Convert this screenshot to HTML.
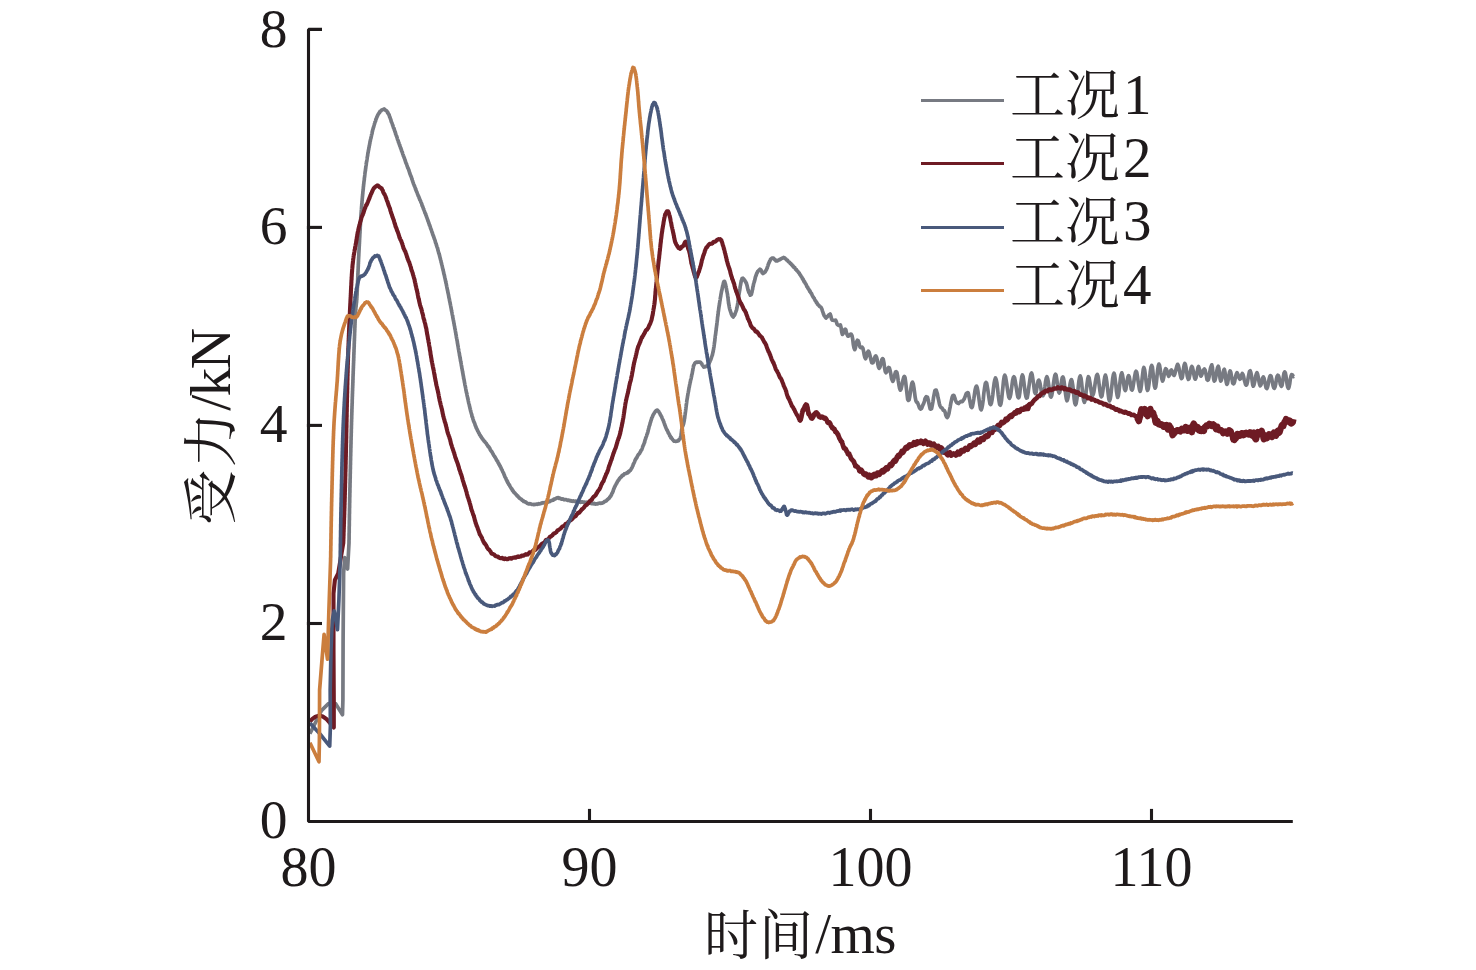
<!DOCTYPE html>
<html lang="zh-CN">
<head>
<meta charset="utf-8">
<title>受力-时间曲线</title>
<style>
html,body{margin:0;padding:0;background:#fff;}
body{width:1476px;height:970px;overflow:hidden;}
svg{display:block;}
</style>
</head>
<body>
<svg width="1476" height="970" viewBox="0 0 1476 970">
<rect width="1476" height="970" fill="#ffffff"/>
<path d="M309.9 733.7L321.4 710.6L328.5 703.6L335.5 703.6L342.5 714.7L342.9 700.0L343.1 640.0L343.6 573.4L344.7 557.7L347.6 569.0L349.0 543.0L349.0 543.0L349.0 542.3L349.0 541.6L349.0 540.9L349.0 540.2L349.1 539.5L349.1 538.8L349.1 538.1L349.1 537.5L349.1 536.8L349.1 536.1L349.1 535.4L349.1 534.7L349.1 534.1L349.1 533.4L349.2 532.7L349.2 532.0L349.2 531.4L349.2 530.7L349.2 530.0L349.2 529.3L349.2 528.7L349.2 528.0L349.2 527.3L349.2 526.7L349.3 526.0L349.3 525.3L349.3 524.6L349.3 524.0L349.3 523.3L349.3 522.6L349.3 521.9L349.3 521.2L349.3 520.6L349.4 519.9L349.4 519.2L349.4 518.5L349.4 517.8L349.4 517.1L349.4 516.4L349.4 515.7L349.4 515.0L349.4 514.3L349.5 513.6L349.5 512.9L349.5 512.2L349.5 511.4L349.5 510.7L349.5 510.0L349.5 509.2L349.5 508.5L349.6 507.8L349.6 507.0L349.6 506.2L349.6 505.5L349.6 504.7L349.6 503.9L349.6 503.2L349.7 502.4L349.7 501.6L349.7 500.8L349.7 500.0L349.7 499.4L349.7 498.8L349.7 498.2L349.7 497.6L349.8 496.9L349.8 496.3L349.8 495.7L349.8 495.1L349.8 494.4L349.8 493.8L349.8 493.1L349.9 492.5L349.9 491.9L349.9 491.2L349.9 490.5L349.9 489.9L349.9 489.2L349.9 488.6L349.9 487.9L350.0 487.2L350.0 486.5L350.0 485.9L350.0 485.2L350.0 484.5L350.0 483.8L350.0 483.1L350.1 482.4L350.1 481.7L350.1 481.0L350.1 480.3L350.1 479.6L350.1 478.9L350.2 478.2L350.2 477.5L350.2 476.8L350.2 476.1L350.2 475.4L350.2 474.7L350.2 474.0L350.3 473.3L350.3 472.5L350.3 471.8L350.3 471.1L350.3 470.4L350.3 469.6L350.4 468.9L350.4 468.2L350.4 467.5L350.4 466.7L350.4 466.0L350.4 465.3L350.5 464.5L350.5 463.8L350.5 463.1L350.5 462.3L350.5 461.6L350.5 460.9L350.6 460.1L350.6 459.4L350.6 458.7L350.6 457.9L350.6 457.2L350.6 456.5L350.7 455.7L350.7 455.0L350.7 454.2L350.7 453.5L350.7 452.8L350.8 452.0L350.8 451.3L350.8 450.6L350.8 449.8L350.8 449.1L350.8 448.4L350.9 447.6L350.9 446.9L350.9 446.2L350.9 445.4L350.9 444.7L351.0 444.0L351.0 443.3L351.0 442.5L351.0 441.8L351.0 441.1L351.0 440.4L351.1 439.7L351.1 438.9L351.1 438.2L351.1 437.5L351.1 436.8L351.2 436.1L351.2 435.4L351.2 434.7L351.2 434.0L351.2 433.3L351.3 432.6L351.3 431.9L351.3 431.2L351.3 430.5L351.3 429.8L351.3 429.1L351.4 428.4L351.4 427.7L351.4 427.1L351.4 426.4L351.4 425.7L351.5 425.0L351.5 424.4L351.5 423.7L351.5 423.0L351.5 422.2L351.6 421.5L351.6 420.8L351.6 420.0L351.6 419.3L351.7 418.5L351.7 417.8L351.7 417.1L351.7 416.4L351.7 415.6L351.8 414.9L351.8 414.2L351.8 413.4L351.8 412.7L351.9 412.0L351.9 411.3L351.9 410.5L351.9 409.8L351.9 409.1L352.0 408.4L352.0 407.7L352.0 407.2L352.0 406.4L352.1 405.6L352.1 404.8L352.1 403.7L352.1 403.6L352.2 402.9L352.2 401.9L352.2 401.3L352.2 400.8L352.2 399.8L352.3 399.1L352.3 398.4L352.3 397.9L352.3 397.2L352.4 396.1L352.4 395.8L352.4 394.8L352.4 394.3L352.5 393.3L352.5 393.1L352.5 392.4L352.5 391.6L352.6 390.5L352.6 389.8L352.6 389.2L352.6 388.6L352.7 387.5L352.7 387.2L352.7 386.8L352.7 385.4L352.8 385.4L352.8 384.4L352.8 384.1L352.8 383.2L352.9 382.5L352.9 381.8L352.9 380.9L352.9 379.9L353.0 379.8L353.0 379.2L353.0 378.4L353.0 377.3L353.0 376.8L353.1 376.1L353.1 375.3L353.1 374.7L353.1 374.0L353.2 373.8L353.2 372.8L353.2 372.4L353.2 371.7L353.3 370.4L353.3 370.2L353.3 369.2L353.3 368.7L353.4 368.0L353.4 367.5L353.4 366.4L353.4 366.1L353.5 365.2L353.5 364.8L353.5 363.9L353.5 363.4L353.6 363.0L353.6 361.7L353.6 360.8L353.7 360.7L353.7 359.7L353.7 359.0L353.7 358.4L353.8 357.7L353.8 356.5L353.8 356.2L353.8 355.0L353.9 354.5L353.9 353.8L353.9 352.6L354.0 351.9L354.0 351.0L354.0 350.2L354.0 349.5L354.1 349.0L354.1 347.6L354.1 347.5L354.2 346.6L354.2 345.6L354.2 344.9L354.2 343.8L354.3 343.4L354.3 342.7L354.3 341.5L354.4 340.8L354.4 339.8L354.4 339.0L354.4 338.7L354.5 337.7L354.5 336.8L354.5 336.2L354.6 335.0L354.6 334.1L354.6 333.6L354.6 333.0L354.7 331.9L354.7 331.5L354.7 330.5L354.8 329.7L354.8 329.4L354.8 328.3L354.8 327.9L354.9 327.2L354.9 326.2L354.9 325.2L355.0 325.1L355.0 324.2L355.0 323.5L355.0 322.9L355.1 322.2L355.1 321.8L355.1 320.4L355.2 320.5L355.2 319.6L355.2 318.8L355.3 318.6L355.3 318.0L355.3 317.1L355.3 316.1L355.4 316.0L355.4 315.2L355.4 314.8L355.5 314.5L355.5 313.4L355.5 313.4L355.6 312.5L355.6 312.0L355.6 311.3L355.6 310.9L355.7 310.6L355.7 310.3L355.8 309.7L355.8 308.2L355.9 307.5L356.0 306.9L356.1 306.5L356.1 305.6L356.2 305.3L356.3 304.2L356.3 303.5L356.4 303.3L356.5 302.7L356.6 301.5L356.6 300.6L356.7 300.1L356.7 299.2L356.8 299.4L356.8 298.7L356.8 297.8L356.9 297.5L356.9 296.6L356.9 296.1L357.0 295.8L357.0 295.6L357.0 295.1L357.1 294.3L357.1 293.6L357.1 293.0L357.1 292.3L357.2 291.8L357.2 291.0L357.2 290.2L357.3 289.9L357.3 288.8L357.3 288.2L357.4 287.7L357.4 287.3L357.4 286.1L357.5 285.4L357.5 284.7L357.5 283.8L357.5 283.2L357.6 282.8L357.6 281.5L357.6 281.0L357.7 280.1L357.7 279.6L357.7 278.9L357.8 277.6L357.8 277.2L357.8 276.1L357.9 275.7L357.9 275.0L357.9 273.8L358.0 273.0L358.0 272.3L358.0 271.5L358.1 271.2L358.1 270.4L358.1 269.5L358.2 268.4L358.2 267.7L358.2 266.7L358.3 266.1L358.3 265.7L358.3 264.2L358.4 263.7L358.4 262.7L358.4 262.5L358.5 261.2L358.5 260.6L358.5 259.5L358.6 259.2L358.6 258.3L358.6 257.8L358.7 257.0L358.7 256.3L358.8 255.1L358.8 254.4L358.8 254.0L358.9 252.9L358.9 252.9L358.9 252.0L359.0 251.1L359.0 250.3L359.1 249.4L359.1 249.1L359.1 248.6L359.2 247.3L359.2 246.6L359.2 246.4L359.3 245.5L359.3 245.0L359.3 244.0L359.4 243.8L359.4 242.9L359.5 241.8L359.5 241.2L359.5 240.6L359.6 239.7L359.6 239.3L359.6 238.5L359.7 237.9L359.7 236.7L359.8 236.2L359.8 235.5L359.8 234.8L359.9 233.6L359.9 233.5L360.0 232.5L360.0 231.5L360.0 231.3L360.1 230.4L360.1 229.8L360.2 229.1L360.2 228.3L360.2 227.8L360.3 226.4L360.3 225.8L360.4 225.0L360.4 224.6L360.4 223.6L360.5 222.7L360.5 222.1L360.6 221.4L360.6 221.0L360.7 220.2L360.7 219.5L360.8 218.4L360.8 218.1L360.8 217.2L360.9 216.4L360.9 215.6L361.0 215.0L361.0 214.5L361.1 213.6L361.1 213.2L361.2 212.2L361.2 212.0L361.3 211.4L361.3 210.3L361.4 209.4L361.4 209.4L361.5 208.1L361.5 207.8L361.6 207.3L361.6 206.4L361.7 206.0L361.7 204.8L361.8 204.6L361.8 204.1L361.9 203.4L362.0 202.6L362.0 201.5L362.1 200.8L362.2 200.4L362.2 199.2L362.3 198.4L362.4 197.5L362.4 196.9L362.5 196.1L362.6 196.0L362.6 194.8L362.7 194.1L362.8 193.8L362.8 192.9L362.9 192.0L363.0 191.0L363.1 190.5L363.1 189.7L363.2 189.5L363.3 188.4L363.3 188.1L363.4 186.8L363.5 186.0L363.6 185.9L363.6 184.6L363.7 184.4L363.8 183.6L363.9 182.7L363.9 182.4L364.0 181.4L364.1 181.1L364.2 180.1L364.3 179.7L364.3 179.0L364.4 177.9L364.5 177.5L364.6 176.8L364.7 176.1L364.8 174.9L364.8 174.8L364.9 174.2L365.0 173.0L365.1 172.3L365.2 171.6L365.3 171.3L365.4 170.3L365.5 170.2L365.5 169.2L365.6 169.0L365.7 168.2L365.8 167.3L365.9 166.4L366.0 165.9L366.1 165.3L366.2 164.8L366.3 164.1L366.4 162.9L366.5 161.9L366.7 161.6L366.8 160.9L366.9 160.1L367.0 159.5L367.1 158.8L367.2 157.9L367.3 157.3L367.5 156.0L367.6 156.0L367.7 155.0L367.8 153.8L367.9 153.1L368.1 152.8L368.2 151.8L368.3 151.6L368.4 150.4L368.6 149.8L368.7 149.1L368.8 148.8L368.9 147.6L369.1 147.3L369.2 146.5L369.3 145.7L369.5 145.3L369.6 144.6L369.7 143.8L369.9 143.0L370.0 141.9L370.1 141.4L370.3 141.1L370.4 140.0L370.5 139.8L370.7 138.9L370.8 138.3L371.0 138.0L371.1 137.4L371.3 136.5L371.5 135.5L371.6 134.8L371.8 134.4L372.0 133.6L372.2 132.6L372.3 131.4L372.5 131.3L372.7 129.9L372.9 129.2L373.1 128.9L373.3 127.8L373.5 127.6L373.7 126.8L373.9 125.7L374.0 125.6L374.2 125.0L374.4 124.1L374.6 123.7L374.8 122.9L375.0 122.0L375.2 121.7L375.5 121.2L375.7 120.4L375.9 119.3L376.1 119.0L376.3 118.8L376.6 117.7L377.0 116.7L377.3 116.2L377.7 115.2L378.1 114.7L378.4 113.7L378.8 113.6L379.2 112.6L379.6 112.6L380.0 111.4L380.4 111.4L381.0 110.9L381.6 110.0L382.2 109.9L382.9 109.6L383.5 109.4L384.1 109.0L384.7 109.5L385.3 110.1L385.9 110.4L386.5 110.8L387.1 111.5L387.6 112.7L387.9 112.5L388.2 113.4L388.5 114.0L388.8 114.5L389.1 114.8L389.3 115.5L389.6 116.8L389.9 117.2L390.1 117.8L390.4 118.7L390.7 119.2L390.9 120.0L391.2 121.4L391.5 122.1L391.8 122.5L392.0 123.1L392.2 123.5L392.4 124.3L392.6 125.0L392.9 125.8L393.1 126.2L393.3 127.1L393.5 127.9L393.8 128.2L394.0 128.4L394.2 129.1L394.4 130.2L394.7 130.5L394.9 131.8L395.1 131.8L395.4 132.5L395.6 133.9L395.9 134.2L396.1 135.0L396.3 135.7L396.6 136.0L396.8 136.9L397.1 137.6L397.3 138.6L397.5 139.4L397.8 140.0L398.0 140.3L398.3 141.2L398.5 142.3L398.8 142.4L399.0 143.2L399.2 144.0L399.5 145.0L399.7 144.9L399.9 146.1L400.2 146.6L400.4 147.3L400.6 148.2L400.9 148.2L401.1 149.3L401.4 149.8L401.6 150.8L401.8 151.4L402.1 151.8L402.3 152.3L402.6 153.5L402.8 154.1L403.1 154.6L403.3 155.5L403.5 156.3L403.8 156.4L404.0 157.4L404.3 158.2L404.5 158.4L404.8 159.6L405.0 159.8L405.3 161.0L405.5 161.4L405.7 162.4L406.0 163.0L406.2 163.5L406.5 163.9L406.7 164.6L407.0 165.4L407.2 166.2L407.4 166.6L407.7 167.7L407.9 167.8L408.2 168.7L408.4 169.1L408.7 169.8L408.9 170.5L409.1 171.0L409.4 172.1L409.6 172.8L409.9 173.3L410.1 174.3L410.4 174.8L410.6 175.6L410.8 175.8L411.1 176.6L411.3 177.0L411.6 177.8L411.8 179.0L412.1 179.1L412.3 180.2L412.5 180.7L412.8 181.6L413.0 182.4L413.3 183.0L413.5 183.8L413.8 184.5L414.0 184.7L414.3 185.8L414.5 186.3L414.8 186.6L415.0 187.3L415.3 188.1L415.5 189.0L415.8 189.1L416.0 190.4L416.3 190.9L416.5 191.5L416.8 192.0L417.1 192.6L417.3 193.3L417.6 194.2L417.9 194.7L418.1 195.6L418.4 196.3L418.7 196.4L418.9 197.0L419.2 198.4L419.5 198.4L419.7 199.6L420.0 199.9L420.3 200.4L420.5 200.9L420.8 201.9L421.1 202.7L421.3 202.9L421.6 203.5L421.9 204.4L422.1 205.6L422.4 206.1L422.7 206.4L422.9 207.2L423.2 207.9L423.4 208.8L423.7 209.1L423.9 209.8L424.2 210.6L424.4 211.1L424.7 211.9L424.9 212.8L425.2 213.3L425.5 213.6L425.7 214.5L426.0 215.3L426.2 215.7L426.5 216.5L426.7 217.4L427.0 217.9L427.2 218.4L427.5 219.7L427.7 219.7L428.0 221.0L428.2 221.1L428.5 222.1L428.7 222.8L429.0 223.4L429.2 224.2L429.4 225.1L429.7 225.3L429.9 225.8L430.2 226.5L430.4 227.8L430.6 228.2L430.9 229.0L431.1 229.3L431.3 229.9L431.6 230.9L431.8 231.4L432.0 232.3L432.2 232.4L432.5 233.3L432.7 234.3L433.0 235.1L433.2 235.5L433.5 236.4L433.7 236.5L433.9 237.6L434.2 238.1L434.4 239.0L434.6 239.4L434.8 239.9L435.1 240.7L435.3 241.7L435.5 242.3L435.7 243.2L435.9 243.4L436.2 243.8L436.4 245.1L436.6 245.3L436.8 246.4L437.0 246.9L437.2 247.6L437.5 247.9L437.7 248.8L437.9 250.0L438.1 250.5L438.3 251.4L438.5 252.0L438.6 252.5L438.8 253.5L439.0 253.3L439.2 254.3L439.4 255.1L439.6 255.4L439.7 256.7L439.9 256.8L440.1 257.9L440.3 258.3L440.4 259.1L440.6 259.8L440.8 260.4L441.0 261.0L441.1 262.1L441.3 262.8L441.5 263.0L441.7 264.4L441.8 264.5L442.0 265.3L442.2 266.0L442.3 266.8L442.5 267.6L442.7 268.6L442.8 268.7L443.0 269.8L443.2 270.5L443.3 270.9L443.5 271.7L443.7 272.5L443.8 273.5L444.0 274.1L444.1 274.6L444.3 275.0L444.5 275.9L444.6 276.9L444.8 277.3L444.9 277.9L445.1 278.8L445.2 279.0L445.4 280.2L445.5 280.9L445.7 281.1L445.8 282.1L446.0 283.1L446.1 283.3L446.3 284.2L446.4 284.7L446.5 285.6L446.7 286.1L446.8 286.8L447.0 287.9L447.1 288.4L447.3 289.3L447.4 289.5L447.5 290.3L447.7 290.9L447.8 292.0L448.0 292.3L448.1 293.2L448.2 293.5L448.4 294.5L448.5 294.9L448.7 296.2L448.8 296.4L448.9 297.6L449.1 298.0L449.2 298.5L449.4 299.3L449.5 300.3L449.6 300.8L449.8 301.6L449.9 302.1L450.0 302.8L450.2 303.2L450.3 304.4L450.5 304.9L450.6 305.6L450.7 306.0L450.9 307.1L451.0 307.6L451.1 308.1L451.3 309.3L451.4 309.9L451.5 310.5L451.7 311.3L451.8 311.9L451.9 312.3L452.1 313.5L452.2 314.1L452.3 314.6L452.4 315.1L452.6 315.9L452.7 316.2L452.8 317.6L453.0 318.3L453.1 318.8L453.2 319.4L453.4 320.4L453.5 320.5L453.6 321.5L453.8 322.2L453.9 323.2L454.1 323.7L454.2 324.6L454.3 325.6L454.5 326.0L454.6 326.5L454.7 327.1L454.8 328.4L455.0 328.8L455.1 329.4L455.2 329.7L455.3 330.5L455.4 331.1L455.6 332.5L455.7 332.5L455.8 333.4L455.9 334.2L456.1 335.0L456.2 335.4L456.3 336.4L456.4 337.1L456.5 338.1L456.7 338.1L456.8 339.0L456.9 339.5L457.0 340.4L457.2 341.0L457.3 341.6L457.4 342.9L457.5 343.2L457.7 344.3L457.8 345.1L457.9 345.8L458.0 345.9L458.2 347.1L458.3 348.0L458.4 348.5L458.5 349.2L458.7 349.8L458.8 350.8L458.9 351.3L459.0 351.9L459.2 352.7L459.3 353.4L459.4 353.9L459.5 355.0L459.7 355.9L459.8 356.4L459.9 356.6L460.0 357.6L460.2 358.6L460.3 358.8L460.4 359.8L460.5 360.7L460.7 361.2L460.8 361.8L460.9 362.2L461.1 363.5L461.2 363.8L461.3 364.8L461.4 365.5L461.6 366.4L461.7 366.6L461.8 368.0L462.0 368.5L462.1 369.4L462.2 369.5L462.3 370.7L462.5 371.1L462.6 372.1L462.7 372.8L462.9 373.3L463.0 374.4L463.1 374.7L463.2 375.5L463.4 376.4L463.5 376.7L463.6 378.0L463.8 378.2L463.9 379.4L464.0 379.5L464.2 380.2L464.3 381.3L464.4 381.7L464.5 382.6L464.7 383.1L464.8 384.2L464.9 384.9L465.1 385.5L465.2 385.8L465.3 386.4L465.5 387.5L465.6 387.8L465.8 389.0L465.9 389.5L466.0 390.5L466.2 391.1L466.3 391.6L466.4 392.4L466.6 392.8L466.7 393.3L466.9 393.8L467.0 395.0L467.2 395.7L467.3 396.4L467.5 397.0L467.6 397.7L467.8 398.8L468.0 399.1L468.1 399.7L468.3 401.1L468.5 401.6L468.6 402.5L468.8 403.3L468.9 403.6L469.1 404.1L469.3 405.0L469.4 405.8L469.6 406.4L469.8 407.4L469.9 407.7L470.1 409.0L470.3 409.0L470.4 409.8L470.6 410.9L470.8 411.1L471.0 412.2L471.1 412.5L471.3 413.3L471.5 414.0L471.7 414.4L471.9 415.5L472.0 416.3L472.2 416.9L472.4 416.9L472.6 417.4L472.8 418.4L473.0 419.2L473.2 419.6L473.5 420.7L473.7 421.5L474.0 421.9L474.2 422.3L474.5 423.1L474.7 423.5L475.0 424.4L475.2 425.4L475.5 425.7L475.7 426.2L476.0 427.2L476.3 428.1L476.6 428.5L476.8 428.7L477.1 429.6L477.4 430.0L477.7 431.1L478.1 431.4L478.4 432.1L478.7 433.0L479.0 433.2L479.4 434.0L479.7 435.0L480.1 435.0L480.5 435.8L480.8 436.5L481.2 436.8L481.6 437.6L482.0 438.0L482.4 438.9L482.9 439.3L483.3 440.0L483.7 440.4L484.1 441.1L484.6 441.4L485.0 441.8L485.4 442.5L485.9 443.0L486.3 443.4L486.8 444.5L487.2 444.9L487.6 445.5L488.0 446.3L488.5 446.3L488.9 447.0L489.3 448.1L489.7 448.1L490.1 449.4L490.4 449.7L490.8 450.6L491.2 451.1L491.5 451.3L491.9 451.9L492.3 452.5L492.7 453.4L493.0 453.8L493.4 454.6L493.8 455.4L494.1 455.8L494.5 456.2L494.8 457.0L495.2 457.4L495.6 458.1L495.9 458.6L496.3 459.6L496.6 460.3L497.0 460.6L497.3 461.2L497.7 461.4L498.0 462.4L498.4 463.3L498.7 463.4L499.0 464.4L499.4 464.6L499.7 465.6L500.0 465.8L500.3 466.7L500.7 467.5L501.0 467.6L501.3 468.9L501.7 469.4L502.0 469.8L502.3 470.5L502.6 471.4L502.9 472.2L503.2 472.5L503.5 473.0L503.8 473.8L504.1 474.8L504.4 475.3L504.7 476.3L505.0 476.9L505.3 477.3L505.6 478.1L505.9 478.4L506.2 479.4L506.5 480.1L506.8 480.4L507.1 481.3L507.5 481.5L507.8 482.8L508.2 483.1L508.5 484.0L508.9 484.5L509.3 484.7L509.7 485.8L510.0 486.3L510.4 486.8L510.8 487.6L511.2 488.3L511.6 488.8L512.0 489.1L512.4 490.3L512.8 490.8L513.2 491.0L513.6 491.9L514.0 492.5L514.4 492.6L514.8 493.0L515.2 493.5L515.7 494.2L516.1 494.4L516.6 495.0L517.1 496.0L517.7 495.9L518.2 496.9L518.7 497.3L519.3 498.0L519.8 498.1L520.3 498.7L520.9 499.0L521.5 499.2L522.0 500.3L522.6 500.3L523.2 500.6L523.7 501.5L524.3 501.4L525.0 501.9L525.6 501.9L526.3 502.5L527.0 503.2L527.6 503.4L528.3 503.7L529.0 504.0L529.7 503.7L530.4 503.8L531.1 504.0L531.9 504.5L532.6 504.5L533.3 504.4L534.0 504.7L534.7 504.3L535.5 504.5L536.2 504.3L537.0 504.0L537.7 504.3L538.5 503.7L539.3 504.0L540.0 503.8L540.8 503.4L541.5 503.3L542.2 502.9L542.9 502.7L543.6 503.0L544.3 502.6L545.1 502.6L545.8 502.3L546.5 502.0L547.2 501.8L547.8 502.1L548.5 501.7L549.2 501.2L549.8 501.6L550.5 500.8L551.1 500.7L551.8 500.3L552.5 500.3L553.2 500.1L553.9 499.1L554.5 499.4L555.2 498.8L555.9 498.6L556.6 498.1L557.3 497.9L557.9 497.6L558.6 497.8L559.2 498.4L559.9 498.1L560.6 498.8L561.3 498.9L562.0 499.2L562.7 498.8L563.4 499.3L564.1 499.8L564.9 499.6L565.6 499.7L566.3 499.6L567.0 500.2L567.7 500.3L568.5 500.2L569.2 500.3L569.9 500.8L570.7 500.5L571.4 501.1L572.2 501.3L572.9 501.0L573.7 500.9L574.4 501.4L575.2 501.2L575.9 501.2L576.6 501.8L577.4 501.7L578.1 501.6L578.8 501.6L579.6 502.1L580.3 502.3L581.0 501.9L581.8 502.2L582.5 501.9L583.3 502.2L584.0 502.3L584.7 502.2L585.5 502.5L586.2 502.5L586.9 502.2L587.7 502.4L588.4 502.7L589.2 502.7L589.9 503.1L590.7 503.3L591.4 503.4L592.2 503.7L592.9 503.6L593.7 503.8L594.4 503.4L595.1 504.0L595.8 504.1L596.5 503.8L597.2 503.9L598.0 503.6L598.7 503.4L599.4 503.1L600.1 503.2L600.8 503.3L601.5 503.2L602.2 503.1L602.8 502.5L603.5 502.6L604.1 501.9L604.7 501.3L605.3 501.3L605.9 501.0L606.4 500.8L607.0 500.0L607.5 499.4L608.0 499.5L608.5 498.5L609.0 498.5L609.5 497.8L609.9 496.8L610.4 496.5L610.7 496.2L611.1 495.2L611.4 495.2L611.7 493.9L612.0 493.3L612.3 493.0L612.6 492.4L612.8 491.7L613.1 491.2L613.4 490.0L613.7 489.1L613.9 488.8L614.2 488.0L614.5 487.3L614.8 486.6L615.1 486.3L615.4 485.2L615.7 484.9L616.0 484.3L616.4 483.4L616.8 483.2L617.2 482.0L617.6 481.5L618.0 480.7L618.4 480.5L618.8 479.9L619.2 479.1L619.7 478.3L620.1 478.2L620.5 477.4L621.0 477.1L621.5 476.6L622.0 475.6L622.6 475.1L623.1 475.3L623.8 474.9L624.4 473.9L625.1 473.7L625.7 473.5L626.4 473.4L627.0 472.6L627.7 472.8L628.3 471.7L628.9 471.9L629.5 470.7L630.0 470.6L630.4 470.4L630.8 469.7L631.2 469.2L631.5 468.2L631.8 468.1L632.1 467.4L632.5 466.3L632.7 466.0L633.0 465.5L633.3 464.2L633.6 463.7L633.9 463.3L634.2 462.5L634.5 462.1L634.8 461.0L635.1 460.4L635.4 459.6L635.7 459.0L636.1 458.9L636.4 457.8L636.8 457.7L637.1 457.0L637.5 456.2L637.9 455.4L638.3 454.6L638.7 454.1L639.0 454.1L639.4 453.6L639.8 453.1L640.2 451.9L640.5 451.8L640.9 450.8L641.2 450.1L641.6 449.9L641.9 449.2L642.2 448.4L642.5 447.5L642.7 446.7L643.0 446.0L643.3 445.4L643.6 444.7L643.8 444.3L644.1 443.3L644.3 442.5L644.6 442.4L644.8 441.2L645.0 440.2L645.3 439.5L645.5 439.2L645.7 438.1L645.9 437.8L646.2 436.7L646.4 436.4L646.6 435.8L646.8 435.1L647.0 434.2L647.2 433.9L647.5 433.3L647.7 432.4L647.9 431.8L648.1 431.1L648.3 430.0L648.5 429.4L648.7 428.6L648.8 428.2L649.0 427.1L649.2 426.4L649.4 425.9L649.6 425.4L649.8 425.0L650.0 423.9L650.2 422.9L650.4 422.4L650.6 422.1L650.9 420.7L651.1 420.3L651.3 419.7L651.5 419.1L651.7 418.0L652.0 417.6L652.2 417.2L652.5 416.6L652.8 415.7L653.2 414.8L653.6 414.2L654.1 413.5L654.5 412.7L655.0 412.0L655.5 411.2L656.0 411.0L656.4 410.4L656.9 410.2L657.4 410.2L657.8 410.9L658.3 411.0L658.8 411.7L659.2 412.4L659.7 413.2L660.1 414.0L660.6 415.2L661.0 415.6L661.3 416.2L661.6 416.7L661.9 417.5L662.2 418.4L662.5 418.9L662.8 419.6L663.1 420.2L663.4 420.8L663.6 421.6L663.9 422.2L664.2 423.1L664.4 423.6L664.7 424.6L664.9 425.3L665.2 425.6L665.5 426.9L665.8 427.3L666.1 428.2L666.4 428.7L666.7 429.6L667.0 430.2L667.3 430.4L667.7 431.4L668.0 431.8L668.3 432.9L668.7 433.3L669.0 433.9L669.4 434.4L669.8 435.9L670.1 435.9L670.5 436.7L670.9 437.8L671.4 437.7L671.8 438.5L672.3 439.1L672.9 439.9L673.5 440.6L674.1 441.2L674.7 441.1L675.3 441.2L675.9 441.4L676.5 441.1L677.1 441.1L677.8 441.0L678.4 440.8L679.0 439.6L679.5 439.1L680.0 438.9L680.3 438.2L680.5 437.5L680.7 436.6L680.9 435.9L681.0 435.3L681.1 434.9L681.2 433.7L681.3 433.2L681.4 432.7L681.5 431.3L681.6 430.7L681.6 430.1L681.7 429.5L681.9 429.0L682.0 428.3L682.2 427.3L682.5 426.6L682.7 426.2L683.0 425.4L683.2 425.1L683.5 424.0L683.7 423.1L683.8 422.7L683.9 422.1L684.0 421.6L684.1 421.2L684.2 420.6L684.3 420.4L684.4 419.2L684.5 418.7L684.6 418.5L684.7 417.7L684.8 416.8L684.9 415.9L685.0 415.1L685.1 414.6L685.2 413.9L685.3 413.1L685.4 412.2L685.5 411.6L685.6 410.9L685.7 409.8L685.8 409.4L685.9 408.7L686.0 407.5L686.1 406.7L686.2 405.7L686.3 405.3L686.4 404.6L686.5 403.6L686.6 403.0L686.7 402.2L686.8 401.0L686.9 400.2L687.0 399.8L687.1 399.4L687.2 398.5L687.4 397.6L687.5 396.7L687.6 395.9L687.7 395.7L687.8 395.1L687.9 394.1L688.1 393.1L688.2 392.5L688.3 392.1L688.5 391.4L688.6 390.4L688.7 390.0L688.9 388.9L689.0 387.9L689.2 387.3L689.3 387.1L689.4 386.3L689.6 385.1L689.7 384.5L689.9 383.9L690.0 383.3L690.2 382.2L690.3 382.3L690.4 381.3L690.6 380.4L690.7 379.5L690.9 379.3L691.0 379.0L691.2 378.1L691.3 377.6L691.4 377.0L691.6 376.2L691.7 375.1L691.9 374.7L692.0 374.4L692.2 373.4L692.4 372.4L692.5 371.5L692.6 371.2L692.8 370.3L692.9 369.1L693.1 368.5L693.2 368.0L693.4 366.7L693.5 366.3L693.7 365.3L693.9 365.2L694.2 364.6L694.5 364.2L694.8 363.3L695.1 363.0L695.7 362.4L696.4 362.1L697.2 362.3L698.0 362.2L698.8 362.1L699.5 362.1L700.2 362.0L700.7 362.5L701.2 363.2L701.7 363.5L702.1 364.6L702.5 365.3L702.9 365.7L703.4 366.3L703.8 367.0L704.3 366.8L704.9 366.9L705.5 366.6L706.1 366.1L706.8 366.3L707.4 365.7L708.0 364.9L708.5 364.0L708.8 363.7L709.2 363.2L709.5 362.4L709.8 361.9L710.1 360.9L710.4 360.4L710.7 359.8L710.9 359.1L711.2 358.6L711.4 357.5L711.7 356.7L711.9 356.4L712.1 355.6L712.4 354.9L712.6 353.9L712.8 352.9L712.9 352.5L713.0 352.2L713.2 351.5L713.3 350.4L713.4 349.9L713.6 349.4L713.7 348.2L713.8 347.7L713.9 347.4L714.0 346.7L714.1 345.8L714.2 345.1L714.3 344.4L714.4 343.5L714.5 342.5L714.6 342.3L714.7 341.6L714.8 340.6L714.9 340.1L714.9 339.4L715.0 338.5L715.1 337.9L715.2 337.2L715.3 335.7L715.4 335.7L715.5 334.6L715.6 334.1L715.7 333.3L715.8 332.1L715.9 331.8L716.0 330.7L716.1 330.5L716.2 329.5L716.2 328.9L716.3 328.1L716.4 327.8L716.5 326.9L716.6 325.9L716.7 325.6L716.8 324.4L716.9 324.2L716.9 323.3L717.0 322.7L717.1 321.9L717.2 321.4L717.3 320.5L717.4 319.6L717.5 318.9L717.5 318.2L717.6 317.2L717.7 316.5L717.8 316.2L717.9 315.5L718.0 314.9L718.1 314.0L718.2 313.2L718.2 312.4L718.3 311.9L718.4 311.2L718.5 310.8L718.6 309.9L718.7 309.0L718.8 308.2L718.9 307.3L719.0 307.1L719.1 306.0L719.3 305.2L719.4 304.2L719.5 303.8L719.6 303.3L719.7 302.1L719.8 301.7L719.9 300.9L720.1 300.1L720.2 299.3L720.3 298.3L720.4 297.9L720.5 297.1L720.7 296.7L720.8 295.6L720.9 294.8L721.0 294.5L721.1 293.6L721.3 292.7L721.4 292.3L721.5 291.3L721.6 290.7L721.8 290.7L721.9 289.8L722.1 289.2L722.3 287.8L722.5 287.1L722.7 285.9L722.9 285.5L723.1 284.5L723.3 283.5L723.5 282.8L723.7 282.1L723.9 281.6L724.1 281.7L724.3 281.3L724.5 281.3L724.7 281.7L724.8 282.2L725.0 283.1L725.2 283.2L725.4 283.9L725.6 285.2L725.8 285.8L725.9 286.5L726.1 287.4L726.3 288.1L726.5 289.0L726.7 290.2L726.8 291.2L727.0 291.6L727.1 292.5L727.2 292.9L727.4 293.9L727.5 294.4L727.6 295.4L727.7 296.2L727.8 296.7L727.9 297.4L728.0 298.0L728.1 298.9L728.2 300.0L728.3 300.9L728.4 301.2L728.5 302.6L728.6 303.4L728.8 303.7L728.9 304.6L729.0 305.4L729.1 305.9L729.2 306.6L729.4 307.6L729.5 308.1L729.6 308.6L729.8 309.4L729.9 309.6L730.1 310.4L730.4 311.2L730.7 312.0L731.1 313.2L731.4 314.3L731.8 314.9L732.1 315.6L732.5 316.3L732.9 316.4L733.2 317.0L733.5 316.2L733.9 315.7L734.3 315.6L734.6 315.1L735.0 314.0L735.3 313.1L735.7 312.1L736.0 311.1L736.3 310.6L736.5 310.2L736.6 309.1L736.8 308.8L736.9 308.1L737.0 307.1L737.2 307.0L737.3 306.1L737.4 305.8L737.5 305.0L737.6 304.2L737.8 303.0L737.9 302.1L738.0 301.9L738.1 300.5L738.2 300.2L738.3 299.0L738.4 298.6L738.5 297.3L738.6 296.6L738.7 296.5L738.8 295.4L738.9 294.6L739.0 294.3L739.1 293.5L739.3 292.3L739.4 292.1L739.5 291.0L739.7 290.2L739.8 289.3L740.0 288.3L740.1 287.4L740.2 286.5L740.4 285.5L740.5 285.2L740.7 283.9L740.8 283.2L741.0 282.6L741.1 281.7L741.3 280.6L741.5 280.6L741.6 280.0L741.8 279.5L742.0 278.7L742.3 278.9L742.5 278.6L743.0 278.2L743.5 278.7L744.0 279.5L744.6 280.1L745.1 281.1L745.6 281.7L745.9 282.3L746.1 283.0L746.4 283.1L746.6 284.3L746.8 284.3L747.0 285.7L747.2 285.9L747.4 287.1L747.5 287.8L747.7 288.3L747.9 289.5L748.1 290.4L748.3 290.6L748.5 291.2L748.7 292.1L749.1 292.8L749.5 293.2L749.9 294.2L750.3 295.2L750.7 294.8L750.9 294.7L751.1 294.6L751.3 294.5L751.5 293.9L751.7 292.9L751.9 292.4L752.1 291.1L752.3 290.3L752.5 289.6L752.7 288.9L752.8 287.6L753.0 286.6L753.2 286.3L753.4 284.9L753.6 284.0L753.8 283.3L754.0 282.5L754.2 282.0L754.4 281.5L754.6 280.8L754.8 279.8L755.0 279.2L755.1 278.3L755.3 277.8L755.5 276.7L755.7 276.4L756.0 275.3L756.2 275.4L756.4 274.2L756.6 273.9L756.9 273.1L757.3 272.5L757.7 271.5L758.2 271.1L758.6 270.5L759.1 270.0L759.6 269.7L760.0 269.2L760.4 269.5L760.9 269.9L761.3 270.6L761.8 271.7L762.2 272.8L762.6 272.7L763.1 273.5L763.6 273.1L764.1 272.9L764.7 272.1L765.2 271.8L765.7 270.9L766.2 270.0L766.5 269.6L766.8 268.7L767.1 268.1L767.3 268.0L767.5 266.6L767.8 266.1L768.0 265.6L768.2 264.3L768.5 264.3L768.7 263.0L769.0 263.0L769.3 261.9L769.7 261.3L770.1 260.5L770.5 259.4L771.0 259.0L771.4 258.6L771.9 258.2L772.4 258.0L772.9 258.1L773.5 258.0L774.1 258.8L774.7 259.6L775.3 259.8L775.9 260.9L776.5 260.6L777.2 260.9L777.9 260.4L778.6 259.9L779.3 260.0L779.9 259.3L780.6 259.1L781.4 258.6L782.2 258.2L782.9 258.2L783.7 257.5L784.3 257.9L784.9 258.1L785.5 258.9L786.1 259.2L786.8 260.2L787.3 260.1L787.7 260.5L788.2 261.5L788.7 261.8L789.3 262.1L789.8 262.6L790.3 263.5L790.9 263.6L791.4 264.6L792.0 264.8L792.5 265.8L793.0 265.8L793.5 267.0L794.0 267.4L794.5 267.3L794.9 267.9L795.4 269.1L795.9 269.5L796.4 269.6L796.9 270.6L797.3 271.0L797.8 271.3L798.3 272.2L798.7 272.6L799.2 273.0L799.6 274.1L800.0 274.6L800.3 274.8L800.7 275.5L801.1 276.3L801.5 276.7L801.8 277.2L802.2 278.0L802.5 279.0L802.9 278.9L803.3 279.7L803.6 280.5L804.0 281.5L804.3 282.1L804.7 282.0L805.0 283.1L805.4 283.3L805.8 284.0L806.1 284.5L806.5 285.4L806.8 286.4L807.2 287.0L807.6 287.1L807.9 288.2L808.3 288.6L808.6 288.7L809.0 290.0L809.3 290.1L809.7 291.3L810.1 291.2L810.4 292.4L810.8 292.7L811.1 293.3L811.5 293.6L811.9 294.5L812.2 295.4L812.6 295.9L813.0 296.9L813.4 297.2L813.8 298.1L814.2 298.2L814.6 299.4L814.9 299.9L815.3 300.8L815.7 301.0L816.1 301.7L816.4 302.5L816.8 302.6L817.1 303.2L817.4 304.1L817.7 304.3L818.3 305.0L818.9 305.2L819.4 306.4L820.0 306.7L820.6 306.9L821.2 307.7L821.8 308.8L822.4 310.8L823.0 312.5L823.6 314.3L824.2 315.6L824.8 316.4L825.4 317.4L826.0 318.1L826.6 317.1L827.2 316.9L827.8 316.1L828.4 315.4L829.0 314.8L829.6 314.6L830.2 314.0L830.9 316.1L831.5 318.8L832.2 320.1L832.9 320.1L833.6 320.4L834.2 320.3L834.9 320.4L835.6 320.1L836.3 321.5L837.0 324.0L837.7 324.9L838.4 325.2L839.0 325.5L839.7 325.3L840.4 324.9L841.1 327.7L841.7 332.0L842.4 334.4L843.1 333.5L843.8 332.0L844.5 329.8L845.2 329.1L845.9 330.0L846.5 333.0L847.2 334.7L847.9 336.1L848.6 336.1L849.3 335.3L849.9 334.8L850.6 334.1L851.3 334.3L852.0 335.6L852.7 339.1L853.3 344.4L854.0 347.9L854.7 349.7L855.4 348.0L856.0 344.9L856.7 341.6L857.4 340.3L858.1 340.7L858.8 342.3L859.4 345.0L860.1 347.2L860.8 347.6L861.5 347.4L862.2 347.2L862.9 348.2L863.6 351.3L864.2 354.9L864.9 357.6L865.6 358.7L866.3 357.1L867.0 354.6L867.6 352.3L868.3 351.1L869.0 352.1L869.7 354.3L870.3 357.0L871.0 360.0L871.7 362.6L872.4 363.0L873.1 362.6L873.8 360.5L874.4 358.3L875.1 356.6L875.8 355.9L876.5 357.1L877.2 359.7L877.8 364.1L878.5 367.0L879.2 368.3L879.9 367.2L880.6 364.8L881.2 362.1L881.9 359.6L882.6 358.6L883.3 359.5L884.0 363.1L884.6 368.0L885.3 371.7L886.0 372.7L886.7 371.8L887.4 370.0L888.0 368.4L888.7 367.5L889.4 367.9L890.1 370.5L890.8 373.9L891.4 377.8L892.1 379.9L892.8 381.3L893.5 380.0L894.2 377.4L894.8 374.6L895.5 372.0L896.2 371.7L896.9 372.3L897.6 375.9L898.2 380.5L898.9 384.8L899.6 388.3L900.3 390.2L901.0 389.2L901.7 386.3L902.3 383.3L903.0 379.9L903.7 377.4L904.4 376.4L905.1 377.9L905.7 382.3L906.4 388.6L907.1 394.7L907.7 399.4L908.4 400.4L909.1 399.8L909.8 396.3L910.5 391.5L911.1 387.2L911.8 383.4L912.5 382.2L913.2 383.7L913.9 387.6L914.5 391.9L915.2 397.4L915.9 400.8L916.6 402.3L917.3 402.3L918.0 403.8L918.7 405.7L919.3 407.4L920.0 408.5L920.7 409.1L921.3 408.6L921.9 407.7L922.5 406.0L923.1 404.6L923.8 403.1L924.4 401.2L925.0 398.7L925.6 397.6L926.2 396.7L926.8 396.9L927.5 397.2L928.2 400.0L928.8 402.8L929.5 406.1L930.2 409.0L930.9 409.2L931.6 408.6L932.2 405.6L932.9 402.0L933.6 397.1L934.3 393.7L934.9 390.6L935.6 390.2L936.2 390.2L936.8 392.0L937.4 393.8L938.0 397.5L938.7 400.3L939.3 403.4L939.9 405.6L940.5 406.6L941.1 407.7L941.8 407.8L942.5 408.6L943.1 410.1L943.8 410.3L944.5 410.8L945.2 412.4L945.8 415.2L946.5 416.6L947.2 417.5L947.8 416.8L948.4 415.3L949.0 413.3L949.6 409.7L950.2 406.8L950.9 402.8L951.5 400.1L952.1 397.5L952.7 395.9L953.3 395.3L954.0 395.5L954.7 397.5L955.3 399.6L956.0 401.4L956.7 402.6L957.4 403.1L958.0 403.1L958.6 403.5L959.2 402.6L959.8 402.2L960.4 402.0L961.0 401.3L961.6 401.7L962.2 401.6L962.9 400.9L963.6 399.7L964.2 399.0L964.9 397.2L965.6 395.5L966.2 393.6L966.9 393.2L967.6 392.6L968.3 393.1L969.0 396.6L969.7 400.2L970.3 403.5L971.0 406.8L971.7 407.6L972.4 406.6L973.1 403.2L973.8 399.1L974.4 394.8L975.1 390.0L975.8 387.2L976.5 386.1L977.2 387.6L977.8 390.5L978.5 395.6L979.2 400.5L979.9 405.4L980.5 408.7L981.2 409.9L981.9 407.9L982.6 404.3L983.3 399.2L983.9 392.7L984.6 387.8L985.3 383.5L986.0 382.4L986.7 383.2L987.3 386.7L988.0 390.9L988.7 396.0L989.4 400.7L990.0 403.9L990.7 404.5L991.4 403.2L992.1 399.6L992.8 394.7L993.4 388.7L994.1 383.4L994.8 379.8L995.5 378.0L996.2 379.5L996.9 382.9L997.6 388.7L998.2 394.9L998.9 400.1L999.6 404.3L1000.3 405.2L1000.9 403.9L1001.6 399.9L1002.2 393.6L1002.9 387.3L1003.5 381.0L1004.2 376.6L1004.8 375.2L1005.5 376.7L1006.1 380.0L1006.8 384.4L1007.5 389.5L1008.2 393.9L1008.8 397.1L1009.5 398.3L1010.1 397.0L1010.8 394.1L1011.4 389.5L1012.0 384.9L1012.6 380.5L1013.3 377.6L1013.9 376.8L1014.6 377.8L1015.2 380.9L1015.9 385.4L1016.6 389.6L1017.3 394.3L1017.9 397.2L1018.6 397.8L1019.2 396.6L1019.9 392.1L1020.5 386.3L1021.2 380.8L1021.8 376.7L1022.4 375.0L1023.1 376.5L1023.8 381.4L1024.5 387.2L1025.2 393.0L1025.9 396.6L1026.5 398.1L1027.2 397.8L1027.8 394.7L1028.4 390.6L1029.0 386.1L1029.7 381.1L1030.3 376.9L1030.9 374.0L1031.6 373.0L1032.2 374.9L1032.8 378.8L1033.5 383.2L1034.1 388.4L1034.7 392.4L1035.4 393.6L1036.1 392.4L1036.7 389.0L1037.4 384.6L1038.1 381.1L1038.8 380.1L1039.5 381.4L1040.1 383.8L1040.8 388.0L1041.5 392.1L1042.2 394.8L1042.9 395.7L1043.5 394.8L1044.2 391.2L1044.9 386.7L1045.6 381.3L1046.3 378.0L1046.9 376.7L1047.6 378.4L1048.3 381.9L1049.0 387.0L1049.7 392.1L1050.3 396.1L1051.0 397.0L1051.7 395.7L1052.3 392.5L1052.9 387.9L1053.6 382.7L1054.2 378.7L1054.9 375.2L1055.5 374.3L1056.1 375.3L1056.7 378.8L1057.3 383.3L1058.0 388.6L1058.6 391.7L1059.2 393.0L1059.8 392.2L1060.4 389.3L1061.0 385.3L1061.6 380.8L1062.2 377.8L1062.9 377.0L1063.5 378.3L1064.2 382.4L1064.9 388.6L1065.6 394.4L1066.3 398.8L1066.9 400.8L1067.6 399.4L1068.2 396.7L1068.9 392.2L1069.5 387.3L1070.1 383.7L1070.8 380.7L1071.4 379.6L1072.1 381.2L1072.8 385.5L1073.5 392.0L1074.1 398.6L1074.8 403.2L1075.5 404.7L1076.2 403.3L1076.9 399.0L1077.6 393.2L1078.2 387.4L1078.9 381.0L1079.6 377.3L1080.3 376.0L1081.0 378.0L1081.6 382.8L1082.3 389.6L1083.0 396.3L1083.7 400.6L1084.4 402.4L1085.0 400.6L1085.7 396.0L1086.4 389.3L1087.1 383.6L1087.8 378.5L1088.4 376.7L1089.1 377.7L1089.8 381.8L1090.5 386.1L1091.2 391.2L1091.8 394.3L1092.5 395.6L1093.2 394.4L1093.9 391.8L1094.6 387.4L1095.2 382.9L1095.9 378.8L1096.6 375.5L1097.3 374.4L1098.0 376.2L1098.6 380.2L1099.3 385.9L1100.0 391.4L1100.7 395.4L1101.4 396.8L1102.0 395.9L1102.7 391.8L1103.4 386.4L1104.1 380.9L1104.8 376.8L1105.4 375.1L1106.1 377.4L1106.8 381.7L1107.5 387.9L1108.2 394.1L1108.8 398.8L1109.5 400.9L1110.2 399.1L1110.8 395.7L1111.4 389.7L1112.1 384.0L1112.7 378.3L1113.4 374.5L1114.0 373.2L1114.6 374.8L1115.2 379.4L1115.9 385.2L1116.5 391.5L1117.1 395.3L1117.7 397.4L1118.4 395.5L1119.0 391.3L1119.7 384.8L1120.4 378.6L1121.1 374.6L1121.8 372.8L1122.4 374.5L1123.1 378.8L1123.8 384.4L1124.5 389.0L1125.2 390.5L1125.9 389.3L1126.5 385.0L1127.2 380.4L1127.9 377.1L1128.6 375.6L1129.3 377.1L1129.9 380.5L1130.6 385.1L1131.3 389.3L1132.0 390.1L1132.7 388.8L1133.3 385.3L1134.0 380.7L1134.7 376.0L1135.4 372.5L1136.1 371.3L1136.7 372.2L1137.4 376.1L1138.1 381.2L1138.8 385.7L1139.5 389.7L1140.1 391.3L1140.8 389.6L1141.4 385.6L1142.0 379.7L1142.7 373.7L1143.3 369.1L1143.9 367.5L1144.6 369.5L1145.2 373.8L1145.8 379.0L1146.4 384.4L1147.0 389.0L1147.6 390.4L1148.3 388.6L1149.0 383.7L1149.7 377.8L1150.3 371.5L1151.0 367.0L1151.7 365.5L1152.4 367.0L1153.1 373.4L1153.7 380.2L1154.4 386.0L1155.1 388.2L1155.7 387.0L1156.4 382.3L1157.0 376.1L1157.6 370.4L1158.3 365.8L1158.9 364.1L1159.5 365.2L1160.1 368.5L1160.7 372.6L1161.4 376.3L1162.0 379.4L1162.6 381.1L1163.2 379.7L1163.8 377.0L1164.5 372.8L1165.1 370.1L1165.7 368.7L1166.5 369.6L1167.2 372.0L1168.0 374.7L1168.7 376.3L1169.4 375.3L1170.1 372.8L1170.7 370.6L1171.4 370.0L1172.1 371.1L1172.8 372.5L1173.5 375.0L1174.1 375.4L1174.8 374.1L1175.5 371.4L1176.2 368.4L1176.9 365.9L1177.6 364.3L1178.2 365.2L1178.9 367.8L1179.6 371.4L1180.3 375.0L1181.0 377.8L1181.6 378.6L1182.3 377.5L1182.9 373.4L1183.5 368.8L1184.1 365.2L1184.8 363.5L1185.4 364.5L1186.0 367.4L1186.6 371.2L1187.2 375.7L1187.8 378.0L1188.4 379.4L1189.1 378.5L1189.8 375.1L1190.5 370.8L1191.2 367.7L1191.8 366.5L1192.5 367.6L1193.2 370.6L1193.9 374.7L1194.6 377.9L1195.2 379.2L1195.9 378.1L1196.6 374.7L1197.3 371.1L1198.0 367.5L1198.6 366.5L1199.4 369.0L1200.1 373.5L1200.8 376.1L1201.4 375.7L1202.0 374.1L1202.6 372.3L1203.2 370.4L1203.8 369.7L1204.4 369.0L1205.1 370.0L1205.7 372.7L1206.4 376.2L1207.0 379.6L1207.7 380.3L1208.4 379.6L1209.1 376.8L1209.7 372.5L1210.4 368.6L1211.1 366.4L1211.8 364.8L1212.4 367.5L1213.0 373.5L1213.6 378.8L1214.2 381.1L1214.9 380.6L1215.6 377.8L1216.3 374.3L1216.9 370.5L1217.6 367.4L1218.3 366.3L1218.9 368.3L1219.5 374.1L1220.1 378.7L1220.7 381.1L1221.3 380.4L1222.0 377.7L1222.6 375.5L1223.2 372.1L1223.8 370.0L1224.4 369.3L1225.0 372.1L1225.6 377.3L1226.2 382.1L1226.8 384.4L1227.5 383.4L1228.1 380.1L1228.8 376.1L1229.5 372.3L1230.1 370.9L1230.8 372.4L1231.4 375.9L1232.1 379.7L1232.7 383.1L1233.4 383.8L1234.0 383.3L1234.6 381.6L1235.2 378.5L1235.8 375.8L1236.4 373.8L1237.0 372.7L1237.7 373.9L1238.5 376.1L1239.2 378.2L1239.9 379.2L1240.5 378.6L1241.1 376.7L1241.7 374.8L1242.3 373.5L1243.0 374.5L1243.6 376.5L1244.2 379.7L1244.9 382.1L1245.5 384.4L1246.2 385.1L1246.8 384.5L1247.5 381.8L1248.2 377.6L1248.9 374.1L1249.5 371.4L1250.2 370.8L1250.8 372.4L1251.5 375.9L1252.1 380.4L1252.7 384.7L1253.3 386.2L1253.9 385.1L1254.5 382.6L1255.2 379.3L1255.8 375.9L1256.4 373.9L1257.0 372.7L1257.6 374.2L1258.3 377.3L1258.9 381.0L1259.6 384.3L1260.2 385.8L1260.8 385.1L1261.5 383.1L1262.1 379.9L1262.7 377.9L1263.3 376.9L1264.0 378.1L1264.7 381.1L1265.4 384.8L1266.1 387.8L1266.8 388.6L1267.4 387.4L1268.0 385.2L1268.6 381.8L1269.2 378.7L1269.8 376.5L1270.4 375.6L1271.1 376.2L1271.7 378.7L1272.4 382.4L1273.0 385.4L1273.7 387.7L1274.3 388.4L1275.0 387.0L1275.7 384.0L1276.4 379.2L1277.1 376.2L1277.8 375.2L1278.4 375.7L1279.0 377.4L1279.6 380.3L1280.2 383.8L1280.8 385.4L1281.4 386.4L1282.1 385.2L1282.7 381.5L1283.4 376.5L1284.0 373.1L1284.7 371.9L1285.3 372.6L1285.9 375.6L1286.5 380.0L1287.1 384.3L1287.7 387.1L1288.4 388.4L1289.0 387.1L1289.7 383.9L1290.3 379.2L1291.0 376.2L1291.6 374.6L1292.2 374.7L1292.8 375.5L1293.4 376.5L1294.1 376.2" fill="none" stroke="#777a82" stroke-width="3.7" stroke-linejoin="round" stroke-linecap="butt"/>
<path d="M309.9 721.5L312.4 718.9L315.5 716.6L319.0 715.6L322.8 716.6L326.4 718.9L333.8 727.5L333.8 700.0L333.5 650.0L333.5 593.5L334.9 580.0L338.2 573.4L343.3 543.0L343.3 543.0L343.3 542.3L343.3 541.6L343.4 540.9L343.4 540.2L343.4 539.5L343.4 538.8L343.5 538.1L343.5 537.4L343.5 536.7L343.5 536.0L343.6 535.3L343.6 534.6L343.6 533.9L343.6 533.2L343.6 532.5L343.7 531.8L343.7 531.1L343.7 530.4L343.7 529.7L343.8 529.0L343.8 528.3L343.8 527.6L343.8 526.9L343.9 526.2L343.9 525.5L343.9 524.8L343.9 524.1L344.0 523.4L344.0 522.7L344.0 522.1L344.0 521.4L344.0 520.7L344.1 520.0L344.1 519.3L344.1 518.6L344.1 517.9L344.2 517.2L344.2 516.5L344.2 515.7L344.2 515.0L344.3 514.3L344.3 513.6L344.3 512.9L344.3 512.2L344.3 511.5L344.4 510.8L344.4 510.1L344.4 509.4L344.4 508.7L344.5 508.0L344.5 507.2L344.5 506.5L344.5 505.8L344.5 505.1L344.6 504.4L344.6 503.6L344.6 502.9L344.6 502.2L344.7 501.5L344.7 500.7L344.7 500.0L344.7 499.3L344.7 498.6L344.8 498.0L344.8 497.3L344.8 496.6L344.8 495.9L344.8 495.2L344.9 494.5L344.9 493.8L344.9 493.2L344.9 492.5L344.9 491.8L345.0 491.1L345.0 490.4L345.0 489.7L345.0 488.6L345.0 488.2L345.1 487.1L345.1 486.7L345.1 485.9L345.1 485.0L345.1 484.6L345.1 483.5L345.2 483.1L345.2 482.1L345.2 481.4L345.2 481.0L345.2 480.5L345.3 479.3L345.3 478.7L345.3 478.3L345.3 477.8L345.3 476.8L345.4 475.9L345.4 475.6L345.4 474.3L345.4 474.1L345.4 473.0L345.4 472.2L345.5 471.5L345.5 470.9L345.5 470.5L345.5 469.4L345.5 468.9L345.6 468.2L345.6 467.3L345.6 466.8L345.6 465.7L345.6 465.0L345.6 464.4L345.7 464.0L345.7 463.1L345.7 462.3L345.7 461.8L345.7 461.0L345.7 460.2L345.8 459.8L345.8 459.0L345.8 458.0L345.8 457.5L345.8 456.8L345.9 456.3L345.9 455.5L345.9 454.5L345.9 454.3L345.9 453.0L345.9 452.5L346.0 452.0L346.0 450.9L346.0 450.4L346.0 449.4L346.0 449.1L346.0 448.5L346.0 447.7L346.1 447.2L346.1 446.1L346.1 445.6L346.1 444.9L346.1 444.2L346.1 443.4L346.2 442.9L346.2 442.3L346.2 441.3L346.2 440.7L346.2 439.6L346.2 439.4L346.2 438.6L346.3 438.2L346.3 437.3L346.3 436.3L346.3 435.6L346.3 435.1L346.3 434.0L346.3 433.6L346.3 432.7L346.4 432.0L346.4 431.2L346.4 431.0L346.4 429.9L346.4 429.3L346.4 428.7L346.4 428.3L346.5 427.0L346.5 426.6L346.5 426.0L346.5 425.5L346.5 424.8L346.5 424.1L346.5 423.0L346.5 422.4L346.6 421.7L346.6 421.3L346.6 420.7L346.6 419.4L346.6 418.7L346.6 418.1L346.6 417.4L346.7 416.9L346.7 416.2L346.7 415.3L346.7 414.4L346.7 414.0L346.7 413.3L346.7 412.7L346.7 412.3L346.8 411.4L346.8 410.6L346.8 410.0L346.8 409.3L346.8 408.2L346.8 408.1L346.8 407.3L346.9 406.7L346.9 405.9L346.9 404.9L346.9 404.3L346.9 403.4L346.9 403.0L347.0 401.9L347.0 401.2L347.0 400.6L347.0 399.9L347.0 399.3L347.0 398.4L347.0 397.7L347.1 397.1L347.1 396.4L347.1 395.9L347.1 394.9L347.1 394.8L347.1 394.0L347.2 392.9L347.2 392.3L347.2 391.7L347.2 391.0L347.2 390.1L347.2 389.9L347.3 389.3L347.3 388.3L347.3 387.6L347.3 386.6L347.3 385.9L347.3 385.4L347.4 384.6L347.4 384.3L347.4 383.1L347.4 382.4L347.4 382.3L347.4 381.3L347.4 380.3L347.5 379.9L347.5 378.9L347.5 378.5L347.5 378.1L347.5 377.3L347.5 376.5L347.6 375.5L347.6 374.9L347.6 374.0L347.6 373.8L347.6 372.9L347.7 372.4L347.7 371.3L347.7 370.6L347.7 370.3L347.7 369.7L347.7 368.9L347.8 368.1L347.8 367.5L347.8 366.7L347.8 365.6L347.8 365.1L347.9 364.3L347.9 363.4L347.9 362.7L347.9 362.1L347.9 361.4L348.0 361.0L348.0 360.5L348.0 359.4L348.0 359.0L348.0 358.4L348.1 357.6L348.1 356.5L348.1 355.7L348.1 355.0L348.2 354.3L348.2 353.6L348.2 353.1L348.2 352.6L348.3 351.9L348.3 350.9L348.3 350.3L348.3 349.7L348.3 348.5L348.4 348.2L348.4 347.6L348.4 346.8L348.5 346.0L348.5 345.1L348.5 344.2L348.5 343.9L348.6 342.8L348.6 342.4L348.6 341.8L348.6 340.7L348.7 339.9L348.7 339.6L348.7 338.7L348.8 337.6L348.8 336.8L348.8 336.1L348.8 335.9L348.9 335.1L348.9 333.9L348.9 333.6L349.0 333.0L349.0 332.0L349.0 331.0L349.1 330.4L349.1 329.4L349.1 328.6L349.1 328.5L349.2 327.6L349.2 326.7L349.2 326.3L349.3 325.2L349.3 324.8L349.3 324.0L349.4 322.9L349.4 322.2L349.4 321.5L349.5 320.7L349.5 320.2L349.5 319.3L349.6 318.7L349.6 317.8L349.6 317.6L349.7 316.5L349.7 315.9L349.7 315.3L349.8 314.8L349.8 313.8L349.8 313.4L349.9 312.4L349.9 311.8L349.9 311.1L350.0 310.0L350.0 309.6L350.0 308.8L350.1 308.0L350.1 307.9L350.1 306.8L350.2 306.3L350.2 305.8L350.2 305.1L350.3 304.2L350.3 303.7L350.3 303.1L350.4 302.6L350.4 301.5L350.4 301.2L350.5 300.3L350.5 299.7L350.5 299.3L350.6 298.4L350.6 297.7L350.7 297.1L350.7 296.5L350.7 295.4L350.8 294.8L350.8 294.0L350.8 293.3L350.9 292.7L350.9 291.8L350.9 291.1L351.0 290.3L351.0 289.9L351.0 289.1L351.1 288.5L351.1 287.8L351.1 286.6L351.2 286.1L351.2 285.7L351.3 284.9L351.3 283.7L351.3 283.0L351.4 282.5L351.4 281.5L351.4 280.9L351.5 280.1L351.5 279.9L351.6 279.2L351.6 278.6L351.6 277.4L351.7 277.1L351.7 276.4L351.8 275.4L351.8 275.2L351.8 274.6L351.9 273.4L351.9 273.2L352.0 272.2L352.0 271.6L352.1 271.3L352.1 270.5L352.2 269.4L352.2 268.9L352.3 268.3L352.4 267.5L352.4 266.8L352.5 266.2L352.5 265.9L352.6 264.7L352.7 264.2L352.8 263.3L352.9 262.2L353.0 261.6L353.0 261.0L353.1 260.2L353.2 259.1L353.3 259.0L353.4 258.1L353.5 257.5L353.6 256.1L353.7 255.5L353.8 254.7L354.0 254.5L354.1 253.5L354.2 252.8L354.3 252.3L354.4 252.0L354.5 251.3L354.6 250.3L354.7 249.6L354.9 249.5L355.0 248.7L355.1 248.1L355.2 247.1L355.3 246.4L355.5 246.1L355.6 245.3L355.7 244.3L355.8 244.2L355.9 243.3L356.1 242.7L356.2 241.5L356.3 241.2L356.4 239.9L356.6 239.7L356.7 238.6L356.8 237.8L356.9 237.1L357.1 236.6L357.2 235.4L357.3 234.5L357.5 234.1L357.6 233.1L357.7 232.3L357.9 231.7L358.0 230.9L358.2 230.4L358.3 229.8L358.4 229.2L358.6 228.9L358.7 228.0L358.9 227.6L359.0 226.8L359.2 226.3L359.3 225.5L359.5 225.1L359.6 224.3L359.8 224.2L360.0 223.3L360.2 222.2L360.4 221.6L360.6 221.1L360.9 219.7L361.1 219.4L361.3 218.3L361.5 217.6L361.7 217.2L362.0 216.2L362.2 215.7L362.4 215.3L362.7 215.0L362.9 214.0L363.1 213.8L363.4 213.1L363.6 212.4L363.9 211.5L364.1 210.8L364.4 209.8L364.7 209.1L364.9 208.2L365.2 207.9L365.5 206.9L365.8 206.1L366.0 205.4L366.3 205.4L366.6 204.9L366.9 204.3L367.2 203.5L367.5 202.9L367.7 202.3L368.0 201.7L368.3 200.8L368.6 200.3L368.8 199.4L369.1 199.1L369.4 198.3L369.7 197.3L370.0 196.4L370.3 196.2L370.5 195.2L370.8 194.6L371.1 193.8L371.4 193.5L371.6 193.0L371.9 192.3L372.2 191.4L372.5 190.9L372.9 189.8L373.2 189.3L373.7 188.4L374.2 188.0L374.7 187.3L375.2 186.9L375.7 186.7L376.2 186.1L376.8 185.8L377.3 185.4L377.9 185.5L378.5 185.9L379.1 186.7L379.7 187.4L380.3 187.6L380.9 187.9L381.4 188.7L381.8 188.6L382.1 189.6L382.5 190.2L382.8 190.5L383.1 191.8L383.4 192.6L383.8 193.1L384.1 193.8L384.4 194.4L384.7 194.5L385.0 195.3L385.3 195.9L385.6 196.8L385.8 197.4L386.1 198.1L386.3 198.6L386.6 199.6L386.8 200.2L387.1 201.0L387.3 201.4L387.6 202.0L387.8 202.7L388.0 203.6L388.3 204.0L388.5 205.1L388.7 205.5L389.0 206.1L389.2 206.8L389.5 207.5L389.7 208.0L390.0 208.5L390.2 209.8L390.4 210.6L390.7 211.3L390.9 212.1L391.1 212.9L391.3 213.2L391.6 214.3L391.8 214.6L392.0 215.1L392.2 215.9L392.4 216.8L392.6 217.0L392.9 217.9L393.1 218.6L393.3 218.9L393.5 219.4L393.8 220.2L394.0 221.0L394.2 221.8L394.4 222.5L394.6 223.3L394.9 223.7L395.1 224.5L395.3 225.4L395.5 226.4L395.8 226.8L396.0 227.6L396.2 227.8L396.4 228.4L396.7 229.1L396.9 229.9L397.1 230.5L397.4 231.1L397.6 231.5L397.9 232.3L398.1 233.0L398.4 233.7L398.6 234.3L398.9 235.6L399.1 235.9L399.4 237.2L399.6 237.9L399.9 237.9L400.1 238.8L400.4 239.6L400.6 240.2L400.9 240.4L401.1 240.8L401.4 241.3L401.6 242.5L401.9 242.6L402.1 243.6L402.4 244.0L402.6 245.0L402.9 246.1L403.1 246.3L403.3 247.6L403.6 248.1L403.9 249.0L404.1 249.4L404.4 249.7L404.6 250.7L404.9 250.9L405.1 251.1L405.4 251.7L405.6 252.7L405.9 253.3L406.1 253.9L406.4 254.6L406.6 255.5L406.9 256.3L407.1 257.4L407.4 257.5L407.6 258.8L407.9 259.5L408.1 259.6L408.4 260.7L408.6 261.1L408.8 261.8L409.1 261.9L409.3 262.5L409.5 263.2L409.8 264.3L410.0 264.7L410.2 265.3L410.4 266.1L410.7 266.8L410.9 267.4L411.1 268.2L411.3 269.5L411.5 269.8L411.8 271.0L412.0 271.1L412.2 271.8L412.4 272.5L412.6 272.9L412.8 273.6L413.0 274.6L413.2 275.2L413.4 275.7L413.6 276.3L413.8 277.2L414.0 278.0L414.2 278.5L414.4 279.4L414.6 279.7L414.7 280.9L414.9 281.4L415.0 282.3L415.2 283.0L415.4 283.5L415.5 284.0L415.6 285.3L415.8 285.4L415.9 286.3L416.1 286.8L416.2 287.4L416.4 288.4L416.5 289.1L416.6 289.2L416.8 290.1L416.9 290.5L417.1 291.3L417.2 291.8L417.3 292.3L417.5 293.0L417.6 293.7L417.8 294.9L417.9 295.4L418.1 295.9L418.2 297.2L418.4 298.0L418.6 298.4L418.7 299.0L418.9 299.9L419.1 300.5L419.2 301.4L419.4 301.9L419.5 302.7L419.7 303.4L419.9 304.3L420.0 305.1L420.2 305.6L420.4 306.0L420.6 306.5L420.7 307.2L420.9 307.7L421.1 308.2L421.3 308.6L421.5 309.4L421.7 310.6L421.9 310.7L422.0 311.6L422.2 312.5L422.4 313.4L422.6 313.7L422.8 314.5L423.0 315.3L423.2 316.2L423.3 317.0L423.5 318.1L423.7 318.7L423.9 319.4L424.1 319.5L424.3 320.2L424.4 321.3L424.6 322.0L424.8 322.4L425.0 323.1L425.1 323.3L425.3 324.3L425.5 325.3L425.6 326.0L425.8 326.7L425.9 327.5L426.1 327.7L426.2 328.3L426.4 329.0L426.5 330.0L426.6 330.9L426.8 331.8L426.9 332.4L427.0 333.1L427.1 333.9L427.3 334.5L427.4 335.3L427.5 335.6L427.7 336.9L427.8 337.2L427.9 338.4L428.0 338.8L428.1 339.3L428.3 339.8L428.4 340.6L428.5 341.5L428.6 342.2L428.8 342.4L428.9 343.1L429.0 344.1L429.1 344.8L429.2 345.3L429.3 345.9L429.5 346.8L429.6 347.1L429.7 348.0L429.8 348.9L429.9 350.0L430.1 350.5L430.2 351.4L430.3 351.9L430.4 352.5L430.5 353.3L430.6 354.5L430.8 355.1L430.9 355.6L431.0 356.2L431.1 357.3L431.3 358.1L431.4 358.7L431.5 359.3L431.6 360.3L431.7 361.2L431.9 361.3L432.0 361.9L432.1 362.8L432.3 363.5L432.4 364.3L432.5 364.7L432.7 365.7L432.8 366.3L432.9 366.8L433.1 367.3L433.2 368.5L433.4 368.7L433.5 369.7L433.6 370.0L433.8 370.7L433.9 371.8L434.0 372.2L434.2 373.5L434.3 373.9L434.4 374.5L434.6 375.3L434.7 376.2L434.9 377.1L435.0 378.1L435.1 378.3L435.3 379.2L435.4 379.8L435.6 381.1L435.7 381.2L435.8 381.8L436.0 382.5L436.1 383.4L436.2 384.4L436.4 385.0L436.5 385.5L436.7 386.3L436.8 386.9L437.0 387.1L437.1 387.6L437.2 388.8L437.4 389.3L437.5 389.4L437.7 390.6L437.8 391.0L438.0 391.7L438.1 392.4L438.3 393.1L438.4 393.7L438.6 394.7L438.7 395.5L438.9 396.7L439.0 396.9L439.2 398.3L439.3 398.5L439.5 399.3L439.6 400.3L439.8 401.0L439.9 401.4L440.1 401.8L440.2 402.7L440.4 403.3L440.5 404.3L440.7 404.4L440.8 405.1L441.0 406.1L441.1 406.1L441.3 407.0L441.5 407.9L441.6 408.5L441.8 408.7L441.9 409.4L442.1 410.1L442.3 411.4L442.4 411.7L442.6 412.8L442.7 413.7L442.9 414.1L443.1 414.8L443.2 416.0L443.4 416.5L443.6 417.0L443.8 418.0L443.9 418.4L444.1 419.0L444.3 419.4L444.5 420.6L444.7 421.3L444.8 421.7L445.0 422.5L445.2 422.5L445.4 423.2L445.6 424.1L445.8 425.1L446.0 425.8L446.1 426.2L446.3 426.8L446.5 427.8L446.7 428.6L446.9 429.7L447.1 430.0L447.3 431.2L447.5 431.9L447.7 432.7L447.9 433.3L448.1 433.9L448.3 434.3L448.5 434.9L448.7 435.5L448.9 436.4L449.1 436.5L449.4 437.2L449.6 438.3L449.8 438.6L450.0 439.2L450.2 439.9L450.4 441.1L450.6 441.7L450.8 442.9L451.0 443.6L451.2 444.5L451.4 444.7L451.6 445.3L451.8 445.9L452.0 446.8L452.2 447.6L452.4 448.0L452.6 448.4L452.8 449.1L453.0 449.9L453.3 450.5L453.5 451.2L453.7 452.0L454.0 452.6L454.2 453.0L454.4 454.3L454.6 454.7L454.9 455.7L455.1 456.3L455.3 457.4L455.5 457.7L455.8 458.4L456.0 459.1L456.2 459.6L456.5 460.7L456.7 461.0L456.9 461.4L457.1 462.0L457.4 463.0L457.6 463.3L457.8 463.8L458.0 464.9L458.3 465.5L458.5 466.5L458.7 466.7L458.9 467.7L459.1 468.7L459.4 469.5L459.6 470.3L459.8 470.3L460.0 471.2L460.2 471.6L460.4 472.3L460.6 473.4L460.9 473.7L461.1 474.5L461.3 474.7L461.5 475.7L461.7 476.1L461.9 476.7L462.1 477.8L462.3 478.6L462.5 478.8L462.7 479.9L462.9 480.8L463.1 481.2L463.4 482.1L463.6 482.7L463.8 483.4L464.0 484.1L464.2 484.9L464.4 485.6L464.6 485.8L464.8 486.3L465.0 487.1L465.2 487.9L465.4 488.2L465.6 488.9L465.8 489.5L466.0 490.6L466.2 491.2L466.4 491.6L466.6 492.4L466.8 493.4L467.0 494.3L467.2 495.1L467.4 495.5L467.6 496.3L467.8 497.3L468.1 497.8L468.3 498.3L468.5 498.9L468.7 500.0L468.9 500.1L469.1 500.9L469.3 501.4L469.5 502.0L469.7 503.0L469.9 503.8L470.1 504.1L470.3 504.8L470.5 505.9L470.7 506.3L470.9 507.0L471.1 508.4L471.3 508.8L471.5 509.8L471.8 510.2L472.0 511.2L472.2 511.5L472.4 511.9L472.6 512.4L472.8 513.3L473.0 513.9L473.2 514.7L473.4 514.8L473.7 515.8L473.9 516.3L474.1 517.2L474.3 517.7L474.5 518.6L474.7 519.5L474.9 520.6L475.2 520.8L475.4 521.8L475.6 522.8L475.8 523.6L476.0 523.7L476.2 524.2L476.5 525.4L476.7 526.0L476.9 526.2L477.1 526.4L477.4 527.6L477.6 527.8L477.8 528.8L478.0 529.3L478.3 530.1L478.5 530.4L478.8 531.5L479.0 531.9L479.3 532.8L479.6 533.9L479.9 534.6L480.2 534.7L480.5 535.3L480.8 535.9L481.1 536.5L481.4 537.0L481.7 537.4L482.1 538.2L482.4 539.3L482.7 540.2L483.0 540.4L483.4 541.5L483.7 542.3L484.1 542.3L484.4 543.4L484.8 543.3L485.2 544.0L485.6 544.5L486.0 545.2L486.4 545.8L486.8 546.7L487.2 547.7L487.7 548.3L488.1 549.0L488.5 549.3L489.0 549.7L489.4 549.8L489.9 550.8L490.4 551.4L490.8 552.0L491.3 553.1L491.8 553.7L492.3 553.8L492.9 553.8L493.4 554.2L494.0 554.4L494.6 555.1L495.3 556.0L495.9 556.1L496.6 556.5L497.3 556.5L498.0 556.5L498.7 557.5L499.4 557.7L500.1 558.3L500.9 558.2L501.6 558.0L502.3 557.9L503.0 558.7L503.7 558.9L504.4 559.2L505.1 558.4L505.9 558.8L506.6 559.1L507.3 559.2L508.0 559.2L508.8 558.3L509.5 558.5L510.2 558.1L511.0 558.6L511.7 558.7L512.5 557.8L513.2 557.7L514.0 557.6L514.7 557.2L515.3 557.5L516.0 557.7L516.7 556.9L517.4 557.0L518.1 556.4L518.8 557.0L519.5 556.6L520.2 556.6L521.0 556.4L521.7 555.5L522.4 555.5L523.1 555.8L523.7 555.6L524.4 555.0L525.1 554.6L525.8 554.2L526.4 554.7L527.0 554.5L527.7 554.5L528.3 553.6L528.9 553.4L529.5 552.4L530.1 552.4L530.7 552.5L531.3 552.2L531.9 552.2L532.5 551.4L533.1 550.7L533.7 550.4L534.3 549.6L534.9 550.1L535.5 549.7L536.1 549.0L536.7 548.6L537.2 547.6L537.8 547.6L538.3 547.1L538.8 546.8L539.4 546.8L539.9 546.2L540.4 545.4L541.0 545.1L541.5 544.0L542.1 544.1L542.6 543.4L543.1 543.5L543.7 543.4L544.2 542.5L544.8 541.8L545.3 540.9L545.9 540.1L546.4 539.8L546.9 539.7L547.5 539.8L548.0 539.2L548.6 538.5L549.1 538.1L549.7 536.9L550.2 536.6L550.8 536.7L551.3 536.1L551.9 535.6L552.5 535.2L553.0 534.3L553.6 533.8L554.1 533.3L554.7 533.4L555.2 533.2L555.8 532.5L556.4 532.2L556.9 531.3L557.5 530.4L558.0 530.5L558.6 529.8L559.2 529.5L559.7 529.1L560.3 528.9L560.8 528.4L561.4 527.6L561.9 526.9L562.5 526.5L563.0 526.2L563.6 526.3L564.1 525.8L564.6 525.0L565.2 524.5L565.7 523.8L566.3 523.8L566.8 523.5L567.4 523.0L567.9 523.0L568.4 521.8L569.0 521.4L569.5 520.7L570.1 520.2L570.6 519.8L571.1 520.1L571.7 519.3L572.2 519.1L572.7 518.6L573.3 517.4L573.8 516.9L574.3 516.8L574.9 516.5L575.4 516.3L575.9 516.0L576.4 514.8L577.0 514.2L577.5 513.5L578.0 512.8L578.6 513.1L579.1 512.8L579.6 512.3L580.1 511.3L580.6 511.1L581.2 510.3L581.7 509.4L582.2 509.2L582.7 508.7L583.2 508.3L583.7 507.7L584.2 507.2L584.7 506.3L585.2 505.8L585.7 505.5L586.2 505.0L586.7 504.8L587.2 504.4L587.7 503.7L588.2 503.3L588.7 502.5L589.2 502.0L589.7 501.2L590.2 500.6L590.6 500.6L591.1 500.5L591.6 499.6L592.1 499.5L592.5 498.2L593.0 497.6L593.5 496.9L593.9 496.7L594.4 496.5L594.8 496.0L595.2 495.4L595.7 495.3L596.1 494.2L596.5 493.4L596.9 493.1L597.3 492.2L597.6 491.6L598.0 491.1L598.3 490.8L598.7 490.1L599.0 489.9L599.4 489.3L599.7 488.9L600.0 488.0L600.4 487.4L600.7 486.6L601.0 485.6L601.3 484.8L601.6 484.4L601.9 483.4L602.3 483.4L602.6 482.4L602.9 481.8L603.2 481.3L603.5 481.3L603.8 480.3L604.1 479.4L604.4 478.5L604.7 477.7L605.0 477.4L605.2 476.6L605.5 476.0L605.8 475.3L606.0 474.3L606.3 474.1L606.5 473.4L606.8 473.2L607.0 472.6L607.3 472.1L607.5 470.9L607.8 470.7L608.0 470.0L608.3 469.3L608.5 467.9L608.8 467.1L609.0 466.2L609.3 465.4L609.5 465.2L609.8 464.4L610.0 463.6L610.2 463.2L610.5 462.4L610.7 461.6L610.9 460.9L611.2 460.3L611.4 460.1L611.6 459.1L611.9 458.5L612.1 457.8L612.3 456.8L612.6 456.2L612.8 455.5L613.0 455.0L613.3 453.9L613.5 453.1L613.8 452.8L614.0 451.8L614.3 451.4L614.5 450.7L614.8 449.7L615.0 449.3L615.3 448.7L615.5 448.3L615.8 447.3L616.0 446.9L616.2 446.0L616.5 444.9L616.7 444.6L616.9 443.2L617.2 443.0L617.4 441.8L617.6 440.9L617.8 440.4L618.0 440.2L618.2 439.8L618.4 438.5L618.6 438.3L618.8 437.8L619.0 437.5L619.2 436.5L619.4 436.0L619.6 435.2L619.8 434.8L620.0 433.7L620.2 433.4L620.4 432.2L620.5 431.4L620.7 431.0L620.9 430.1L621.0 429.1L621.2 428.7L621.3 427.5L621.5 427.3L621.7 426.4L621.8 425.7L622.0 424.8L622.1 424.1L622.2 423.5L622.3 423.0L622.5 422.7L622.6 421.6L622.7 421.6L622.8 420.4L622.9 419.9L623.0 419.3L623.1 419.1L623.3 418.1L623.4 417.4L623.5 417.0L623.6 415.9L623.7 415.3L623.8 414.6L623.9 414.0L624.0 413.3L624.2 412.4L624.3 411.4L624.4 410.6L624.5 409.7L624.6 409.4L624.7 408.4L624.9 407.7L625.0 406.5L625.1 405.9L625.2 405.3L625.3 404.4L625.5 403.4L625.6 402.9L625.7 402.4L625.9 401.3L626.0 400.6L626.1 400.0L626.3 399.6L626.4 399.1L626.6 398.0L626.7 397.4L626.9 396.8L627.0 396.3L627.2 395.8L627.3 394.9L627.5 394.4L627.6 393.6L627.8 393.4L628.0 392.6L628.1 391.4L628.3 391.3L628.4 389.9L628.6 389.3L628.8 389.0L628.9 388.1L629.1 387.3L629.2 386.3L629.4 385.4L629.6 385.0L629.7 384.0L629.9 383.4L630.0 382.9L630.2 382.0L630.4 381.6L630.5 381.3L630.7 380.6L630.8 379.9L631.0 379.4L631.1 378.7L631.2 377.8L631.4 377.5L631.5 376.6L631.7 376.2L631.8 375.6L632.0 374.5L632.1 373.8L632.2 373.2L632.4 372.2L632.5 371.3L632.7 370.9L632.8 370.2L632.9 369.3L633.1 368.5L633.2 367.9L633.3 367.0L633.5 366.2L633.6 365.4L633.7 364.6L633.9 364.2L634.0 363.1L634.1 362.7L634.3 362.3L634.4 361.7L634.6 361.0L634.7 360.2L634.9 359.7L635.0 359.2L635.1 358.7L635.3 358.0L635.5 357.5L635.7 356.9L635.8 355.7L636.0 355.2L636.2 354.5L636.4 353.5L636.6 352.8L636.7 352.3L636.9 350.9L637.1 350.4L637.3 349.4L637.5 349.1L637.7 348.5L637.9 347.6L638.1 346.7L638.3 346.4L638.5 345.8L638.7 345.4L638.9 344.8L639.2 344.3L639.4 343.9L639.7 343.0L640.0 342.2L640.3 341.8L640.6 340.5L640.9 340.0L641.2 339.0L641.5 338.5L641.8 337.4L642.2 337.5L642.5 336.6L642.8 335.9L643.2 335.6L643.5 335.2L643.8 334.3L644.2 333.9L644.5 333.1L644.9 332.5L645.3 331.4L645.7 330.7L646.1 330.1L646.5 330.1L647.0 329.8L647.4 329.1L647.8 328.3L648.2 328.0L648.6 326.9L649.0 325.9L649.4 325.0L649.7 324.7L649.9 324.1L650.2 323.5L650.4 322.9L650.6 322.4L650.8 321.7L651.0 321.7L651.2 320.7L651.4 320.3L651.6 319.7L651.7 319.1L651.9 318.1L652.1 317.3L652.2 316.7L652.4 315.6L652.6 315.3L652.7 314.2L652.9 313.7L653.0 312.5L653.1 311.8L653.3 310.9L653.4 310.2L653.5 309.3L653.7 308.5L653.8 308.2L653.9 307.3L654.0 306.6L654.1 306.0L654.2 305.5L654.3 304.8L654.4 304.3L654.5 303.7L654.6 302.8L654.6 302.6L654.7 301.8L654.8 300.6L654.8 300.5L654.9 299.9L655.0 299.1L655.0 298.0L655.1 297.8L655.1 297.0L655.2 295.8L655.2 295.1L655.3 295.1L655.4 294.1L655.4 293.1L655.5 292.3L655.5 291.6L655.6 290.9L655.7 290.5L655.7 289.5L655.8 288.6L655.9 288.3L656.0 287.6L656.0 286.5L656.1 286.3L656.2 285.4L656.2 284.8L656.3 284.0L656.4 283.5L656.4 282.7L656.5 282.0L656.6 280.8L656.7 280.4L656.7 279.6L656.8 279.0L656.9 278.0L657.0 277.5L657.0 276.6L657.1 275.6L657.2 274.8L657.2 274.0L657.3 273.5L657.4 272.5L657.5 272.0L657.5 271.0L657.6 270.5L657.7 269.8L657.8 269.1L657.9 268.6L657.9 267.3L658.0 267.2L658.1 266.2L658.2 265.6L658.2 264.9L658.3 264.4L658.4 263.4L658.5 262.7L658.5 262.4L658.6 261.1L658.7 260.9L658.8 260.2L658.8 259.1L658.9 258.9L659.0 258.3L659.1 257.8L659.2 256.6L659.2 256.4L659.3 255.4L659.4 254.6L659.5 254.2L659.6 252.9L659.6 252.6L659.7 251.8L659.8 250.9L659.9 250.5L660.0 249.4L660.0 248.8L660.1 248.1L660.2 247.5L660.3 246.3L660.4 245.7L660.4 245.0L660.5 244.3L660.6 243.7L660.7 242.6L660.8 242.2L660.9 241.2L660.9 240.5L661.0 239.6L661.1 239.1L661.2 238.7L661.3 237.7L661.4 237.1L661.5 236.1L661.6 235.4L661.6 234.7L661.7 234.3L661.8 233.7L661.9 233.2L662.0 232.0L662.1 231.9L662.2 231.3L662.3 230.3L662.4 229.2L662.6 228.6L662.7 227.7L662.8 227.0L662.9 226.8L663.0 225.9L663.1 225.2L663.3 224.5L663.4 223.9L663.5 222.9L663.6 222.2L663.7 221.5L663.9 220.8L664.0 220.0L664.1 219.4L664.3 218.3L664.4 218.0L664.6 217.1L664.7 216.7L664.9 215.6L665.0 215.1L665.2 214.4L665.6 213.9L666.0 213.0L666.4 212.1L666.8 211.4L667.2 211.4L667.6 211.3L667.8 211.3L668.1 211.3L668.3 211.8L668.6 212.3L668.8 212.9L669.0 213.6L669.2 214.5L669.5 215.6L669.7 215.9L669.9 217.1L670.1 217.7L670.3 218.6L670.5 219.8L670.6 220.4L670.8 221.4L670.9 221.9L671.1 222.4L671.2 223.4L671.4 224.3L671.5 225.3L671.7 226.1L671.8 226.5L672.0 227.2L672.1 227.7L672.3 228.7L672.4 229.1L672.6 229.7L672.7 230.3L672.8 230.9L673.0 232.0L673.2 232.3L673.3 233.5L673.5 233.6L673.6 234.9L673.7 235.1L673.9 235.7L674.0 237.0L674.2 237.4L674.3 238.5L674.5 238.9L674.6 239.5L674.8 240.8L675.0 241.5L675.3 242.3L675.5 242.9L675.8 243.2L676.2 244.3L676.6 245.0L677.0 245.4L677.4 246.3L677.8 246.5L678.3 247.7L678.7 248.2L679.2 248.2L679.6 248.5L680.2 248.8L680.8 248.3L681.4 247.0L682.1 246.5L682.7 246.4L683.2 245.6L683.7 245.6L684.2 244.3L684.6 242.9L685.0 242.1L685.4 241.8L685.6 241.7L685.9 242.2L686.2 242.3L686.4 243.4L686.7 243.9L687.0 245.0L687.3 245.9L687.6 246.6L687.9 247.5L688.1 248.6L688.4 249.4L688.7 250.0L688.9 250.5L689.1 250.9L689.2 251.3L689.4 252.5L689.6 253.0L689.7 253.7L689.9 254.0L690.0 255.0L690.1 256.0L690.3 256.6L690.4 257.2L690.5 257.8L690.7 258.7L690.8 259.8L690.9 260.2L691.1 261.2L691.2 262.0L691.3 262.9L691.5 263.6L691.7 263.9L691.8 264.4L692.0 265.2L692.2 266.0L692.4 266.9L692.6 267.8L692.8 268.6L693.0 268.8L693.3 270.2L693.5 271.0L693.7 271.9L694.0 272.6L694.2 273.3L694.4 274.5L694.7 275.3L694.9 276.0L695.1 276.8L695.4 277.0L695.6 277.1L695.9 277.7L696.1 277.9L696.4 277.3L696.6 277.3L696.9 276.9L697.2 275.8L697.5 275.3L697.7 274.7L698.0 273.8L698.3 272.8L698.6 272.1L698.9 271.7L699.1 270.9L699.4 269.9L699.7 268.8L699.9 268.4L700.2 267.5L700.4 266.4L700.6 265.9L700.8 265.4L701.0 264.6L701.2 263.5L701.4 262.7L701.6 262.1L701.7 261.0L701.9 260.3L702.1 259.6L702.3 259.3L702.5 258.4L702.7 258.0L702.8 257.2L703.0 256.7L703.2 255.8L703.4 255.2L703.6 255.2L703.9 254.1L704.1 253.3L704.3 253.0L704.6 252.2L704.9 250.8L705.2 250.3L705.5 249.3L705.8 248.7L706.2 247.8L706.5 247.3L706.9 247.5L707.2 247.0L707.6 246.3L708.0 245.8L708.5 244.9L709.1 244.5L709.7 243.7L710.4 243.9L711.1 243.8L711.8 243.7L712.5 243.3L713.2 242.2L713.9 241.7L714.6 241.7L715.3 241.6L716.0 241.1L716.7 240.2L717.4 239.7L718.0 239.5L718.7 239.1L719.3 239.5L719.8 239.6L720.3 239.1L720.7 239.7L721.0 239.9L721.4 240.3L721.7 241.6L722.0 241.9L722.3 243.1L722.6 244.2L722.9 245.4L723.1 245.8L723.3 246.3L723.5 246.9L723.7 247.4L723.8 248.5L724.0 249.2L724.2 249.2L724.3 249.7L724.5 250.5L724.7 251.2L724.8 252.2L725.0 252.8L725.2 253.4L725.3 253.6L725.5 254.8L725.7 255.5L725.9 256.2L726.0 257.2L726.2 257.4L726.4 258.3L726.6 259.5L726.8 260.5L727.0 261.2L727.2 261.6L727.4 262.5L727.6 263.4L727.7 263.6L727.9 264.4L728.1 265.0L728.3 265.5L728.5 266.3L728.7 266.7L728.9 267.3L729.1 267.9L729.3 268.9L729.6 269.0L729.8 270.2L730.0 270.6L730.2 271.3L730.4 272.7L730.6 273.0L730.8 274.3L731.1 275.1L731.3 275.9L731.5 276.1L731.7 277.0L731.9 277.4L732.1 278.7L732.3 279.2L732.6 279.6L732.8 280.1L733.0 280.6L733.2 281.5L733.4 281.9L733.6 282.6L733.8 283.0L734.1 283.8L734.3 284.4L734.5 285.7L734.7 286.4L734.9 286.9L735.1 288.2L735.3 288.5L735.6 289.3L735.8 289.9L736.0 290.6L736.2 291.6L736.4 291.8L736.6 292.3L736.9 293.1L737.1 293.5L737.3 294.5L737.5 294.5L737.8 295.8L738.0 295.8L738.2 297.1L738.4 297.7L738.7 298.1L738.9 299.0L739.2 299.6L739.4 300.2L739.7 300.9L740.0 301.7L740.3 302.7L740.7 303.3L741.0 303.7L741.3 303.6L741.6 304.4L742.0 305.4L742.3 305.6L742.6 306.9L743.0 307.3L743.3 308.6L743.6 308.6L744.0 309.8L744.3 310.0L744.6 310.3L745.0 310.7L745.3 311.8L745.6 312.2L745.9 312.6L746.2 313.5L746.4 314.6L746.7 314.9L747.0 316.0L747.3 316.5L747.5 317.3L747.8 318.5L748.1 319.1L748.3 319.3L748.6 319.8L748.9 320.4L749.1 321.3L749.4 321.8L749.7 322.3L750.0 322.9L750.2 323.9L750.5 324.7L750.8 325.6L751.2 326.1L751.5 326.5L751.8 326.9L752.3 327.9L752.7 328.1L753.2 328.6L753.8 328.6L754.3 329.7L754.8 330.1L755.3 331.1L755.8 331.7L756.4 331.7L756.9 331.6L757.4 332.5L757.9 332.8L758.4 333.7L758.8 334.1L759.3 334.7L759.7 335.8L760.2 335.9L760.6 336.1L761.1 336.6L761.5 337.2L762.0 337.4L762.4 338.6L762.9 339.3L763.3 340.2L763.7 340.7L764.1 341.7L764.4 342.2L764.7 342.7L765.0 342.7L765.3 343.5L765.6 343.9L765.9 344.8L766.2 345.0L766.5 346.4L766.8 347.2L767.0 347.7L767.3 348.5L767.6 349.3L767.8 350.0L768.1 350.3L768.4 351.5L768.7 351.6L768.9 352.1L769.2 352.6L769.5 353.3L769.7 354.4L770.0 354.5L770.3 355.3L770.6 356.5L770.9 357.0L771.1 357.6L771.4 358.8L771.7 359.5L772.0 360.1L772.3 360.8L772.5 360.9L772.8 362.0L773.1 362.4L773.4 362.5L773.7 363.1L773.9 364.1L774.2 364.8L774.5 365.5L774.8 366.1L775.1 367.1L775.3 367.7L775.6 368.7L775.9 369.5L776.2 369.6L776.5 370.4L776.8 371.0L777.1 371.1L777.5 372.1L777.8 372.8L778.1 373.1L778.5 373.9L778.8 375.0L779.1 375.6L779.5 376.3L779.8 377.3L780.1 377.7L780.4 377.9L780.8 378.3L781.1 378.9L781.4 379.5L781.8 380.5L782.1 381.1L782.4 382.0L782.7 382.8L783.0 383.6L783.2 383.8L783.5 384.8L783.7 385.8L784.0 386.4L784.2 386.5L784.5 387.2L784.7 387.9L785.0 388.2L785.2 388.9L785.4 389.2L785.7 390.1L785.9 390.9L786.2 391.3L786.4 392.2L786.6 393.5L786.9 394.2L787.1 395.1L787.4 395.7L787.6 396.5L787.9 397.2L788.1 397.8L788.4 397.7L788.6 398.6L788.9 398.8L789.2 399.7L789.5 400.0L789.8 400.9L790.2 401.9L790.5 402.5L790.8 403.1L791.1 404.1L791.5 404.8L791.8 405.9L792.1 406.0L792.5 406.5L792.8 407.2L793.1 407.3L793.5 408.2L793.8 409.0L794.1 409.4L794.5 409.9L794.8 410.8L795.1 411.6L795.5 412.2L795.9 413.0L796.3 413.7L796.7 414.5L797.2 415.2L797.6 415.9L798.0 416.7L798.4 417.4L798.8 418.6L799.2 419.5L799.5 419.8L799.9 420.0L800.2 420.3L800.5 419.4L800.7 419.5L800.9 418.5" fill="none" stroke="#6e1b24" stroke-width="4.1" stroke-linejoin="round" stroke-linecap="butt"/>
<path d="M799.2 419.5L799.5 419.8L799.9 420.0L800.2 420.3L800.5 419.4L800.7 419.5L800.9 418.5L801.1 417.9L801.3 417.2L801.5 416.1L801.7 415.0L801.9 414.1L802.1 413.2L802.2 412.8L802.4 411.9L802.6 411.5L802.8 410.1L803.1 410.1L803.3 410.4L803.7 408.9L804.2 408.3L804.6 407.1L805.1 405.7L805.5 405.8L806.0 404.6L806.4 405.4L806.6 405.0L806.9 405.4L807.1 407.1L807.3 407.3L807.5 407.6L807.6 408.9L807.8 409.9L808.0 411.1L808.1 411.2L808.3 412.1L808.5 413.7L808.7 414.1L809.0 413.8L809.2 414.5L809.5 414.8L810.1 416.0L810.7 417.0L811.4 418.3L812.0 418.5L812.6 417.7L813.0 417.3L813.4 416.5L813.8 415.6L814.1 414.5L814.5 414.3L814.9 413.7L815.3 413.8L815.7 412.6L816.2 413.5L816.6 412.4L817.1 413.5L817.6 413.7L818.2 414.4L818.7 416.2L819.2 416.7L819.8 417.1L820.5 417.5L821.1 417.1L821.9 416.6L822.6 416.9L823.2 417.7L823.9 418.1L824.5 418.5L825.0 417.9L825.5 418.2L826.0 419.0L826.5 419.7L827.0 420.7L827.5 422.2L828.0 422.8L828.5 422.6L828.9 422.6L829.4 422.5L829.9 423.2L830.3 423.8L830.8 425.3L831.2 426.3L831.7 426.5L832.2 428.0L832.6 427.4L833.1 428.2L833.5 428.5L833.9 429.2L834.4 429.0L834.8 430.3L835.3 431.8L835.7 431.4L836.2 431.9L836.6 432.8L837.1 433.0L837.5 434.0L837.8 434.3L838.2 434.7L838.5 436.1L838.8 436.4L839.1 437.3L839.4 438.4L839.7 438.7L840.1 439.3L840.4 440.0L840.7 440.1L841.0 441.3L841.3 441.4L841.6 441.8L842.0 441.9L842.3 443.1L842.6 444.1L842.9 445.2L843.2 446.1L843.6 447.3L843.9 448.0L844.3 447.8L844.7 448.1L845.1 448.6L845.5 449.4L845.9 449.2L846.3 450.3L846.7 451.6L847.1 451.7L847.5 452.7L848.0 454.1L848.4 454.3L848.8 454.1L849.2 453.8L849.6 455.3L850.0 455.7L850.4 456.7L850.8 457.9L851.2 458.8L851.5 459.0L851.9 459.3L852.3 459.9L852.7 460.6L853.0 460.9L853.4 460.9L853.8 461.4L854.2 462.8L854.6 463.7L855.0 464.4L855.4 466.1L855.8 466.2L856.2 465.8L856.7 466.5L857.2 467.2L857.7 466.9L858.1 468.1L858.6 468.1L859.1 469.5L859.7 470.9L860.2 471.1L860.7 471.1" fill="none" stroke="#6e1b24" stroke-width="4.8" stroke-linejoin="round" stroke-linecap="butt"/>
<path d="M859.1 469.5L859.7 470.9L860.2 471.1L860.7 471.1L861.3 470.1L861.8 470.9L862.4 471.9L863.0 472.6L863.6 474.1L864.2 474.2L864.8 474.7L865.5 473.8L866.1 474.0L866.8 474.7L867.4 475.8L868.1 477.1L868.7 475.5L869.4 475.0L870.0 475.3L870.6 476.6L871.3 477.9L872.0 477.5L872.7 477.0L873.4 474.7L874.0 474.3L874.7 476.0L875.4 475.6L876.1 475.9L876.8 474.1L877.4 472.9L878.0 472.8L878.7 472.8L879.3 474.6L880.0 473.7L880.6 472.3L881.3 471.4L881.9 470.7L882.6 470.3L883.2 472.1L883.8 471.3L884.5 471.0L885.1 468.9L885.7 468.5L886.2 467.6L886.8 467.5L887.3 469.2L887.9 468.7L888.4 466.8L889.0 466.7L889.5 465.6L890.1 464.4L890.6 465.0L891.2 465.7L891.7 464.7L892.2 464.7L892.8 462.3L893.3 461.4L893.8 461.4L894.3 460.3L894.8 460.5L895.3 461.5L895.7 460.4L896.2 460.2L896.7 458.1L897.2 456.8L897.6 456.3L898.1 455.6L898.6 456.9L899.1 455.7L899.5 456.0L900.0 454.6L900.5 454.3L901.0 452.9L901.5 452.0L902.0 451.0L902.6 451.1L903.1 452.5L903.6 451.4L904.2 450.5L904.7 449.2L905.3 448.3L905.8 447.5L906.4 447.1L906.9 448.4L907.5 447.9L908.1 447.1L908.6 447.0L909.2 444.9L909.8 444.6L910.5 445.7L911.1 444.9L911.8 445.5L912.5 445.3L913.2 444.1L913.9 442.5L914.6 443.3L915.3 444.5L916.0 443.7L916.7 443.9L917.3 441.6L918.0 442.8L918.8 442.7L919.6 442.7L920.3 442.6L921.1 441.0L921.8 441.6L922.6 441.5L923.4 443.5L924.2 442.8L924.9 441.8L925.5 441.1L926.2 442.1L926.9 442.4L927.6 444.3L928.3 442.9L929.0 443.0L929.7 442.8L930.4 443.1L931.1 445.1L931.8 445.0L932.5 445.2L933.1 444.6L933.8 444.1L934.4 445.0L935.1 445.6L935.7 446.4L936.3 447.6L936.9 446.2L937.6 446.6L938.2 446.2L938.8 448.1L939.4 448.7L940.1 449.2L940.7 448.6L941.3 447.8L942.0 448.6L942.6 449.6L943.3 450.6L943.9 452.2L944.6 451.3L945.2 451.2L945.9 452.3L946.5 453.0L947.1 454.4L947.8 455.0L948.4 453.5L949.0 453.2L949.8 452.5L950.6 454.5L951.4 455.3L952.1 454.7L952.9 453.9L953.7 453.7L954.4 454.1L955.2 454.1L955.9 455.3L956.6 453.7L957.2 453.2L957.9 452.0L958.6 452.3L959.2 454.2L959.9 453.8L960.6 452.8L961.3 450.5L961.9 450.1L962.5 450.6L963.2 451.0L963.8 451.1L964.4 450.4L965.1 448.5L965.7 448.2L966.4 448.8L967.0 448.3L967.7 449.5L968.3 448.2L969.0 447.3L969.6 445.6L970.2 445.7L970.9 446.5L971.5 446.1L972.1 445.0L972.8 445.3L973.4 444.2L974.0 442.9L974.6 442.7L975.3 444.5L975.9 443.8L976.5 441.8L977.2 441.0L977.8 440.1L978.4 441.4L979.1 440.8L979.7 442.0L980.4 440.9L981.0 438.6L981.7 438.9L982.3 438.3L982.9 439.3L983.6 439.6L984.2 438.0L984.9 436.5L985.5 437.0L986.1 435.7L986.7 436.8L987.2 436.6L987.8 436.4L988.3 435.7L988.9 434.2L989.4 432.9L990.0 431.7L990.5 432.8L991.0 432.5L991.6 432.6L992.1 432.6L992.7 430.1L993.2 430.1L993.7 428.1L994.3 429.2L994.8 429.6L995.4 428.7L995.9 428.8L996.5 428.6L997.1 426.9L997.6 425.9L998.2 425.2L998.7 425.1L999.3 425.8L999.8 425.6L1000.4 424.4L1000.9 423.5L1001.5 422.3L1002.1 422.9L1002.6 423.0L1003.1 422.4L1003.7 422.3L1004.2 422.0L1004.8 420.8L1005.3 420.6L1005.9 419.0L1006.4 418.8L1006.9 420.1L1007.5 418.8L1008.0 419.0L1008.6 417.6L1009.1 417.3L1009.7 416.1L1010.2 416.3L1010.8 415.5L1011.4 416.6L1012.0 416.0L1012.7 414.7L1013.3 414.1L1013.9 413.7L1014.6 412.7L1015.2 413.4L1015.9 413.3L1016.5 412.1L1017.2 410.7L1017.8 410.5L1018.5 410.5L1019.1 411.8L1019.8 411.4L1020.5 410.0L1021.2 409.3L1021.9 409.0L1022.5 409.2L1023.2 409.4L1023.9 409.2L1024.6 408.1L1025.3 408.8L1026.0 408.0L1026.6 407.1L1027.3 408.5L1027.9 408.7L1028.4 407.2L1028.9 405.2L1029.5 404.9L1030.0 404.3L1030.5 404.2" fill="none" stroke="#6e1b24" stroke-width="5.2" stroke-linejoin="round" stroke-linecap="butt"/>
<path d="M1029.5 404.9L1030.0 404.3L1030.5 404.2L1031.0 404.2L1031.5 403.4L1032.0 403.6L1032.5 402.5L1033.0 401.6L1033.5 401.1L1034.0 400.4L1034.6 399.7L1035.1 399.5L1035.6 399.1L1036.2 398.4L1036.7 398.2L1037.3 397.4L1037.8 396.4L1038.4 396.0L1038.9 396.1L1039.5 396.1L1040.0 395.6L1040.6 394.3L1041.2 394.0L1041.7 393.5L1042.3 393.1L1042.9 392.7L1043.5 392.5L1044.2 392.6L1044.8 391.5L1045.5 390.9L1046.2 390.8L1046.9 390.8L1047.6 391.2L1048.3 390.3L1049.0 389.6L1049.7 389.6L1050.4 389.6L1051.1 390.0L1051.8 389.8L1052.5 389.5L1053.3 389.0L1054.0 388.4L1054.8 388.6L1055.5 388.5L1056.3 388.4L1057.0 388.1L1057.8 387.4L1058.5 388.1L1059.3 388.0L1060.0 388.3L1060.7 388.4L1061.4 387.4L1062.1 387.4L1062.8 388.2L1063.4 388.4L1064.1 389.0L1064.8 388.1L1065.5 388.7L1066.2 389.0L1066.9 389.5L1067.6 389.6L1068.3 389.6L1068.9 389.7L1069.6 389.5L1070.2 389.8L1070.9 390.3L1071.5 390.9L1072.2 391.2L1072.9 391.2L1073.5 391.3L1074.2 391.0L1074.8 391.7L1075.5 392.4L1076.2 392.7L1076.8 392.4L1077.5 392.3L1078.1 392.5L1078.8 393.3L1079.4 394.0L1080.1 394.7L1080.7 394.6L1081.4 394.5L1082.0 394.9L1082.7 395.5L1083.3 395.9L1084.0 396.4L1084.6 395.7L1085.3 396.2L1085.9 396.4L1086.6 396.7L1087.2 397.6L1087.9 398.2L1088.6 397.8L1089.3 397.9L1090.0 397.8L1090.6 398.5L1091.3 399.6L1092.0 399.2L1092.7 399.2L1093.4 399.6L1094.1 399.7L1094.8 400.0L1095.5 401.1L1096.1 401.1L1096.8 401.1L1097.5 401.0L1098.2 401.5L1098.9 402.1L1099.6 402.5L1100.3 402.5L1100.9 402.4L1101.6 403.0L1102.3 403.1L1103.0 403.5L1103.7 404.5L1104.4 404.1L1105.1 403.9L1105.8 404.3L1106.4 404.6L1107.1 405.5L1107.8 405.9L1108.5 405.7L1109.1 405.9L1109.8 405.7L1110.4 406.5L1111.1 407.2L1111.7 407.3L1112.3 407.7L1113.0 407.3L1113.6 407.7L1114.2 408.5L1114.9 408.9L1115.5 409.6L1116.2 409.8L1116.8 409.2L1117.5 409.9L1118.1 410.0L1118.8 410.1L1119.5 411.3L1120.2 411.1L1120.9 410.8L1121.6 411.4L1122.3 411.4L1123.0 412.2L1123.8 412.1L1124.5 412.6L1125.2 411.8L1126.0 412.1L1126.7 412.8L1127.4 413.0L1128.1 413.7L1128.7 413.2L1129.4 413.2L1130.0 413.7L1130.6 414.0L1131.4 415.0L1132.2 415.0L1133.0 415.0L1133.7 414.7L1134.4 415.4L1135.1 416.0L1135.7 415.9L1136.2 416.6L1136.7 416.4L1137.2 417.2L1137.6 418.0L1137.8 419.1L1138.1 418.1L1138.4 419.5L1138.6 420.6L1138.8 421.1" fill="none" stroke="#6e1b24" stroke-width="4.5" stroke-linejoin="round" stroke-linecap="butt"/>
<path d="M1137.2 417.2L1137.6 418.0L1137.8 419.1L1138.1 418.1L1138.4 419.5L1138.6 420.6L1138.8 421.1L1139.0 420.3L1139.2 418.3L1139.4 419.0L1139.7 416.9L1139.9 417.0L1140.1 416.5L1140.4 413.5L1140.6 414.2L1140.9 412.3L1141.2 410.2L1141.5 409.3L1142.1 409.4L1142.8 411.0L1143.6 411.0L1144.2 409.6L1144.6 409.0L1144.9 409.3L1145.3 411.3L1145.6 410.4L1145.9 412.2L1146.2 412.7L1146.5 414.7L1146.9 414.9L1147.3 414.7L1147.8 416.1L1148.3 414.0L1148.8 412.7L1149.3 411.4L1149.8 411.0L1150.3 408.9L1150.7 410.6L1151.1 411.2L1151.6 413.0L1152.0 414.4L1152.5 414.5L1152.9 412.6L1153.3 413.2L1153.7 415.4L1154.1 416.0L1154.4 416.4L1154.7 417.9L1155.0 418.4L1155.3 421.1L1155.5 420.9L1155.8 422.8L1156.1 422.6L1156.5 421.3L1157.0 421.6L1157.6 421.2L1158.2 423.6L1158.8 424.3L1159.5 424.2L1160.1 424.7L1160.8 424.5L1161.4 424.2L1162.1 424.8L1162.8 425.7L1163.4 426.7L1164.1 426.0L1164.8 426.5L1165.5 425.2L1166.3 425.0L1167.0 427.5L1167.9 429.5L1168.7 426.3L1169.4 425.7L1170.1 427.4L1170.7 427.7L1171.1 429.0L1171.5 430.7L1171.8 431.1L1172.0 432.6L1172.2 433.2L1172.5 434.8L1172.7 435.2L1172.9 432.9L1173.2 433.9L1173.5 434.0L1173.9 433.7L1174.2 433.0L1174.5 432.4L1174.9 432.3L1175.3 431.5L1175.8 431.0L1176.5 431.3L1177.2 430.2L1178.0 430.1L1178.8 430.7L1179.6 430.8L1180.3 431.3L1181.1 429.8L1181.9 428.8L1182.7 430.1L1183.5 430.4L1184.3 430.4L1185.0 428.7L1185.7 427.0L1186.5 428.1L1187.1 428.9L1187.8 430.8L1188.4 429.0L1189.0 428.0L1189.6 427.8L1190.2 428.7L1190.7 430.4L1191.2 430.9L1191.6 430.6L1191.9 432.2L1192.1 430.1L1192.4 428.8L1192.7 427.8L1193.0 425.8L1193.3 424.4L1193.7 423.6L1194.3 424.6L1194.9 426.1L1195.6 428.5L1196.3 428.2L1197.0 428.5L1197.7 427.1L1198.4 429.6L1199.0 430.5L1199.6 430.5L1200.2 430.9L1200.9 430.9L1201.4 431.0L1202.0 429.2L1202.6 430.6L1203.3 430.2L1203.9 430.9L1204.5 427.5L1205.2 426.8L1205.8 426.9L1206.4 425.6L1207.1 426.4L1207.9 425.9L1208.6 425.1L1209.3 423.9L1210.0 424.7L1210.7 424.4L1211.6 425.8L1212.4 424.7L1213.2 424.3L1214.0 425.0L1214.6 425.6L1215.1 425.9L1215.6 428.3L1216.1 429.2L1216.7 428.1L1217.2 426.5L1217.8 428.4L1218.4 429.7L1219.1 430.0L1219.8 430.4L1220.5 430.1L1221.1 430.2L1221.7 430.8L1222.4 431.0L1223.1 433.1L1223.8 432.1L1224.5 431.7L1225.2 431.7L1225.9 431.4L1226.7 431.9L1227.5 433.7L1228.4 432.4L1229.2 430.3L1230.0 430.9L1230.7 431.2L1231.3 433.9L1231.7 433.9L1232.0 434.8L1232.3 435.5L1232.5 435.1L1232.7 436.2L1232.9 435.7L1233.1 438.5L1233.2 438.1L1233.5 439.5L1233.7 437.6L1234.0 439.2L1234.4 439.9L1234.8 439.3L1235.3 438.8L1235.7 438.5L1236.2 437.3L1236.7 437.2L1237.3 434.0L1237.8 435.0L1238.5 434.4L1239.1 435.5L1239.9 435.7L1240.6 434.5L1241.3 433.4L1242.1 433.1L1242.8 433.5L1243.6 435.2L1244.4 433.3L1245.2 433.0L1246.0 432.8L1246.8 434.1L1247.6 433.9L1248.4 434.5L1249.2 433.6L1250.0 432.3L1250.9 433.3L1251.6 434.9L1252.4 435.7L1253.0 432.9L1253.7 432.5L1254.2 434.8L1254.7 436.9L1255.2 438.6L1255.7 438.2L1256.1 439.3L1256.6 436.2L1257.0 436.0L1257.4 433.0L1257.9 432.1L1258.4 432.4L1259.2 433.0L1260.1 433.8L1260.9 432.4L1261.7 430.8L1262.1 433.3L1262.5 433.1L1262.9 434.0L1263.2 435.5L1263.5 438.0L1263.9 439.2L1264.4 437.1L1265.0 435.8L1265.6 436.8L1266.3 435.6L1267.0 438.2L1267.7 437.2L1268.5 436.4L1269.2 434.2L1269.9 434.9L1270.6 434.7L1271.3 435.5L1272.0 437.0L1272.7 434.0L1273.4 434.3L1274.0 432.5L1274.7 434.6L1275.3 434.7L1276.0 435.6L1276.6 432.3L1277.2 432.0L1277.8 430.9L1278.4 432.3L1279.0 432.8L1279.6 432.0L1280.1 430.3L1280.5 429.2L1280.9 427.9L1281.3 427.1L1281.7 425.7L1282.0 425.1L1282.3 426.1L1282.7 425.7L1283.0 424.7L1283.3 426.2L1283.7 423.9L1284.0 424.1L1284.4 422.1L1284.9 422.2L1285.5 420.9L1286.1 419.0L1286.6 420.6L1287.2 421.4L1287.7 420.3L1288.3 420.4L1288.8 420.6L1289.3 421.8L1289.8 420.6L1290.4 422.8L1291.0 423.5L1291.6 423.4L1292.2 422.9L1292.8 422.1L1293.4 419.1" fill="none" stroke="#6e1b24" stroke-width="6.4" stroke-linejoin="round" stroke-linecap="butt"/>
<path d="M309.9 723.0L320.0 734.0L329.7 746.1L330.4 726.0L330.2 690.0L331.0 650.0L332.2 620.3L334.2 611.0L337.5 629.7L338.9 600.2L340.2 560.0L340.2 560.0L340.2 559.3L340.2 558.6L340.2 557.9L340.2 557.2L340.3 556.5L340.3 555.8L340.3 555.1L340.3 554.4L340.3 553.7L340.3 553.0L340.3 552.3L340.3 551.6L340.3 550.9L340.4 550.2L340.4 549.5L340.4 548.8L340.4 548.1L340.4 547.4L340.4 546.7L340.4 546.0L340.4 545.3L340.4 544.6L340.4 544.0L340.5 543.3L340.5 542.6L340.5 541.9L340.5 541.2L340.5 540.5L340.5 539.8L340.5 539.1L340.5 538.4L340.5 537.7L340.6 537.0L340.6 536.3L340.6 535.7L340.6 535.0L340.6 534.3L340.6 533.6L340.6 532.9L340.6 532.2L340.6 531.5L340.6 530.8L340.7 530.1L340.7 529.4L340.7 528.7L340.7 528.0L340.7 527.3L340.7 526.6L340.7 525.9L340.7 525.2L340.7 524.5L340.8 523.8L340.8 523.1L340.8 522.4L340.8 521.7L340.8 521.0L340.8 520.3L340.8 519.6L340.8 518.9L340.8 518.2L340.9 517.5L340.9 516.8L340.9 516.0L340.9 515.3L340.9 514.6L340.9 513.9L340.9 513.2L340.9 512.5L341.0 511.7L341.0 511.0L341.0 510.3L341.0 509.6L341.0 508.8L341.0 508.1L341.0 507.4L341.1 506.7L341.1 505.9L341.1 505.2L341.1 504.5L341.1 503.7L341.1 503.0L341.2 502.2L341.2 501.5L341.2 500.7L341.2 500.0L341.2 499.3L341.2 498.7L341.2 498.0L341.3 497.3L341.3 496.7L341.3 496.0L341.3 495.3L341.3 494.7L341.3 494.0L341.3 493.3L341.4 492.6L341.4 491.9L341.4 491.2L341.4 490.5L341.4 489.8L341.4 489.2L341.5 488.5L341.5 487.8L341.5 487.1L341.5 486.4L341.5 485.6L341.5 484.9L341.5 484.2L341.6 483.5L341.6 482.8L341.6 482.1L341.6 481.4L341.6 480.7L341.6 480.0L341.7 479.2L341.7 478.5L341.7 477.8L341.7 477.1L341.7 476.4L341.7 475.7L341.8 474.9L341.8 474.2L341.8 473.5L341.8 472.8L341.8 472.0L341.8 471.3L341.9 470.6L341.9 469.9L341.9 469.1L341.9 468.4L341.9 467.7L341.9 466.9L342.0 466.2L342.0 465.5L342.0 464.8L342.0 464.0L342.0 463.3L342.0 462.6L342.1 461.8L342.1 461.1L342.1 460.4L342.1 459.7L342.1 458.9L342.2 458.2L342.2 457.5L342.2 456.8L342.2 456.0L342.2 455.3L342.3 454.6L342.3 453.9L342.3 453.1L342.3 452.4L342.3 451.7L342.4 451.0L342.4 450.3L342.4 449.6L342.4 448.8L342.4 448.1L342.5 447.4L342.5 446.7L342.5 446.0L342.5 445.3L342.5 444.6L342.6 443.9L342.6 443.2L342.6 442.5L342.6 441.8L342.6 441.1L342.7 440.4L342.7 439.7L342.7 439.0L342.7 438.3L342.8 437.6L342.8 436.9L342.8 436.2L342.8 435.5L342.9 434.9L342.9 434.2L342.9 433.5L342.9 432.8L343.0 432.2L343.0 431.5L343.0 430.8L343.0 430.2L343.1 429.5L343.1 428.9L343.1 428.2L343.1 427.5L343.2 426.9L343.2 426.3L343.2 425.6L343.2 425.0L343.3 424.3L343.3 423.7L343.3 422.9L343.4 422.2L343.4 421.4L343.4 420.6L343.5 419.9L343.5 419.1L343.5 418.4L343.6 417.6L343.6 416.9L343.6 416.1L343.7 415.4L343.7 414.7L343.8 413.9L343.8 413.2L343.8 412.5L343.9 411.7L343.9 411.0L343.9 410.3L344.0 409.6L344.0 408.9L344.0 408.1L344.1 407.4L344.1 406.7L344.2 406.0L344.2 405.3L344.2 404.6L344.3 403.9L344.3 403.2L344.3 402.5L344.4 401.8L344.4 401.1L344.5 400.4L344.5 399.7L344.5 399.0L344.6 398.3L344.6 397.7L344.7 397.0L344.7 396.3L344.8 395.6L344.8 394.9L344.8 394.2L344.9 393.5L344.9 392.9L345.0 392.2L345.0 391.4L345.1 391.1L345.1 390.5L345.1 389.2L345.2 389.1L345.2 388.5L345.3 387.2L345.3 386.3L345.4 385.7L345.4 385.8L345.5 384.2L345.5 384.4L345.6 383.0L345.6 382.8L345.7 381.6L345.7 380.9L345.8 380.7L345.8 379.5L345.9 379.0L345.9 378.9L346.0 378.0L346.0 377.4L346.1 376.8L346.1 375.3L346.2 374.8L346.2 374.6L346.3 373.8L346.3 372.5L346.4 372.2L346.5 371.3L346.5 370.7L346.6 369.7L346.6 368.9L346.7 369.1L346.7 367.8L346.8 367.6L346.9 366.2L346.9 365.8L347.0 364.7L347.1 364.2L347.1 363.3L347.2 363.0L347.2 361.8L347.3 361.6L347.4 360.6L347.4 359.5L347.5 359.0L347.6 358.4L347.6 358.0L347.7 356.7L347.8 355.9L347.8 355.8L347.9 355.0L348.0 354.1L348.1 352.9L348.1 352.1L348.2 351.4L348.3 350.5L348.3 349.7L348.4 349.4L348.5 348.6L348.6 348.0L348.6 347.0L348.7 346.0L348.8 345.8L348.8 345.1L348.9 344.2L349.0 343.5L349.1 342.9L349.1 342.4L349.2 341.6L349.3 340.8L349.4 339.8L349.4 339.0L349.5 338.3L349.6 338.1L349.6 336.9L349.7 336.2L349.8 335.5L349.9 334.6L349.9 334.7L350.0 333.1L350.1 333.0L350.2 332.6L350.2 331.3L350.3 331.0L350.4 330.1L350.5 329.3L350.5 328.6L350.6 327.9L350.7 327.9L350.7 327.3L350.8 326.8L350.9 325.4L350.9 325.3L351.0 324.4L351.1 324.1L351.2 323.4L351.2 322.7L351.3 322.7L351.4 321.2L351.4 321.4L351.5 320.9L351.6 319.7L351.7 319.0L351.8 318.5L351.9 317.0L352.0 316.6L352.1 315.9L352.3 314.8L352.4 314.3L352.5 313.3L352.6 312.7L352.7 312.0L352.8 311.4L352.9 310.4L353.0 309.9L353.1 309.2L353.2 308.2L353.3 307.9L353.4 306.9L353.5 306.8L353.6 305.8L353.7 305.4L353.8 304.5L354.0 303.8L354.1 303.0L354.2 302.3L354.3 302.3L354.4 301.3L354.5 300.7L354.6 300.0L354.7 299.5L354.9 298.2L355.0 297.4L355.1 297.2L355.3 296.1L355.4 295.5L355.5 294.9L355.6 294.2L355.8 293.4L355.9 292.0L356.0 291.5L356.2 291.2L356.3 290.5L356.4 289.2L356.6 288.5L356.7 288.0L356.9 287.2L357.0 286.7L357.2 286.5L357.3 285.6L357.5 284.8L357.7 283.6L357.8 283.1L358.0 282.9L358.1 281.8L358.3 280.9L358.5 280.2L358.7 279.8L358.9 279.1L359.2 278.0L359.5 277.9L359.8 277.2L360.4 276.8L361.1 276.2L361.8 276.1L362.5 275.9L363.2 275.6L363.9 274.9L364.4 274.6L364.8 274.4L365.3 273.4L365.7 272.9L366.1 272.7L366.5 271.6L366.9 271.0L367.3 270.2L367.6 270.0L368.0 268.6L368.3 268.5L368.6 268.0L368.8 266.7L369.1 266.2L369.3 265.8L369.6 264.9L369.8 263.9L370.0 262.9L370.3 262.6L370.5 261.9L370.8 261.6L371.1 260.6L371.5 260.0L371.9 259.5L372.3 259.0L372.7 258.0L373.2 257.5L373.7 257.2L374.2 257.1L374.9 256.0L375.7 256.3L376.4 255.8L377.2 255.4L377.9 255.8L378.3 255.8L378.7 256.0L379.0 257.1L379.3 257.4L379.6 258.2L379.9 258.9L380.2 260.1L380.5 260.7L380.8 260.9L381.1 262.2L381.4 262.9L381.6 263.5L381.9 264.4L382.1 264.7L382.3 265.4L382.6 266.4L382.8 266.7L383.0 267.4L383.3 268.1L383.5 269.1L383.7 269.7L383.9 270.5L384.2 270.9L384.4 271.3L384.6 272.6L384.9 273.2L385.1 274.1L385.4 274.8L385.6 275.0L385.8 275.7L386.1 276.3L386.3 277.6L386.5 277.7L386.7 278.3L387.0 279.6L387.2 280.2L387.4 280.4L387.7 281.7L387.9 282.4L388.1 283.0L388.4 283.3L388.6 284.5L388.9 285.0L389.1 285.8L389.4 286.9L389.6 287.4L389.9 288.1L390.2 288.1L390.4 288.9L390.7 289.7L391.0 290.0L391.3 291.5L391.7 291.5L392.0 292.1L392.3 292.8L392.7 293.3L393.0 294.5L393.4 294.8L393.7 295.4L394.1 295.9L394.5 296.2L394.8 297.0L395.2 298.2L395.6 298.8L396.0 299.6L396.4 299.8L396.7 300.3L397.0 300.7L397.3 301.6L397.6 302.0L397.9 302.7L398.2 303.3L398.6 304.0L398.9 304.4L399.2 305.4L399.6 305.4L399.9 306.7L400.3 307.0L400.6 307.2L401.0 308.0L401.3 308.9L401.7 309.4L402.1 310.2L402.4 310.6L402.8 311.2L403.1 312.4L403.5 312.6L403.8 313.6L404.1 314.3L404.5 314.8L404.8 315.3L405.1 316.4L405.5 316.7L405.8 317.7L406.1 317.6L406.4 318.6L406.7 319.4L406.9 319.6L407.2 320.9L407.5 320.9L407.7 322.0L408.0 322.3L408.2 323.7L408.5 324.0L408.7 324.9L409.0 325.3L409.2 326.1L409.4 326.8L409.6 327.1L409.8 327.7L410.0 328.9L410.3 329.0L410.5 330.4L410.6 330.4L410.8 331.0L411.0 331.7L411.2 333.0L411.4 333.8L411.6 334.0L411.8 334.9L412.0 335.3L412.1 336.5L412.3 337.0L412.5 337.3L412.7 337.9L412.9 339.2L413.0 339.3L413.2 340.8L413.4 341.0L413.6 341.6L413.7 342.6L413.9 343.0L414.0 343.9L414.2 344.2L414.3 345.6L414.5 345.7L414.6 346.8L414.8 346.9L414.9 348.2L415.1 349.0L415.2 349.2L415.3 349.5L415.5 350.5L415.6 351.5L415.8 351.8L415.9 352.8L416.0 353.1L416.2 354.1L416.3 355.0L416.4 355.5L416.6 356.4L416.7 356.6L416.8 358.0L416.9 358.1L417.1 359.5L417.2 360.3L417.3 361.0L417.5 361.3L417.6 361.9L417.7 362.6L417.8 363.7L418.0 364.3L418.1 365.4L418.2 365.4L418.3 366.5L418.5 367.6L418.6 368.1L418.7 368.7L418.8 368.9L418.9 369.6L419.0 370.4L419.1 371.6L419.3 372.3L419.4 372.4L419.5 373.7L419.6 373.6L419.7 374.7L419.8 375.7L419.9 375.9L420.0 377.1L420.1 377.5L420.2 377.7L420.3 378.6L420.4 379.4L420.5 379.9L420.6 381.0L420.7 381.2L420.8 382.5L420.9 382.7L421.0 383.2L421.1 384.4L421.2 384.7L421.3 385.8L421.4 386.7L421.5 387.2L421.6 387.8L421.7 388.1L421.8 389.3L421.9 389.6L422.0 390.8L422.1 391.1L422.2 392.2L422.3 392.7L422.4 393.5L422.5 394.4L422.6 394.7L422.7 395.4L422.8 396.9L422.9 397.0L423.0 398.2L423.1 399.0L423.2 399.3L423.3 399.8L423.4 400.4L423.5 401.9L423.6 401.9L423.7 403.0L423.8 403.7L423.9 404.0L424.0 405.0L424.1 405.4L424.1 406.4L424.2 407.1L424.3 407.7L424.4 408.2L424.5 409.1L424.6 409.6L424.7 410.3L424.8 411.1L424.9 412.3L424.9 412.7L425.0 413.8L425.1 413.7L425.2 415.3L425.3 415.6L425.4 416.6L425.5 417.1L425.5 417.9L425.6 418.2L425.7 419.4L425.8 419.6L425.9 420.4L426.0 421.0L426.0 422.0L426.1 422.8L426.2 423.4L426.3 424.6L426.4 424.6L426.5 425.8L426.6 426.2L426.6 427.2L426.7 428.1L426.8 428.8L426.9 428.9L427.0 429.8L427.1 430.8L427.2 431.9L427.3 431.7L427.3 433.0L427.4 433.7L427.5 434.5L427.6 434.8L427.7 435.9L427.8 436.3L427.9 437.4L428.0 437.3L428.1 438.8L428.1 439.0L428.2 439.6L428.3 440.0L428.4 440.8L428.5 441.9L428.6 442.5L428.7 442.7L428.8 443.5L428.9 444.0L429.0 444.8L429.1 445.6L429.2 446.4L429.4 447.8L429.5 448.5L429.6 449.1L429.7 449.5L429.8 450.3L429.9 451.3L430.0 452.1L430.1 452.7L430.2 453.3L430.3 453.7L430.4 454.8L430.5 455.7L430.7 456.3L430.8 456.4L430.9 457.7L431.0 458.0L431.1 458.6L431.2 460.0L431.3 460.4L431.5 461.2L431.6 461.3L431.7 462.6L431.8 463.4L431.9 464.0L432.1 464.6L432.2 465.3L432.3 466.0L432.5 466.5L432.6 467.0L432.7 468.0L432.9 468.6L433.0 469.4L433.2 469.5L433.3 470.8L433.5 471.1L433.7 472.1L433.8 472.0L434.0 473.4L434.2 474.0L434.4 474.2L434.6 475.5L434.8 475.6L435.0 476.3L435.2 477.2L435.5 477.7L435.7 478.6L435.9 479.7L436.1 480.2L436.4 480.9L436.6 481.3L436.9 482.3L437.1 483.0L437.3 483.6L437.6 484.5L437.8 485.0L438.1 485.3L438.3 485.7L438.6 486.9L438.8 487.7L439.1 487.9L439.4 488.8L439.6 489.7L439.9 490.3L440.1 490.3L440.4 491.4L440.6 491.6L440.9 492.3L441.1 493.6L441.4 493.9L441.6 494.8L441.9 495.3L442.1 495.9L442.3 496.4L442.6 497.2L442.8 498.3L443.1 498.8L443.4 499.2L443.6 499.6L443.9 500.5L444.1 501.5L444.4 501.9L444.6 502.7L444.9 503.5L445.1 503.6L445.4 504.7L445.6 504.8L445.9 506.1L446.1 506.2L446.4 506.9L446.7 508.2L446.9 508.3L447.2 508.8L447.4 510.1L447.7 510.5L447.9 511.4L448.2 511.7L448.4 512.4L448.7 513.5L448.9 513.8L449.1 515.0L449.4 515.0L449.6 516.2L449.9 516.4L450.1 517.4L450.3 517.6L450.5 518.4L450.7 519.7L450.9 519.9L451.1 520.9L451.3 521.0L451.5 521.8L451.6 522.2L451.8 523.3L452.0 524.3L452.2 524.6L452.4 525.2L452.6 526.4L452.8 527.0L452.9 527.5L453.1 527.7L453.3 528.9L453.5 529.4L453.7 530.6L453.8 530.8L454.0 531.7L454.2 532.4L454.4 532.9L454.6 533.8L454.7 534.6L454.9 535.5L455.1 535.9L455.3 536.5L455.5 537.7L455.6 537.6L455.8 539.0L456.0 539.6L456.2 540.2L456.4 540.8L456.5 541.8L456.7 542.6L456.9 543.2L457.1 543.9L457.3 543.9L457.5 544.9L457.6 545.4L457.8 546.8L458.0 547.4L458.2 547.4L458.4 548.5L458.6 549.2L458.8 549.4L459.0 550.4L459.2 551.4L459.4 552.0L459.6 552.4L459.8 553.5L460.0 553.8L460.2 554.7L460.4 555.3L460.6 556.5L460.8 556.9L461.0 557.7L461.2 558.3L461.4 558.7L461.6 559.9L461.8 560.4L462.0 561.1L462.2 561.4L462.4 562.0L462.6 563.0L462.8 563.9L463.0 564.6L463.2 564.8L463.4 565.3L463.6 566.3L463.8 567.3L464.0 567.3L464.2 568.5L464.4 568.6L464.6 569.4L464.9 569.8L465.1 570.7L465.3 571.4L465.5 572.5L465.7 573.2L465.9 573.1L466.2 573.8L466.4 575.0L466.6 574.9L466.9 575.8L467.1 576.6L467.4 577.0L467.7 577.9L468.0 578.7L468.2 579.5L468.5 580.7L468.8 580.8L469.1 581.4L469.3 582.8L469.6 583.1L469.9 584.1L470.2 584.6L470.5 585.4L470.8 585.7L471.0 586.2L471.3 587.4L471.6 587.8L471.9 588.5L472.2 589.2L472.5 589.9L472.8 590.1L473.2 590.8L473.5 591.9L473.8 592.1L474.1 592.4L474.5 593.3L474.8 593.5L475.2 594.6L475.7 594.6L476.1 596.0L476.6 596.4L477.1 596.8L477.5 598.0L478.0 597.9L478.5 598.5L479.0 598.9L479.5 599.9L480.0 600.6L480.5 601.0L481.0 601.2L481.5 602.1L482.0 601.9L482.6 602.4L483.1 603.1L483.7 603.8L484.4 603.9L485.1 604.4L485.7 604.8L486.4 604.8L487.1 605.5L487.8 605.6L488.5 605.5L489.2 605.7L489.9 606.2L490.6 605.9L491.3 605.8L492.0 606.4L492.7 606.1L493.4 606.0L494.1 606.0L494.8 606.1L495.5 605.2L496.2 605.2L496.9 604.7L497.6 604.8L498.2 604.6L498.9 604.6L499.6 604.2L500.3 603.8L500.9 603.3L501.5 603.1L502.2 602.5L502.8 602.6L503.5 602.2L504.1 601.8L504.7 600.8L505.3 600.8L505.9 600.5L506.6 599.8L507.2 599.7L507.8 599.3L508.4 598.7L508.9 598.3L509.5 597.8L510.1 597.5L510.7 596.4L511.2 596.5L511.8 596.0L512.4 595.5L512.9 594.7L513.5 594.0L514.0 594.0L514.5 593.6L515.1 592.6L515.6 591.9L516.1 591.4L516.5 590.7L516.9 590.7L517.3 590.4L517.7 589.7L518.0 588.7L518.4 588.5L518.8 587.3L519.1 587.3L519.5 586.2L519.8 585.3L520.2 585.2L520.5 584.1L520.8 583.6L521.2 582.7L521.5 582.4L521.9 581.8L522.2 581.4L522.6 580.0L522.9 580.1L523.2 578.8L523.6 578.2L523.9 577.9L524.3 577.1L524.7 576.4L525.0 576.0L525.4 575.1L525.7 574.9L526.1 573.8L526.4 573.7L526.8 573.1L527.2 572.2L527.5 571.1L527.9 571.1L528.2 569.8L528.6 569.6L529.0 568.9L529.3 567.9L529.7 567.8L530.0 567.3L530.4 566.5L530.8 565.8L531.1 565.2L531.5 564.7L531.9 563.8L532.2 563.7L532.6 563.2L533.0 562.5L533.4 562.0L533.8 560.8L534.1 560.8L534.5 559.4L534.9 559.1L535.3 558.2L535.7 557.9L536.1 557.5L536.5 556.9L536.9 556.1L537.3 555.4L537.7 554.7L538.1 554.3L538.5 553.6L538.9 553.0L539.3 552.9L539.6 552.1L540.0 551.5L540.4 550.7L540.8 550.6L541.2 549.5L541.7 548.8L542.1 548.3L542.6 547.6L543.1 547.0L543.5 546.0L544.0 545.4L544.5 544.5L544.9 543.6L545.3 542.9L545.8 541.6L546.2 541.2L546.6 540.5L547.0 540.9L547.3 540.5L547.7 540.2L548.0 539.9L548.3 540.1L548.5 540.2L548.7 541.1L548.9 541.9L549.1 542.0L549.2 542.5L549.4 543.4L549.5 544.4L549.6 545.8L549.8 546.6L549.9 547.2L550.0 547.8L550.2 548.7L550.3 549.6L550.5 550.9L550.7 551.4L550.9 552.4L551.1 552.9L551.6 553.5L552.0 554.0L552.6 555.0L553.1 554.8L553.6 555.2L554.2 555.7L554.6 555.5L555.0 555.0L555.5 554.6L555.9 553.9L556.3 554.2L556.8 553.3L557.2 552.8L557.7 552.1L558.1 550.8L558.6 550.2L559.0 549.1L559.4 548.7L559.7 548.2L559.9 547.0L560.1 546.4L560.4 546.0L560.6 545.7L560.8 544.9L561.0 544.0L561.3 544.1L561.5 543.4L561.7 542.4L561.9 541.4L562.1 541.4L562.3 540.4L562.5 539.3L562.7 538.8L562.9 538.4L563.1 537.9L563.3 536.8L563.5 536.2L563.7 535.1L564.0 534.4L564.2 534.3L564.4 533.1L564.6 532.2L564.9 531.9L565.1 530.8L565.3 530.2L565.6 529.8L565.9 529.2L566.1 528.6L566.4 528.0L566.6 527.2L566.9 526.2L567.2 526.1L567.5 524.9L567.7 524.6L568.0 523.9L568.3 523.5L568.6 522.9L568.9 521.8L569.2 521.5L569.5 520.9L569.8 520.1L570.0 519.1L570.3 519.2L570.6 518.3L570.9 517.1L571.2 516.7L571.5 516.7L571.8 515.4L572.1 514.9L572.4 514.6L572.7 514.0L573.0 513.2L573.2 512.7L573.5 511.4L573.8 510.8L574.1 511.0L574.4 510.2L574.7 508.8L575.0 508.2L575.2 507.7L575.5 507.7L575.8 506.4L576.1 506.1L576.4 505.7L576.7 504.8L577.0 504.4L577.2 503.2L577.5 502.5L577.8 501.7L578.1 501.7L578.4 500.5L578.6 500.6L578.9 499.8L579.2 498.7L579.5 498.6L579.8 497.4L580.1 497.0L580.3 496.0L580.6 496.0L580.9 495.5L581.2 494.9L581.5 493.4L581.8 493.5L582.1 492.6L582.4 492.2L582.7 491.3L583.0 490.8L583.2 490.2L583.5 489.7L583.8 488.4L584.1 487.8L584.4 487.6L584.7 486.8L585.0 486.2L585.3 485.3L585.6 485.3L585.9 484.0L586.2 484.1L586.5 483.4L586.8 482.5L587.0 481.5L587.3 481.3L587.6 480.3L587.9 479.8L588.2 478.8L588.5 478.9L588.8 477.9L589.0 477.1L589.3 476.2L589.5 476.2L589.8 475.6L590.0 475.0L590.3 473.6L590.5 473.2L590.8 472.4L591.1 472.2L591.3 470.9L591.6 470.7L591.8 470.3L592.1 469.4L592.3 468.0L592.6 467.4L592.8 466.7L593.1 466.6L593.3 465.8L593.6 465.0L593.8 464.3L594.1 463.5L594.3 463.0L594.6 462.4L594.9 462.0L595.1 461.1L595.4 460.5L595.6 459.9L595.9 459.2L596.2 458.5L596.4 457.2L596.7 457.2L597.0 456.6L597.3 455.6L597.6 455.3L597.9 454.0L598.3 454.0L598.6 452.9L598.9 452.4L599.2 451.4L599.6 450.7L599.9 450.1L600.2 449.5L600.6 448.6L600.9 448.3L601.2 448.1L601.5 447.2L601.8 446.8L602.2 446.0L602.5 445.4L602.8 444.9L603.1 444.1L603.4 443.0L603.7 442.3L603.9 441.8L604.2 440.9L604.5 440.4L604.7 440.3L605.0 439.7L605.2 438.5L605.4 438.2L605.7 437.5L605.9 437.0L606.1 436.2L606.3 435.3L606.5 434.3L606.7 434.3L606.9 433.2L607.1 432.8L607.3 431.9L607.5 431.4L607.6 431.1L607.8 429.7L608.0 429.3L608.2 428.7L608.3 427.9L608.5 427.6L608.7 426.4L608.8 426.1L609.0 425.2L609.1 424.8L609.3 423.3L609.4 422.8L609.5 422.2L609.7 422.1L609.8 420.7L609.9 420.2L610.0 420.0L610.1 419.5L610.2 418.1L610.4 417.7L610.5 417.2L610.6 416.5L610.7 415.9L610.8 415.2L610.9 414.1L611.0 413.3L611.1 412.4L611.2 412.3L611.3 411.1L611.4 410.5L611.5 410.4L611.6 409.3L611.8 408.5L611.9 407.8L612.0 407.0L612.1 406.3L612.2 405.2L612.3 404.2L612.5 403.4L612.6 402.6L612.7 402.3L612.8 401.4L612.9 400.8L613.0 400.5L613.1 400.3L613.2 399.4L613.3 398.4L613.4 398.2L613.5 397.0L613.7 396.2L613.8 395.7L613.9 395.2L614.0 394.7L614.1 393.8L614.2 393.4L614.3 392.1L614.5 392.2L614.6 390.9L614.7 390.7L614.8 389.3L614.9 389.3L615.0 388.0L615.2 387.9L615.3 387.1L615.4 386.2L615.5 385.2L615.6 384.2L615.8 383.6L615.9 383.6L616.0 382.2L616.1 381.9L616.2 381.1L616.4 380.4L616.5 379.3L616.6 378.5L616.7 377.7L616.9 377.8L617.0 376.6L617.1 376.1L617.2 375.3L617.3 374.3L617.5 373.4L617.6 372.6L617.7 372.7L617.8 371.3L618.0 371.4L618.1 370.1L618.2 369.7L618.3 368.5L618.4 368.4L618.6 367.2L618.7 366.7L618.8 366.1L618.9 365.0L619.1 364.4L619.2 364.2L619.3 363.0L619.4 362.4L619.6 362.0L619.7 360.8L619.8 360.0L620.0 359.3L620.1 358.8L620.2 358.0L620.3 357.6L620.5 356.7L620.6 356.3L620.7 354.9L620.9 354.7L621.0 354.1L621.1 352.9L621.3 352.0L621.4 351.6L621.5 350.6L621.6 350.2L621.8 349.7L621.9 348.5L622.0 347.8L622.2 347.4L622.3 346.4L622.4 345.8L622.6 345.2L622.7 344.3L622.8 343.5L623.0 343.1L623.1 342.5L623.2 342.2L623.3 341.2L623.5 340.1L623.6 339.5L623.7 339.3L623.9 338.5L624.0 338.1L624.1 337.5L624.3 336.7L624.4 335.4L624.5 335.5L624.6 334.4L624.8 333.5L624.9 332.8L625.0 332.7L625.2 331.4L625.3 330.5L625.5 330.0L625.6 329.9L625.8 328.8L625.9 328.3L626.1 327.0L626.2 326.7L626.4 325.8L626.5 325.1L626.7 324.8L626.8 323.8L627.0 322.9L627.1 323.0L627.3 321.9L627.4 321.0L627.6 320.2L627.7 320.1L627.9 319.3L628.0 318.2L628.2 317.9L628.3 317.5L628.5 316.6L628.6 315.7L628.7 315.2L628.9 314.7L629.0 314.0L629.2 312.9L629.3 312.8L629.4 312.3L629.6 311.4L629.7 310.8L629.8 309.7L630.0 309.5L630.1 308.1L630.2 307.5L630.3 307.1L630.5 306.7L630.6 305.3L630.7 304.7L630.8 303.8L631.0 303.5L631.1 302.5L631.2 301.9L631.3 301.7L631.4 300.8L631.5 300.4L631.6 299.2L631.8 298.8L631.9 297.5L632.0 297.6L632.1 296.3L632.2 295.8L632.3 295.1L632.4 294.8L632.5 293.7L632.6 293.4L632.7 292.4L632.8 291.3L632.9 291.1L633.0 289.9L633.1 289.9L633.2 288.7L633.3 287.7L633.4 287.7L633.5 286.4L633.6 285.7L633.7 285.0L633.8 284.5L633.9 283.2L634.0 282.8L634.1 281.9L634.2 281.8L634.3 280.4L634.4 280.2L634.5 279.2L634.6 278.7L634.6 278.1L634.7 277.5L634.8 276.3L634.9 275.7L635.0 274.9L635.0 275.0L635.1 273.6L635.2 272.9L635.3 272.5L635.4 271.9L635.4 271.5L635.5 270.0L635.6 269.5L635.7 268.8L635.7 268.4L635.8 267.6L635.9 266.9L636.0 266.6L636.0 265.7L636.1 265.2L636.2 264.6L636.2 263.2L636.3 263.1L636.4 261.9L636.5 260.9L636.5 261.0L636.6 259.5L636.7 258.7L636.7 258.2L636.8 257.5L636.9 257.4L636.9 256.6L637.0 255.4L637.1 254.8L637.2 254.3L637.2 253.5L637.3 252.6L637.4 251.8L637.4 250.8L637.5 250.3L637.5 250.0L637.6 249.2L637.7 248.7L637.7 248.1L637.8 247.5L637.9 246.1L637.9 245.3L638.0 245.4L638.0 244.4L638.1 243.4L638.2 243.1L638.2 242.0L638.3 241.3L638.3 240.7L638.4 240.1L638.4 239.6L638.5 238.3L638.6 238.2L638.6 237.4L638.7 236.5L638.7 236.0L638.8 235.4L638.8 234.0L638.9 233.7L639.0 233.1L639.0 232.4L639.1 231.7L639.1 230.5L639.2 230.5L639.2 229.6L639.3 228.4L639.4 227.8L639.4 227.6L639.5 226.2L639.5 225.7L639.6 225.4L639.6 224.7L639.7 223.3L639.8 223.1L639.8 222.0L639.9 221.6L639.9 220.9L640.0 219.6L640.1 219.0L640.1 218.3L640.2 217.6L640.2 216.7L640.3 216.1L640.3 215.6L640.4 214.9L640.5 213.9L640.5 213.7L640.6 213.3L640.6 212.3L640.7 211.4L640.7 211.0L640.8 210.0L640.9 209.1L640.9 208.6L641.0 207.5L641.0 207.4L641.1 206.2L641.2 205.7L641.2 205.5L641.3 204.7L641.3 204.0L641.4 203.1L641.4 202.4L641.5 201.8L641.6 201.3L641.6 199.9L641.7 199.7L641.7 198.6L641.8 197.9L641.9 197.7L641.9 196.8L642.0 196.3L642.0 195.6L642.1 194.6L642.1 193.6L642.2 192.7L642.3 192.5L642.3 192.0L642.4 190.8L642.4 190.0L642.5 189.2L642.6 188.6L642.6 188.4L642.7 187.1L642.7 186.6L642.8 185.9L642.9 185.6L642.9 185.2L643.0 183.6L643.0 183.0L643.1 183.0L643.1 182.4L643.2 180.9L643.3 180.4L643.3 179.9L643.4 179.0L643.4 178.4L643.5 177.8L643.6 176.9L643.6 176.0L643.7 175.3L643.7 174.6L643.8 173.9L643.9 173.6L643.9 173.0L644.0 171.9L644.0 171.6L644.1 170.8L644.2 169.8L644.2 169.2L644.3 168.2L644.3 168.1L644.4 167.1L644.5 165.9L644.5 165.3L644.6 165.0L644.6 164.0L644.7 163.6L644.8 162.5L644.8 162.3L644.9 161.6L644.9 160.2L645.0 159.9L645.1 158.9L645.1 158.6L645.2 158.0L645.2 157.3L645.3 156.1L645.4 155.2L645.4 155.1L645.5 154.3L645.6 153.2L645.6 152.5L645.7 152.2L645.7 151.1L645.8 150.9L645.9 149.8L645.9 149.2L646.0 148.6L646.1 148.1L646.1 147.6L646.2 146.3L646.3 146.3L646.3 145.1L646.4 144.5L646.5 144.2L646.5 143.6L646.6 142.9L646.7 142.4L646.8 141.0L646.8 140.3L646.9 139.9L647.0 138.7L647.1 137.9L647.2 137.2L647.3 136.9L647.3 136.2L647.4 135.4L647.5 134.8L647.6 133.9L647.7 132.8L647.7 132.0L647.8 131.7L647.9 130.3L648.0 130.1L648.1 128.9L648.2 128.2L648.3 127.9L648.3 126.8L648.4 126.8L648.5 126.1L648.6 125.0L648.7 124.1L648.8 123.4L648.9 123.1L649.0 122.4L649.1 121.6L649.2 121.3L649.3 120.5L649.4 120.1L649.5 118.9L649.6 118.2L649.7 117.9L649.8 117.2L650.0 116.1L650.1 115.7L650.3 114.4L650.4 113.7L650.6 113.0L650.8 112.4L650.9 111.7L651.1 110.5L651.2 109.8L651.4 109.5L651.6 108.8L651.7 107.9L651.9 106.8L652.1 106.5L652.3 106.1L652.4 105.3L652.6 104.6L652.8 105.0L653.3 104.0L653.9 102.5L654.4 102.6L654.7 102.9L655.0 102.9L655.3 103.3L655.7 104.6L656.0 105.4L656.3 105.9L656.6 106.5L656.9 107.6L657.1 107.9L657.2 109.2L657.4 108.9L657.5 109.8L657.7 110.8L657.8 110.9L658.0 111.6L658.1 112.2L658.2 113.0L658.4 114.1L658.5 115.1L658.6 115.3L658.8 116.0L658.9 117.3L659.0 117.8L659.1 118.5L659.3 119.1L659.4 120.0L659.5 121.5L659.6 121.5L659.8 122.4L659.9 123.6L660.0 124.6L660.1 125.2L660.2 125.5L660.3 126.6L660.4 126.9L660.5 127.3L660.6 128.2L660.7 129.1L660.8 129.8L660.9 130.0L661.0 130.7L661.1 132.1L661.2 132.0L661.3 133.4L661.4 133.7L661.4 134.3L661.5 135.0L661.6 136.0L661.7 137.1L661.8 137.1L661.9 138.5L662.0 138.7L662.1 139.3L662.2 140.6L662.3 140.9L662.4 141.5L662.5 142.5L662.6 143.6L662.7 144.3L662.8 144.8L662.9 145.0L663.0 146.4L663.1 147.0L663.2 148.0L663.3 148.7L663.4 148.8L663.5 150.0L663.6 150.7L663.7 150.9L663.9 151.7L664.0 152.4L664.1 153.1L664.2 153.9L664.3 154.4L664.4 155.2L664.5 156.5L664.6 156.8L664.8 157.7L664.9 158.7L665.0 159.3L665.1 159.5L665.2 160.9L665.4 161.5L665.5 162.4L665.6 162.9L665.7 163.6L665.8 164.4L666.0 164.6L666.1 165.6L666.2 166.1L666.3 167.2L666.4 167.2L666.6 168.3L666.7 168.8L666.8 169.9L666.9 170.1L667.1 171.3L667.2 171.9L667.3 172.7L667.5 172.8L667.6 174.2L667.8 174.8L667.9 175.4L668.1 176.1L668.2 176.3L668.3 177.8L668.5 178.2L668.6 178.8L668.8 179.4L668.9 180.5L669.1 181.2L669.2 182.0L669.4 182.1L669.5 182.9L669.7 183.5L669.8 184.0L670.0 184.9L670.1 185.3L670.3 186.7L670.5 186.8L670.6 187.3L670.8 187.9L671.0 189.2L671.1 189.3L671.3 190.2L671.5 190.9L671.7 192.0L671.9 192.8L672.2 193.0L672.4 194.0L672.6 194.9L672.8 195.2L673.1 196.3L673.3 196.8L673.5 197.1L673.8 198.3L674.0 198.6L674.3 198.9L674.5 200.0L674.7 200.9L675.0 201.3L675.2 201.9L675.5 202.5L675.7 203.6L676.0 204.1L676.3 204.3L676.5 205.1L676.8 205.8L677.1 207.0L677.3 207.4L677.6 207.6L677.9 208.9L678.2 208.8L678.5 209.9L678.7 210.5L679.0 211.4L679.3 211.8L679.6 212.1L679.8 213.1L680.1 214.0L680.3 214.6L680.6 214.9L680.9 215.5L681.2 216.6L681.5 217.4L681.8 217.6L682.1 218.9L682.3 219.7L682.6 219.9L682.9 220.5L683.2 221.5L683.4 222.3L683.7 222.4L684.0 223.1L684.2 223.8L684.5 224.8L684.7 225.0L685.0 226.1L685.2 226.8L685.4 227.6L685.7 227.8L685.9 229.3L686.1 230.0L686.3 230.3L686.5 231.2L686.7 231.4L686.9 232.8L687.1 233.2L687.3 234.2L687.4 235.0L687.6 235.1L687.7 236.3L687.9 236.3L688.0 236.8L688.1 237.9L688.3 238.9L688.4 239.6L688.5 240.3L688.7 240.6L688.8 241.7L688.9 242.1L689.0 242.4L689.2 243.6L689.3 244.5L689.4 244.9L689.6 245.8L689.7 246.3L689.9 247.0L690.0 247.9L690.1 248.6L690.2 249.3L690.4 249.6L690.5 250.1L690.6 251.1L690.8 252.1L690.9 252.8L691.0 253.0L691.2 253.7L691.3 254.7L691.4 255.0L691.6 256.1L691.7 257.1L691.8 257.2L692.0 258.2L692.1 259.1L692.2 259.8L692.4 260.5L692.5 261.2L692.7 261.6L692.8 262.8L692.9 263.6L693.1 263.6L693.2 265.1L693.3 265.4L693.5 265.8L693.6 266.6L693.7 268.0L693.9 268.6L694.0 268.9L694.1 269.8L694.2 270.7L694.3 271.7L694.4 271.7L694.6 272.8L694.7 273.0L694.8 273.7L694.9 274.3L695.0 275.2L695.1 276.1L695.2 276.5L695.3 277.1L695.4 277.8L695.5 278.4L695.6 279.2L695.8 280.0L695.9 280.9L696.0 281.3L696.1 282.3L696.2 283.0L696.3 284.2L696.4 284.5L696.5 285.6L696.6 285.9L696.7 286.4L696.8 287.4L696.9 287.8L697.0 288.5L697.1 289.1L697.2 290.4L697.4 291.4L697.5 291.6L697.6 292.3L697.7 293.1L697.8 293.7L697.9 294.7L698.0 295.2L698.1 295.7L698.2 297.0L698.3 297.4L698.4 297.6L698.5 299.1L698.6 299.7L698.7 300.0L698.8 301.0L698.9 301.9L699.0 302.2L699.1 302.9L699.2 303.5L699.3 304.4L699.4 305.2L699.5 306.0L699.6 306.9L699.7 306.9L699.8 307.8L699.9 308.9L700.0 309.6L700.1 310.1L700.3 310.9L700.4 311.3L700.5 312.6L700.6 312.9L700.7 313.5L700.8 314.0L700.9 314.7L701.0 316.1L701.1 316.7L701.2 316.7L701.3 317.7L701.4 318.5L701.5 319.2L701.6 319.8L701.7 321.0L701.8 321.2L701.9 322.1L702.0 323.1L702.1 323.5L702.2 324.1L702.3 324.6L702.4 325.4L702.5 326.3L702.6 327.2L702.7 327.5L702.8 328.3L702.9 329.0L703.1 329.7L703.2 330.9L703.3 331.3L703.4 331.7L703.5 332.5L703.6 333.7L703.7 333.8L703.8 335.0L703.9 335.1L704.0 335.9L704.1 336.5L704.2 337.9L704.3 338.0L704.4 338.8L704.6 339.3L704.7 340.2L704.8 341.4L704.9 342.0L705.0 342.9L705.1 343.7L705.2 344.0L705.3 345.0L705.4 345.0L705.5 346.4L705.6 346.7L705.7 347.2L705.9 348.4L706.0 349.2L706.1 349.4L706.2 349.8L706.3 351.2L706.4 351.8L706.5 352.4L706.6 353.5L706.7 353.3L706.9 354.1L707.0 354.9L707.1 355.5L707.2 356.8L707.3 357.5L707.4 357.7L707.6 358.5L707.7 359.2L707.8 360.3L707.9 361.1L708.0 362.1L708.1 362.2L708.3 363.5L708.4 363.7L708.5 364.4L708.6 365.0L708.7 365.7L708.8 367.0L709.0 367.8L709.1 368.2L709.2 368.4L709.3 369.1L709.4 369.8L709.5 370.7L709.7 371.7L709.8 371.8L709.9 373.0L710.0 373.8L710.1 373.9L710.3 375.0L710.4 376.0L710.5 376.5L710.6 377.1L710.8 378.2L710.9 378.7L711.0 379.2L711.1 379.9L711.3 381.1L711.4 381.8L711.5 382.6L711.6 383.0L711.8 383.3L711.9 384.0L712.0 385.0L712.2 385.9L712.3 386.0L712.4 387.5L712.5 388.2L712.7 388.6L712.8 388.9L712.9 390.3L713.1 390.7L713.2 391.6L713.3 392.2L713.4 393.1L713.6 393.5L713.7 394.7L713.8 395.4L714.0 396.0L714.1 396.4L714.2 396.9L714.3 397.6L714.5 398.2L714.6 399.5L714.7 400.1L714.9 400.8L715.0 401.6L715.1 402.5L715.3 403.0L715.4 403.4L715.5 404.5L715.6 404.8L715.7 405.9L715.9 406.2L716.0 407.5L716.1 407.9L716.2 408.5L716.3 409.8L716.5 409.8L716.6 411.2L716.7 411.8L716.9 412.0L717.0 413.2L717.2 413.7L717.3 414.7L717.5 415.1L717.6 415.7L717.8 416.8L717.9 416.7L718.1 418.0L718.3 418.0L718.5 418.8L718.7 419.4L719.0 420.8L719.2 421.2L719.5 422.2L719.7 422.5L720.0 423.6L720.2 424.2L720.5 424.4L720.7 425.5L721.0 426.4L721.3 426.6L721.6 427.7L721.9 428.0L722.2 428.7L722.5 429.8L722.9 430.5L723.2 431.1L723.6 431.2L723.9 431.9L724.3 432.7L724.7 433.2L725.2 433.6L725.7 434.5L726.2 434.6L726.7 435.7L727.3 435.8L727.8 436.0L728.3 437.0L728.9 437.0L729.4 437.9L730.0 437.8L730.5 439.2L731.1 439.2L731.6 439.9L732.1 439.8L732.6 440.7L733.2 441.0L733.7 441.4L734.2 442.4L734.8 442.2L735.3 443.1L735.8 443.2L736.3 444.4L736.8 444.9L737.3 444.7L737.8 445.6L738.3 446.2L738.8 447.0L739.2 447.5L739.6 447.7L740.0 448.8L740.3 448.7L740.7 449.2L741.1 450.4L741.4 450.4L741.8 451.1L742.1 452.0L742.5 452.5L742.8 452.9L743.2 454.3L743.5 454.5L743.9 455.4L744.2 455.6L744.6 456.8L744.9 456.8L745.2 458.1L745.6 458.4L745.9 459.4L746.2 459.8L746.6 460.4L746.9 460.9L747.2 461.8L747.6 462.1L747.9 462.5L748.2 463.8L748.5 464.4L748.9 465.0L749.2 465.7L749.5 465.9L749.8 466.8L750.1 467.8L750.5 468.6L750.8 469.2L751.1 469.2L751.4 470.3L751.7 470.8L752.0 471.3L752.2 471.8L752.5 472.4L752.8 473.3L753.1 474.0L753.4 474.5L753.6 475.2L753.9 476.1L754.2 476.9L754.5 477.4L754.8 477.7L755.0 479.1L755.3 479.2L755.6 480.4L755.9 481.1L756.2 481.0L756.4 482.1L756.7 483.1L757.0 483.2L757.3 483.9L757.6 484.4L757.9 484.8L758.2 485.7L758.6 486.3L758.9 487.1L759.2 488.1L759.5 488.7L759.8 489.8L760.1 490.2L760.5 490.6L760.8 491.8L761.1 492.1L761.5 492.7L761.8 493.6L762.1 494.1L762.5 494.4L762.8 495.2L763.1 495.5L763.5 496.7L763.9 496.7L764.3 498.0L764.8 497.9L765.2 498.4L765.6 499.5L766.1 499.8L766.5 500.7L766.9 500.9L767.4 502.2L767.8 502.6L768.3 503.1L768.8 503.9L769.2 504.4L769.7 504.7L770.2 505.3L770.8 505.2L771.3 505.8L771.9 506.7L772.5 507.7L773.0 507.6L773.6 508.3L774.2 508.2L774.8 509.0L775.3 509.8L775.9 509.8L776.6 510.3L777.4 509.9L778.2 510.3L778.9 510.5L779.7 511.2L780.4 510.5L781.0 511.1L781.6 510.1L782.0 510.0L782.5 508.8L782.9 507.8L783.3 507.7L783.7 506.7L784.1 506.8L784.4 506.4L784.7 507.6L784.9 508.4L785.2 508.4L785.4 509.9L785.7 510.5L785.9 511.4L786.1 512.5L786.4 513.6L786.6 514.6L786.9 515.0L787.2 515.2L787.6 514.8L788.0 514.3L788.3 513.1L788.7 512.8L789.2 511.9L789.7 511.0L790.3 511.1L790.9 510.3L791.5 510.1L792.2 510.2L792.9 510.3L793.7 510.8L794.5 511.2L795.3 510.8L796.1 511.3L797.0 511.6L797.8 511.7L798.6 511.7L799.3 511.9L800.0 511.5L800.7 511.6L801.5 512.0L802.2 511.9L802.9 512.5L803.7 512.1L804.4 512.7L805.2 512.2L805.9 512.2L806.7 512.6L807.4 512.6L808.2 512.6L808.9 513.0L809.6 512.6L810.4 513.1L811.1 513.4L811.8 513.1L812.6 513.2L813.3 513.7L814.0 513.5L814.8 513.2L815.5 513.2L816.3 513.3L817.0 513.6L817.7 513.4L818.5 513.9L819.2 513.7L819.9 513.6L820.7 513.8L821.4 514.1L822.1 513.5L822.9 513.3L823.6 513.4L824.4 513.3L825.1 513.8L825.8 513.5L826.6 513.2L827.3 512.8L828.0 512.6L828.8 512.6L829.5 513.1L830.2 512.8L830.9 512.3L831.6 512.5L832.3 511.9L832.9 512.1L833.6 511.8L834.3 511.5L835.0 511.9L835.7 511.7L836.4 511.4L837.1 510.9L837.7 511.2L838.4 510.9L839.1 511.0L839.8 510.3L840.5 511.0L841.3 510.0L842.0 510.2L842.7 510.2L843.5 510.0L844.2 509.8L845.0 510.3L845.7 510.5L846.4 509.8L847.2 509.7L847.9 510.0L848.6 509.6L849.3 509.7L850.0 509.9L850.8 509.6L851.5 509.3L852.3 509.2L853.1 509.7L853.8 510.1L854.5 510.0L855.3 509.2L856.0 509.6L856.7 509.5L857.5 509.1L858.2 509.5L858.9 509.2L859.6 509.3L860.3 508.7L861.0 509.0L861.7 508.7L862.4 508.2L863.1 507.7L863.8 507.7L864.5 507.1L865.1 507.4L865.8 507.1L866.5 506.7L867.2 506.7L867.8 505.5L868.4 505.8L869.1 505.5L869.7 504.5L870.3 504.3L871.0 503.6L871.6 503.7L872.2 503.4L872.8 502.6L873.5 502.5L874.1 501.7L874.7 501.6L875.3 500.8L875.8 501.0L876.4 500.0L877.0 499.2L877.5 498.8L878.1 498.9L878.6 498.5L879.2 497.8L879.7 496.9L880.3 497.1L880.8 496.4L881.4 495.4L881.9 495.1L882.5 494.9L883.0 493.8L883.5 493.3L884.0 493.1L884.5 493.0L885.0 492.6L885.5 491.5L886.0 491.5L886.5 490.9L887.0 490.4L887.5 489.6L888.0 489.4L888.5 488.6L889.0 488.4L889.6 487.5L890.1 486.7L890.6 486.5L891.2 486.0L891.8 485.4L892.3 485.0L892.9 484.6L893.5 484.3L894.1 483.5L894.7 483.1L895.3 482.9L895.9 482.5L896.5 482.0L897.1 481.8L897.8 480.9L898.4 480.8L899.0 480.2L899.6 480.2L900.3 479.8L900.9 479.5L901.5 478.8L902.1 478.2L902.7 478.4L903.3 477.7L903.9 477.2L904.5 476.7L905.2 476.5L905.8 476.4L906.4 476.1L907.0 475.5L907.6 475.3L908.2 474.5L908.8 474.4L909.5 473.9L910.1 473.5L910.7 473.2L911.3 473.2L911.9 472.8L912.5 472.0L913.1 471.6L913.7 471.8L914.3 471.3L914.9 470.9L915.5 470.5L916.1 470.2L916.8 469.5L917.4 468.9L918.0 468.8L918.6 468.2L919.2 468.6L919.8 467.9L920.4 467.6L921.0 467.5L921.6 467.0L922.2 466.2L922.8 465.9L923.4 465.3L924.0 465.6L924.6 465.2L925.2 464.6L925.9 464.2L926.5 463.7L927.1 463.6L927.7 463.4L928.3 463.2L928.9 462.8L929.5 462.5L930.1 461.7L930.7 461.3L931.3 460.8L931.9 461.0L932.5 459.9L933.1 459.5L933.7 459.2L934.2 459.3L934.8 458.8L935.4 457.9L936.0 457.9L936.5 457.5L937.1 456.6L937.7 455.9L938.3 456.0L938.8 455.2L939.4 454.5L940.0 454.7L940.5 453.8L941.1 453.3L941.7 453.0L942.2 452.2L942.8 451.6L943.4 451.4L943.9 451.0L944.5 450.2L945.1 450.0L945.6 449.9L946.2 449.0L946.8 448.9L947.4 448.3L947.9 447.5L948.5 446.8L949.1 447.0L949.6 446.4L950.2 445.7L950.8 445.2L951.4 445.3L951.9 444.9L952.5 443.9L953.1 443.8L953.7 443.4L954.3 442.7L954.9 442.1L955.5 441.9L956.1 441.8L956.7 441.4L957.3 440.9L957.9 440.2L958.5 439.9L959.1 439.7L959.7 439.4L960.3 439.0L960.9 439.2L961.6 438.1L962.2 438.6L962.8 437.6L963.4 437.8L964.1 436.9L964.8 436.9L965.4 436.4L966.1 435.8L966.8 436.1L967.5 435.9L968.2 435.1L968.9 435.2L969.6 434.7L970.3 434.9L971.0 433.8L971.7 433.9L972.4 433.5L973.0 433.7L973.7 433.7L974.5 433.5L975.3 433.2L976.1 432.9L976.8 433.2L977.6 432.6L978.4 432.7L979.1 433.1L979.9 432.7L980.6 433.1L981.3 432.2L982.0 432.4L982.7 431.9L983.4 431.4L984.1 431.1L984.8 430.7L985.4 430.6L986.1 430.2L986.7 429.9L987.4 429.4L988.1 429.5L988.8 429.0L989.5 429.2L990.2 428.1L990.9 428.2L991.6 427.9L992.3 427.6L993.0 427.9L993.6 427.3L994.3 427.9L994.9 427.6L995.5 427.8L996.2 428.4L996.8 428.7L997.4 428.8L998.0 429.1L998.6 430.4L999.2 430.3L999.7 430.6L1000.3 431.6L1000.8 432.0L1001.2 432.3L1001.7 432.8L1002.1 433.8L1002.5 433.9L1002.9 434.6L1003.4 435.6L1003.8 435.7L1004.2 436.3L1004.7 436.7L1005.1 437.7L1005.5 438.3L1006.0 438.7L1006.5 439.2L1007.0 439.6L1007.5 440.6L1008.0 440.9L1008.5 441.8L1009.0 441.9L1009.6 442.7L1010.1 442.6L1010.6 443.3L1011.2 444.5L1011.7 444.8L1012.3 445.3L1012.9 445.6L1013.4 446.1L1014.0 446.3L1014.6 446.7L1015.2 447.6L1015.8 448.0L1016.4 448.0L1017.0 448.8L1017.6 448.7L1018.2 449.5L1018.8 449.5L1019.5 450.2L1020.1 450.3L1020.7 450.9L1021.4 450.8L1022.0 451.4L1022.7 451.8L1023.3 451.6L1024.0 452.0L1024.7 452.6L1025.4 452.7L1026.1 452.9L1026.8 453.2L1027.5 453.1L1028.2 452.9L1028.9 453.2L1029.6 453.6L1030.4 453.5L1031.1 453.7L1031.8 453.4L1032.5 453.6L1033.3 454.1L1034.0 454.1L1034.7 454.0L1035.4 453.6L1036.1 454.1L1036.8 453.6L1037.5 454.5L1038.2 454.6L1038.9 454.4L1039.6 454.0L1040.3 454.6L1041.0 454.0L1041.7 454.7L1042.4 454.5L1043.1 454.1L1043.8 455.0L1044.5 454.6L1045.2 455.1L1045.9 455.1L1046.6 455.0L1047.3 455.4L1048.0 455.0L1048.7 455.7L1049.4 455.3L1050.1 455.2L1050.8 455.6L1051.5 455.5L1052.2 455.7L1052.9 456.3L1053.6 456.1L1054.3 456.3L1055.0 456.6L1055.7 456.8L1056.4 457.6L1057.0 457.8L1057.7 458.1L1058.4 458.4L1059.0 458.2L1059.7 458.8L1060.4 458.6L1061.0 459.5L1061.7 459.7L1062.3 459.9L1063.0 459.8L1063.7 459.9L1064.3 461.0L1065.0 460.9L1065.7 461.3L1066.3 461.8L1067.0 461.5L1067.6 462.3L1068.3 462.4L1068.9 463.0L1069.6 463.0L1070.3 463.1L1070.9 464.1L1071.6 463.8L1072.2 464.5L1072.9 464.9L1073.5 464.7L1074.2 465.5L1074.9 465.6L1075.5 465.8L1076.1 466.1L1076.7 467.1L1077.4 466.9L1078.0 467.4L1078.6 467.8L1079.2 467.7L1079.9 468.8L1080.5 469.1L1081.1 469.6L1081.7 469.5L1082.3 469.8L1082.9 470.3L1083.6 471.0L1084.2 471.3L1084.8 471.5L1085.4 472.0L1086.0 472.0L1086.6 473.1L1087.3 473.0L1087.9 473.5L1088.5 474.1L1089.1 474.0L1089.7 474.8L1090.3 474.9L1091.0 475.7L1091.6 475.4L1092.2 476.0L1092.8 476.7L1093.4 476.9L1094.1 477.1L1094.7 477.7L1095.4 477.6L1096.0 478.1L1096.7 478.0L1097.4 479.1L1098.1 478.8L1098.7 479.6L1099.4 479.7L1100.1 480.0L1100.9 480.2L1101.6 480.0L1102.3 480.8L1103.0 480.6L1103.7 481.3L1104.4 481.4L1105.1 481.4L1105.8 481.7L1106.5 481.4L1107.2 481.8L1107.9 482.1L1108.6 481.4L1109.4 481.4L1110.1 481.7L1110.8 481.8L1111.5 481.4L1112.2 481.5L1112.9 482.0L1113.6 481.6L1114.3 481.3L1115.1 481.3L1115.8 481.5L1116.5 481.1L1117.2 481.3L1117.9 481.3L1118.6 481.1L1119.3 481.0L1120.0 481.2L1120.7 480.3L1121.4 481.0L1122.1 480.2L1122.8 479.9L1123.5 480.4L1124.2 480.0L1124.9 479.8L1125.6 479.4L1126.3 479.8L1127.0 479.2L1127.7 479.5L1128.4 478.9L1129.1 479.1L1129.8 479.0L1130.5 478.7L1131.2 478.6L1131.9 478.1L1132.7 478.5L1133.4 478.5L1134.1 477.9L1134.8 478.1L1135.5 478.2L1136.1 477.5L1136.8 478.1L1137.5 478.0L1138.3 477.2L1139.0 477.3L1139.8 477.1L1140.5 477.1L1141.2 476.9L1142.0 477.2L1142.7 476.9L1143.4 476.9L1144.2 477.0L1144.9 476.9L1145.6 477.3L1146.4 477.3L1147.1 476.8L1147.7 477.0L1148.4 476.9L1149.1 477.3L1149.8 477.3L1150.5 478.0L1151.2 478.2L1151.8 478.6L1152.5 478.0L1153.2 478.1L1153.9 478.9L1154.6 478.7L1155.3 479.3L1156.0 479.0L1156.7 479.0L1157.4 478.9L1158.2 479.8L1158.9 479.6L1159.6 479.6L1160.4 479.7L1161.1 480.1L1161.9 480.3L1162.6 480.0L1163.3 479.9L1164.1 480.1L1164.8 480.6L1165.5 480.2L1166.3 480.4L1167.0 480.3L1167.7 480.1L1168.4 480.1L1169.1 479.7L1169.8 479.9L1170.5 480.0L1171.1 479.2L1171.8 479.3L1172.5 479.5L1173.2 479.4L1173.9 478.4L1174.6 478.7L1175.3 478.5L1175.9 478.5L1176.6 477.9L1177.3 477.4L1178.0 477.3L1178.6 477.4L1179.2 477.1L1179.9 476.4L1180.5 476.5L1181.2 476.2L1181.8 475.9L1182.5 475.0L1183.1 475.0L1183.7 474.6L1184.4 474.5L1185.0 474.0L1185.7 473.5L1186.3 473.7L1186.9 473.1L1187.6 473.3L1188.3 472.6L1189.0 472.5L1189.7 472.5L1190.4 471.6L1191.0 472.0L1191.7 471.1L1192.4 471.7L1193.1 470.6L1193.8 471.1L1194.5 470.6L1195.2 470.2L1195.9 470.2L1196.6 470.2L1197.2 469.9L1197.9 469.6L1198.7 469.8L1199.4 469.5L1200.2 470.0L1200.9 469.4L1201.7 469.4L1202.4 469.1L1203.2 469.8L1203.9 469.2L1204.7 469.5L1205.4 469.7L1206.2 469.4L1206.9 469.8L1207.5 469.5L1208.2 469.4L1208.9 469.5L1209.6 470.0L1210.3 470.5L1211.0 470.1L1211.7 470.5L1212.4 470.9L1213.1 470.7L1213.8 470.8L1214.4 471.3L1215.1 471.5L1215.8 472.2L1216.5 472.4L1217.2 472.0L1217.8 472.5L1218.4 472.7L1219.1 472.6L1219.7 473.3L1220.4 474.0L1221.0 473.8L1221.7 474.4L1222.3 474.8L1222.9 474.5L1223.6 475.6L1224.2 475.2L1224.9 475.7L1225.5 476.3L1226.2 476.0L1226.8 476.6L1227.5 476.6L1228.2 477.2L1228.8 477.1L1229.5 477.5L1230.2 477.8L1230.9 477.9L1231.6 478.2L1232.3 478.5L1233.0 479.0L1233.6 478.9L1234.3 479.8L1235.0 479.6L1235.7 479.6L1236.4 479.8L1237.1 480.5L1237.8 479.9L1238.6 480.7L1239.3 480.2L1240.0 481.1L1240.8 480.7L1241.5 481.0L1242.2 481.3L1243.0 480.7L1243.7 480.7L1244.4 481.3L1245.2 481.2L1245.9 481.4L1246.7 481.0L1247.4 481.2L1248.1 480.9L1248.9 481.1L1249.6 480.9L1250.3 481.2L1251.1 480.9L1251.8 480.8L1252.6 481.0L1253.3 480.4L1254.0 481.0L1254.8 480.6L1255.5 480.3L1256.2 480.1L1257.0 480.3L1257.7 480.2L1258.4 480.3L1259.1 479.9L1259.8 479.8L1260.5 480.1L1261.1 479.4L1261.8 479.9L1262.5 479.6L1263.2 479.6L1263.9 479.4L1264.6 478.6L1265.3 479.0L1265.9 478.6L1266.6 478.1L1267.3 478.7L1268.0 478.2L1268.7 478.2L1269.4 477.9L1270.1 477.3L1270.8 477.9L1271.5 477.2L1272.2 477.1L1272.9 477.3L1273.5 476.8L1274.2 476.9L1274.9 477.0L1275.6 476.3L1276.3 476.7L1277.0 476.0L1277.7 476.2L1278.4 476.2L1279.1 476.1L1279.8 475.4L1280.5 475.3L1281.3 475.8L1282.0 475.1L1282.7 475.0L1283.5 474.7L1284.2 474.8L1284.9 474.7L1285.6 474.4L1286.3 474.1L1286.9 474.0L1287.6 473.9L1288.1 473.4L1288.7 474.0L1289.6 473.9L1290.5 473.6L1291.2 473.6L1292.0 473.1L1292.8 473.3" fill="none" stroke="#49597b" stroke-width="3.7" stroke-linejoin="round" stroke-linecap="butt"/>
<path d="M309.9 742.8L319.0 761.8L319.4 741.0L319.6 690.0L322.0 660.0L324.1 634.4L327.5 659.2L328.8 613.6L330.6 560.0L330.6 560.0L330.6 559.3L330.6 558.6L330.6 557.9L330.7 557.2L330.7 556.5L330.7 555.8L330.7 555.1L330.7 554.4L330.7 553.7L330.7 553.0L330.7 552.3L330.7 551.6L330.8 550.9L330.8 550.2L330.8 549.5L330.8 548.8L330.8 548.1L330.8 547.4L330.8 546.7L330.8 546.0L330.9 545.3L330.9 544.6L330.9 544.0L330.9 543.3L330.9 542.6L330.9 541.9L330.9 541.2L330.9 540.5L330.9 539.8L331.0 539.1L331.0 538.4L331.0 537.7L331.0 537.0L331.0 536.3L331.0 535.7L331.0 535.0L331.0 534.3L331.0 533.6L331.1 532.9L331.1 532.2L331.1 531.5L331.1 530.8L331.1 530.1L331.1 529.4L331.1 528.7L331.1 528.0L331.1 527.3L331.2 526.6L331.2 525.9L331.2 525.2L331.2 524.5L331.2 523.8L331.2 523.1L331.2 522.4L331.2 521.7L331.3 521.0L331.3 520.3L331.3 519.6L331.3 518.9L331.3 518.2L331.3 517.5L331.3 516.8L331.4 516.0L331.4 515.3L331.4 514.6L331.4 513.9L331.4 513.2L331.4 512.5L331.4 511.7L331.5 511.0L331.5 510.3L331.5 509.6L331.5 508.8L331.5 508.1L331.5 507.4L331.5 506.7L331.6 505.9L331.6 505.2L331.6 504.5L331.6 503.7L331.6 503.0L331.6 502.2L331.7 501.5L331.7 500.7L331.7 500.0L331.7 499.3L331.7 498.7L331.7 498.0L331.8 497.3L331.8 496.7L331.8 496.0L331.8 495.3L331.8 494.6L331.8 493.9L331.9 493.3L331.9 492.6L331.9 491.9L331.9 491.2L331.9 490.5L331.9 489.8L332.0 489.1L332.0 488.4L332.0 487.7L332.0 487.0L332.0 486.2L332.0 485.5L332.1 484.8L332.1 484.1L332.1 483.4L332.1 482.6L332.1 481.9L332.1 481.2L332.2 480.5L332.2 479.7L332.2 479.0L332.2 478.3L332.2 477.6L332.2 476.8L332.3 476.1L332.3 475.4L332.3 474.6L332.3 473.9L332.3 473.2L332.3 472.4L332.4 471.7L332.4 470.9L332.4 470.2L332.4 469.5L332.4 468.7L332.5 468.0L332.5 467.2L332.5 466.5L332.5 465.8L332.5 465.0L332.6 464.3L332.6 463.5L332.6 462.8L332.6 462.1L332.6 461.3L332.7 460.6L332.7 459.9L332.7 459.1L332.7 458.4L332.7 457.6L332.8 456.9L332.8 456.2L332.8 455.5L332.8 454.7L332.8 454.0L332.9 453.3L332.9 452.5L332.9 451.8L332.9 451.1L332.9 450.4L333.0 449.7L333.0 448.9L333.0 448.2L333.0 447.5L333.1 446.8L333.1 446.1L333.1 445.4L333.1 444.7L333.2 444.0L333.2 443.3L333.2 442.6L333.2 441.9L333.2 441.2L333.3 440.5L333.3 439.8L333.3 439.1L333.4 438.4L333.4 437.7L333.4 437.1L333.4 436.4L333.5 435.7L333.5 435.1L333.5 434.4L333.5 433.7L333.6 433.1L333.6 432.4L333.6 431.8L333.6 431.1L333.7 430.5L333.7 429.8L333.7 429.2L333.8 428.6L333.8 428.0L333.8 427.3L333.8 426.7L333.9 426.1L333.9 425.5L333.9 424.9L334.0 424.3L334.0 423.7L334.0 422.9L334.1 422.1L334.1 421.3L334.2 420.5L334.2 419.8L334.3 419.0L334.3 418.2L334.4 417.5L334.4 416.7L334.5 416.0L334.5 415.2L334.6 414.5L334.6 413.8L334.7 413.1L334.7 412.3L334.8 411.6L334.8 410.9L334.9 410.2L334.9 409.5L335.0 408.8L335.0 408.1L335.1 407.4L335.1 406.7L335.2 406.0L335.2 405.4L335.3 404.7L335.3 404.0L335.4 403.3L335.4 402.6L335.5 402.0L335.6 401.3L335.6 400.6L335.7 400.0L335.7 399.3L335.8 398.6L335.8 398.0L335.9 397.3L335.9 396.7L336.0 396.0L336.1 395.3L336.1 394.7L336.2 394.0L336.2 393.3L336.3 392.7L336.3 392.0L336.4 391.3L336.5 390.7L336.5 390.0L336.6 389.3L336.6 388.7L336.7 388.0L336.7 387.3L336.8 386.6L336.8 386.0L336.9 385.3L336.9 384.6L337.0 383.9L337.0 383.2L337.1 382.5L337.2 381.8L337.2 381.1L337.3 380.4L337.3 379.7L337.3 378.9L337.4 378.2L337.4 377.5L337.5 376.8L337.5 376.0L337.6 375.3L337.6 374.5L337.7 373.8L337.7 373.0L337.7 372.3L337.8 371.5L337.8 370.8L337.9 370.0L337.9 369.3L338.0 368.5L338.0 367.8L338.0 367.0L338.1 366.3L338.1 365.5L338.2 364.8L338.2 364.0L338.2 363.3L338.3 362.5L338.3 361.8L338.4 361.0L338.4 360.3L338.5 359.6L338.5 358.8L338.6 358.1L338.6 357.4L338.7 356.6L338.7 355.9L338.7 355.2L338.8 354.5L338.9 353.8L338.9 353.1L339.0 352.4L339.0 351.7L339.1 351.0L339.1 350.4L339.2 349.7L339.2 349.0L339.3 348.4L339.4 347.7L339.4 347.1L339.5 346.5L339.6 345.8L339.6 345.2L339.7 344.6L339.8 344.0L339.9 343.4L340.0 342.9L340.0 342.3L340.1 341.7L340.2 341.2L340.3 340.4L340.5 339.5L340.6 338.7L340.8 337.9L340.9 337.2L341.1 336.4L341.2 335.7L341.4 334.9L341.5 334.2L341.7 333.5L341.9 332.8L342.1 332.1L342.2 331.5L342.4 330.8L342.6 330.2L342.8 329.5L342.9 328.9L343.1 328.3L343.3 327.7L343.5 327.1L343.7 326.5L343.9 325.9L344.1 325.3L344.3 324.7L344.6 323.9L344.8 323.1L345.1 322.5L345.4 321.6L345.6 320.9L345.9 320.0L346.2 319.3L346.5 318.1L346.8 317.8L347.1 317.0L347.4 316.3L347.8 315.9L348.1 315.9L348.5 315.8L349.1 315.8L349.8 315.9L350.5 316.0L351.2 316.5L351.9 317.3L352.6 317.3L353.3 317.4L354.0 317.2L354.7 317.1L355.4 317.4L356.1 316.7L356.7 316.8L357.1 316.0L357.5 316.0L357.8 315.0L358.2 314.4L358.5 313.9L358.8 312.9L359.2 312.5L359.5 311.8L359.8 310.7L360.1 310.7L360.5 309.6L360.8 308.6L361.2 308.7L361.5 307.5L361.9 307.0L362.4 306.2L362.9 305.5L363.4 305.3L363.9 304.5L364.4 303.8L364.9 303.0L365.5 302.5L366.0 302.7L366.5 302.0L367.0 302.4L367.5 302.4L368.0 302.1L368.4 303.0L368.9 302.9L369.4 304.0L369.8 304.8L370.3 305.4L370.8 306.0L371.2 307.0L371.7 307.2L372.2 308.2L372.6 308.5L372.9 309.2L373.2 309.6L373.6 310.6L373.9 311.0L374.3 311.8L374.6 312.3L375.0 312.9L375.3 313.8L375.7 314.4L376.0 314.8L376.4 315.3L376.7 316.4L377.1 316.7L377.5 317.1L377.8 317.9L378.2 318.9L378.6 319.7L379.0 320.1L379.4 320.7L379.8 321.5L380.2 322.0L380.6 322.2L381.0 322.8L381.4 323.6L381.9 323.8L382.3 324.1L382.7 325.1L383.2 325.8L383.6 325.9L384.1 326.8L384.5 327.5L384.9 327.4L385.4 328.0L385.8 328.8L386.3 329.2L386.7 330.3L387.1 330.9L387.5 331.1L387.9 332.0L388.3 332.5L388.7 332.7L389.0 334.0L389.4 333.9L389.7 334.4L390.0 335.3L390.4 335.6L390.7 336.6L391.0 337.1L391.3 338.2L391.7 338.4L392.0 339.4L392.3 340.0L392.6 340.4L392.9 340.8L393.2 341.5L393.5 342.4L393.8 342.9L394.1 343.8L394.3 344.4L394.6 344.9L394.9 345.9L395.2 346.9L395.4 346.9L395.7 347.7L395.9 348.2L396.2 349.0L396.4 349.7L396.7 350.7L396.9 351.8L397.1 352.3L397.3 353.1L397.5 353.6L397.6 354.1L397.8 354.7L398.0 354.9L398.1 355.8L398.3 356.4L398.4 357.3L398.6 357.5L398.7 358.6L398.8 359.1L399.0 359.9L399.1 360.5L399.2 360.9L399.4 362.1L399.5 362.8L399.6 363.4L399.7 363.7L399.8 364.7L400.0 365.7L400.1 366.4L400.2 367.0L400.3 367.1L400.4 368.5L400.5 369.0L400.6 369.4L400.7 370.7L400.9 371.3L401.0 372.1L401.1 372.3L401.2 373.3L401.3 373.9L401.4 374.5L401.5 375.6L401.6 376.3L401.8 376.8L401.9 377.7L402.0 378.7L402.1 379.1L402.2 380.0L402.3 380.4L402.4 381.4L402.5 381.3L402.6 382.3L402.7 383.0L402.8 383.9L402.9 384.7L403.0 385.1L403.1 385.7L403.2 386.5L403.3 387.1L403.4 387.9L403.5 388.8L403.6 388.8L403.7 389.7L403.8 390.9L403.9 390.9L404.0 392.2L404.1 392.3L404.2 393.5L404.3 394.3L404.4 394.6L404.4 395.4L404.5 396.0L404.6 397.1L404.7 397.7L404.8 398.4L404.9 398.9L405.0 399.9L405.1 400.9L405.2 401.5L405.3 402.3L405.4 402.5L405.5 403.4L405.6 404.0L405.7 404.7L405.8 405.8L405.9 406.0L406.0 407.0L406.1 407.9L406.2 408.8L406.3 408.7L406.4 409.7L406.5 410.6L406.6 411.6L406.7 411.7L406.8 413.0L406.9 413.3L407.0 414.1L407.1 415.1L407.2 415.2L407.3 416.1L407.4 416.6L407.5 417.3L407.6 418.2L407.7 419.2L407.9 419.8L408.0 420.1L408.1 421.4L408.2 421.9L408.3 422.3L408.4 423.6L408.5 424.3L408.7 424.5L408.8 425.8L408.9 426.4L409.0 426.7L409.1 427.2L409.2 428.6L409.4 429.3L409.5 429.5L409.6 430.7L409.7 431.4L409.8 432.0L409.9 432.9L410.1 433.8L410.2 433.9L410.3 435.1L410.4 435.8L410.5 436.1L410.7 437.1L410.8 437.8L410.9 438.6L411.0 439.1L411.1 439.6L411.3 440.3L411.4 441.2L411.5 441.6L411.6 442.8L411.7 443.5L411.9 443.7L412.0 444.8L412.1 445.4L412.2 445.7L412.3 446.9L412.5 447.5L412.6 447.8L412.7 448.4L412.8 449.2L412.9 450.2L413.1 450.6L413.2 451.6L413.3 451.7L413.4 452.3L413.5 453.2L413.7 454.4L413.8 454.6L413.9 455.3L414.1 456.6L414.2 456.8L414.4 458.0L414.5 458.3L414.6 459.1L414.8 460.2L414.9 461.1L415.0 461.4L415.2 462.2L415.3 462.6L415.4 463.5L415.6 464.2L415.7 465.3L415.8 466.0L416.0 466.7L416.1 467.2L416.3 468.0L416.4 468.3L416.5 469.2L416.7 469.8L416.8 470.5L416.9 471.5L417.1 471.8L417.2 472.6L417.3 473.2L417.5 474.3L417.6 474.8L417.8 475.4L417.9 476.0L418.0 477.1L418.2 477.8L418.3 478.0L418.5 478.8L418.6 479.7L418.8 479.9L418.9 480.7L419.1 481.3L419.2 482.3L419.4 483.2L419.5 483.4L419.7 484.3L419.9 485.4L420.0 485.7L420.2 486.3L420.3 487.3L420.5 488.0L420.7 488.3L420.8 488.8L421.0 489.8L421.1 490.6L421.3 491.4L421.5 491.9L421.6 492.3L421.8 493.1L422.0 493.6L422.1 494.5L422.3 495.2L422.5 496.3L422.6 497.0L422.8 497.7L423.0 498.1L423.1 499.3L423.3 499.4L423.5 500.8L423.6 501.2L423.8 502.0L423.9 502.3L424.0 503.3L424.2 503.2L424.3 504.5L424.4 505.1L424.6 505.4L424.7 506.4L424.9 506.6L425.0 507.7L425.1 508.2L425.3 508.8L425.4 509.3L425.6 510.5L425.7 511.1L425.9 511.3L426.0 512.7L426.1 512.8L426.3 513.7L426.4 514.4L426.6 515.3L426.7 516.2L426.9 517.0L427.0 517.5L427.2 518.0L427.3 518.5L427.5 519.2L427.6 520.3L427.8 521.1L427.9 521.7L428.1 522.8L428.2 523.1L428.4 523.8L428.5 524.6L428.7 525.1L428.8 526.5L429.0 526.9L429.1 527.6L429.3 528.2L429.5 528.8L429.6 529.6L429.8 530.4L429.9 531.1L430.1 532.2L430.2 532.6L430.4 533.0L430.6 533.6L430.7 534.4L430.9 535.2L431.0 536.2L431.2 537.0L431.3 537.1L431.5 538.2L431.7 538.7L431.8 539.5L432.0 540.2L432.2 540.5L432.4 541.3L432.6 542.5L432.7 543.2L432.9 543.7L433.1 544.8L433.3 545.4L433.4 545.7L433.6 546.2L433.8 547.3L434.0 548.1L434.2 548.5L434.3 549.0L434.5 550.1L434.7 550.4L434.9 551.7L435.1 552.3L435.3 552.7L435.4 553.5L435.6 554.1L435.8 554.7L436.0 555.4L436.2 556.6L436.4 557.0L436.6 557.9L436.7 558.3L436.9 559.3L437.1 559.8L437.3 560.5L437.5 561.0L437.7 561.8L437.9 562.2L438.1 563.5L438.3 563.9L438.5 564.4L438.6 565.2L438.8 565.4L439.0 566.3L439.2 566.8L439.4 568.0L439.6 568.0L439.8 569.0L440.0 570.0L440.2 570.6L440.4 571.3L440.6 571.7L440.9 572.3L441.1 573.4L441.3 573.8L441.5 574.8L441.7 575.2L441.9 576.3L442.1 576.8L442.3 577.7L442.6 578.5L442.8 578.7L443.0 579.9L443.2 579.8L443.4 581.2L443.6 581.2L443.9 582.3L444.1 582.8L444.3 583.8L444.5 584.1L444.7 584.7L445.0 585.8L445.2 586.2L445.4 587.1L445.6 587.5L445.9 587.8L446.1 589.0L446.3 589.2L446.6 590.0L446.8 590.3L447.0 591.1L447.3 592.0L447.5 592.7L447.8 593.2L448.0 593.7L448.3 594.6L448.6 595.2L448.9 595.6L449.2 596.5L449.5 597.2L449.8 598.0L450.1 598.3L450.4 599.0L450.7 599.7L451.0 600.2L451.3 601.0L451.6 602.0L451.9 602.5L452.2 602.8L452.5 603.8L452.8 604.0L453.2 605.1L453.5 605.2L453.8 605.8L454.2 606.5L454.5 607.3L454.9 607.7L455.2 608.8L455.6 609.4L455.9 609.5L456.3 610.4L456.7 611.0L457.1 611.4L457.5 611.8L457.9 612.9L458.3 613.5L458.8 613.4L459.2 614.2L459.6 614.8L460.1 615.2L460.5 616.0L461.0 616.9L461.4 616.8L461.9 617.9L462.3 618.1L462.8 618.3L463.3 619.6L463.7 619.6L464.2 620.0L464.7 620.4L465.2 621.1L465.6 621.4L466.1 621.9L466.6 622.4L467.2 623.2L467.8 623.6L468.4 624.0L469.0 624.7L469.6 625.4L470.2 625.8L470.8 625.9L471.4 626.9L472.0 627.2L472.6 627.4L473.2 627.8L473.9 628.0L474.5 628.2L475.1 629.2L475.7 629.3L476.3 629.2L476.9 630.1L477.6 630.4L478.3 630.0L479.0 630.9L479.7 630.8L480.4 631.3L481.1 631.7L481.8 631.5L482.5 631.8L483.2 632.0L483.8 631.7L484.5 632.0L485.2 631.8L485.8 632.2L486.5 631.4L487.1 631.6L487.8 630.8L488.4 630.7L489.0 630.2L489.7 629.9L490.3 629.8L490.9 629.1L491.6 629.2L492.2 628.2L492.8 628.2L493.4 628.0L494.0 627.0L494.5 626.7L495.1 626.7L495.7 626.0L496.2 626.0L496.8 625.0L497.3 624.6L497.9 624.6L498.4 623.6L499.0 623.6L499.5 623.0L500.0 621.9L500.6 621.7L501.1 621.4L501.6 620.2L502.0 620.3L502.4 619.7L502.9 619.2L503.3 618.5L503.7 617.6L504.1 617.7L504.5 616.5L504.9 616.4L505.3 615.8L505.7 614.9L506.1 614.6L506.5 613.7L506.9 613.4L507.2 612.2L507.6 612.3L508.0 611.2L508.4 610.9L508.8 610.0L509.1 609.6L509.5 608.6L509.9 608.1L510.2 607.1L510.6 606.9L510.9 606.0L511.2 606.0L511.6 605.3L511.9 604.5L512.2 604.3L512.5 603.7L512.8 603.1L513.2 601.7L513.5 601.6L513.8 601.0L514.1 600.2L514.4 599.1L514.7 599.2L515.0 598.2L515.3 597.7L515.7 597.2L516.0 596.1L516.3 595.2L516.6 595.3L516.9 594.1L517.2 593.3L517.5 592.7L517.8 592.7L518.1 591.8L518.4 590.7L518.7 590.1L518.9 590.0L519.2 589.2L519.5 588.5L519.8 587.5L520.0 587.1L520.3 586.9L520.6 585.4L520.8 585.1L521.1 584.2L521.4 584.3L521.7 582.9L521.9 582.9L522.2 582.1L522.5 581.4L522.7 580.2L523.0 580.0L523.3 579.2L523.5 578.5L523.8 577.5L524.0 577.1L524.3 576.7L524.6 575.5L524.8 575.4L525.1 574.3L525.4 573.5L525.6 572.8L525.9 572.3L526.1 571.8L526.4 571.1L526.6 570.7L526.9 569.7L527.1 569.1L527.4 568.8L527.6 567.5L527.9 566.7L528.2 566.3L528.4 565.6L528.7 564.8L528.9 564.4L529.2 563.5L529.4 563.5L529.7 562.5L529.9 562.2L530.2 561.3L530.4 560.7L530.7 560.1L530.9 559.0L531.2 558.7L531.4 557.6L531.6 557.2L531.9 556.6L532.1 556.1L532.4 554.9L532.6 554.4L532.8 554.1L533.1 553.4L533.3 552.9L533.5 551.5L533.7 550.9L534.0 550.1L534.2 549.9L534.4 549.3L534.6 548.5L534.8 548.0L535.0 547.1L535.2 546.4L535.4 546.0L535.6 545.1L535.8 544.5L535.9 543.7L536.1 543.0L536.3 542.5L536.5 541.7L536.6 540.6L536.8 540.2L537.0 539.5L537.2 538.8L537.3 538.2L537.5 537.3L537.7 536.6L537.8 536.0L538.0 535.2L538.1 535.0L538.3 533.6L538.5 532.9L538.6 532.7L538.8 531.8L538.9 531.1L539.1 530.5L539.3 529.7L539.4 528.9L539.6 528.0L539.8 528.0L539.9 527.4L540.1 526.2L540.3 525.6L540.4 524.8L540.6 523.9L540.8 523.9L541.0 523.2L541.2 522.0L541.4 521.3L541.5 521.0L541.7 520.4L541.9 519.5L542.1 518.8L542.3 518.0L542.5 517.7L542.7 517.1L542.9 516.5L543.0 515.2L543.2 514.9L543.4 514.6L543.6 513.7L543.8 512.8L544.0 511.9L544.2 511.2L544.4 511.1L544.6 509.9L544.8 509.8L544.9 509.0L545.1 508.2L545.3 507.8L545.5 507.2L545.7 506.2L545.9 505.1L546.1 504.8L546.3 504.0L546.5 503.2L546.6 503.0L546.8 502.1L547.0 500.9L547.2 500.3L547.4 499.7L547.5 499.3L547.7 498.4L547.9 497.8L548.0 497.4L548.2 496.2L548.4 495.9L548.5 494.9L548.7 494.7L548.9 494.0L549.0 492.8L549.2 492.2L549.4 491.1L549.5 490.6L549.7 490.0L549.9 489.3L550.0 488.3L550.2 487.3L550.4 486.7L550.5 486.3L550.7 485.2L550.9 484.6L551.0 484.1L551.2 483.6L551.3 482.5L551.5 481.6L551.7 481.1L551.8 480.2L552.0 479.9L552.1 478.7L552.3 478.0L552.4 477.5L552.6 477.2L552.8 475.9L552.9 475.3L553.1 474.5L553.2 474.0L553.4 473.4L553.5 472.8L553.6 472.5L553.8 471.6L553.9 471.1L554.1 470.5L554.2 470.2L554.4 469.5L554.6 468.3L554.8 468.0L555.0 466.7L555.2 466.6L555.4 465.6L555.5 465.0L555.7 464.2L555.9 463.4L556.1 462.7L556.3 462.7L556.4 461.6L556.6 461.2L556.8 460.4L557.0 459.7L557.1 458.8L557.3 458.0L557.5 457.4L557.7 456.8L557.8 456.1L558.0 455.1L558.1 455.1L558.2 454.2L558.4 453.3L558.5 452.8L558.7 452.1L558.8 452.0L559.0 451.1L559.1 450.2L559.2 449.5L559.4 448.8L559.5 448.1L559.7 447.5L559.8 447.1L560.0 446.4L560.1 445.6L560.2 445.0L560.4 444.1L560.5 443.0L560.7 442.2L560.8 441.5L561.0 440.9L561.1 440.3L561.3 439.8L561.4 438.9L561.6 438.0L561.7 437.1L561.8 437.0L562.0 436.1L562.1 435.0L562.3 434.0L562.4 434.0L562.5 432.7L562.7 432.5L562.8 431.1L563.0 430.8L563.1 429.9L563.2 429.6L563.4 428.5L563.5 427.6L563.6 427.0L563.7 426.8L563.9 426.2L564.0 425.3L564.1 424.6L564.2 423.6L564.4 422.9L564.5 422.0L564.6 422.0L564.7 420.6L564.8 420.3L565.0 419.4L565.1 418.6L565.2 418.1L565.3 417.8L565.4 416.5L565.6 415.8L565.7 415.4L565.8 414.7L565.9 413.9L566.0 413.0L566.2 412.8L566.3 411.5L566.4 410.8L566.5 410.2L566.7 409.7L566.8 408.9L566.9 408.3L567.0 407.7L567.2 407.1L567.3 406.1L567.4 405.0L567.5 404.9L567.7 403.6L567.8 403.1L567.9 402.2L568.1 401.9L568.2 401.3L568.3 400.1L568.5 399.6L568.6 399.3L568.7 398.5L568.8 397.4L569.0 397.2L569.1 396.6L569.2 395.6L569.4 394.7L569.5 394.4L569.6 393.4L569.8 392.6L569.9 391.9L570.1 391.4L570.2 390.5L570.3 390.0L570.5 389.5L570.6 388.8L570.7 388.0L570.9 387.6L571.0 386.4L571.2 385.9L571.3 385.6L571.4 384.9L571.6 384.2L571.7 383.4L571.9 382.6L572.0 382.1L572.1 381.2L572.3 380.2L572.4 379.6L572.6 378.8L572.7 378.7L572.8 377.6L573.0 376.9L573.1 376.4L573.3 375.3L573.4 375.1L573.6 374.5L573.7 373.8L573.8 373.2L574.0 372.1L574.1 371.3L574.3 371.1L574.4 370.4L574.5 369.4L574.7 368.7L574.8 367.8L575.0 367.7L575.1 366.6L575.3 366.2L575.4 365.1L575.6 364.4L575.7 363.9L575.8 363.3L576.0 362.7L576.1 361.6L576.3 361.2L576.4 360.2L576.6 359.9L576.7 359.1L576.8 358.2L577.0 357.4L577.1 356.6L577.3 356.4L577.4 355.6L577.6 354.5L577.7 353.6L577.9 353.0L578.0 353.0L578.1 351.5L578.3 351.4L578.4 350.5L578.6 349.9L578.7 349.2L578.9 348.4L579.0 347.9L579.2 346.8L579.3 346.8L579.5 345.5L579.7 344.9L579.8 344.6L580.0 344.0L580.1 343.4L580.3 342.7L580.4 342.3L580.6 340.9L580.8 340.2L581.0 339.6L581.2 339.3L581.4 338.0L581.6 337.6L581.8 337.1L582.0 335.8L582.1 335.4L582.3 335.0L582.5 334.1L582.7 333.1L582.9 332.5L583.1 331.6L583.3 331.5L583.5 330.6L583.7 329.9L583.9 328.9L584.2 328.5L584.4 327.7L584.6 327.2L584.8 326.2L585.0 326.0L585.2 325.2L585.4 324.3L585.7 323.8L585.9 323.4L586.1 322.5L586.3 322.3L586.6 320.9L586.8 321.0L587.1 320.1L587.4 319.3L587.7 318.9L588.0 317.6L588.4 317.1L588.7 316.8L589.0 316.2L589.4 315.3L589.7 315.2L590.0 314.3L590.4 313.2L590.7 312.6L591.1 312.0L591.4 311.8L591.7 310.9L592.0 310.2L592.4 309.7L592.7 308.8L593.0 308.7L593.3 308.1L593.5 307.2L593.8 306.5L594.1 305.8L594.3 305.4L594.6 304.6L594.8 304.4L595.1 303.8L595.4 302.9L595.6 302.4L595.9 301.1L596.1 300.5L596.4 300.0L596.6 299.2L596.9 298.7L597.1 298.5L597.4 297.7L597.6 297.1L597.8 295.9L598.1 295.2L598.3 294.3L598.5 293.8L598.8 292.9L599.0 292.6L599.2 291.7L599.4 291.4L599.6 290.6L599.8 290.0L600.0 289.1L600.2 288.8L600.3 288.1L600.5 287.4L600.7 286.5L600.9 285.8L601.0 285.0L601.2 284.1L601.4 283.8L601.5 283.2L601.7 282.1L601.8 282.0L602.0 281.3L602.2 280.6L602.3 279.8L602.5 278.9L602.7 277.9L602.8 277.3L603.0 276.9L603.1 276.4L603.3 275.0L603.5 274.3L603.6 273.8L603.8 273.1L604.0 272.6L604.1 271.6L604.3 271.5L604.5 270.4L604.7 270.2L604.8 269.0L605.0 268.3L605.2 267.5L605.4 267.5L605.6 266.5L605.7 266.0L605.9 264.8L606.1 264.5L606.3 264.0L606.5 263.5L606.7 262.8L606.8 261.5L607.0 261.0L607.2 260.8L607.4 259.8L607.6 259.5L607.8 258.2L607.9 257.4L608.1 257.4L608.3 256.2L608.5 255.8L608.6 254.9L608.8 254.4L609.0 254.0L609.2 253.3L609.3 252.5L609.5 251.3L609.7 251.1L609.8 249.8L610.0 249.4L610.1 249.2L610.3 247.9L610.4 247.4L610.6 246.9L610.7 245.9L610.9 245.6L611.0 244.9L611.2 243.7L611.3 243.7L611.4 242.3L611.6 242.2L611.7 241.2L611.9 240.3L612.0 239.6L612.2 239.6L612.3 238.7L612.4 237.8L612.6 237.3L612.7 236.7L612.8 236.0L613.0 235.0L613.1 234.0L613.3 233.5L613.4 233.1L613.5 232.2L613.6 231.4L613.8 230.8L613.9 229.7L614.0 229.1L614.2 228.5L614.3 227.3L614.4 227.1L614.5 225.8L614.6 225.6L614.7 224.9L614.8 223.9L614.9 223.9L615.1 222.8L615.2 222.0L615.3 221.5L615.4 220.9L615.5 220.1L615.6 219.1L615.7 218.5L615.8 218.3L615.9 217.1L616.0 216.6L616.1 216.3L616.2 215.6L616.3 215.0L616.4 213.7L616.5 212.9L616.6 212.7L616.7 211.9L616.8 211.0L616.9 210.0L617.0 209.6L617.1 208.8L617.2 208.3L617.2 207.9L617.3 206.6L617.4 205.7L617.5 205.5L617.6 204.3L617.7 203.7L617.8 203.1L617.9 202.8L618.0 201.6L618.1 200.8L618.1 200.2L618.2 199.2L618.3 198.7L618.4 198.2L618.5 197.1L618.6 196.8L618.6 195.5L618.7 194.7L618.8 194.4L618.9 193.6L618.9 193.3L619.0 192.0L619.1 191.8L619.1 191.1L619.2 190.2L619.3 189.3L619.3 189.0L619.4 188.5L619.4 187.6L619.5 186.9L619.5 186.4L619.6 185.6L619.7 184.8L619.7 183.9L619.8 183.4L619.8 182.8L619.9 182.4L619.9 181.8L620.0 180.7L620.0 179.8L620.1 179.0L620.1 178.7L620.2 178.1L620.2 177.0L620.2 176.6L620.3 176.1L620.3 175.0L620.4 174.7L620.4 173.6L620.5 173.0L620.5 172.5L620.6 171.3L620.6 170.7L620.7 170.5L620.7 169.0L620.8 168.5L620.8 167.9L620.9 167.4L620.9 166.6L620.9 166.2L621.0 165.2L621.0 164.0L621.1 163.3L621.1 162.6L621.2 162.2L621.2 161.2L621.3 160.9L621.3 160.2L621.4 159.2L621.4 159.0L621.5 157.9L621.6 157.7L621.6 156.5L621.7 156.0L621.7 155.2L621.8 154.3L621.8 154.0L621.9 152.7L622.0 152.2L622.0 151.6L622.1 151.3L622.1 150.3L622.2 149.2L622.3 148.7L622.3 148.2L622.4 147.7L622.5 146.4L622.5 146.2L622.6 145.2L622.7 144.6L622.7 143.8L622.8 143.1L622.9 142.8L622.9 142.0L623.0 141.3L623.1 140.4L623.2 139.7L623.2 138.5L623.3 137.7L623.4 137.6L623.4 136.8L623.5 136.0L623.6 135.0L623.7 134.3L623.7 134.1L623.8 133.0L623.9 131.9L623.9 131.5L624.0 130.7L624.1 129.8L624.2 129.8L624.2 129.1L624.3 128.3L624.4 126.9L624.4 126.5L624.5 125.6L624.6 125.4L624.7 124.8L624.7 124.0L624.8 123.4L624.9 122.1L625.0 121.4L625.0 120.7L625.1 120.7L625.2 120.0L625.2 119.0L625.3 118.2L625.4 118.0L625.5 116.7L625.5 116.2L625.6 115.3L625.7 115.5L625.7 114.4L625.8 114.0L625.9 113.4L625.9 112.6L626.0 112.3L626.1 111.3L626.2 110.7L626.2 109.9L626.3 108.5L626.4 108.2L626.5 107.0L626.6 106.4L626.6 105.6L626.7 105.4L626.8 103.9L626.9 103.4L627.0 102.5L627.0 102.4L627.1 101.3L627.2 100.7L627.3 99.8L627.3 99.3L627.4 98.3L627.5 97.6L627.6 97.2L627.6 96.4L627.7 95.9L627.8 94.7L627.9 94.5L628.0 93.7L628.0 92.9L628.1 92.1L628.2 91.5L628.3 90.5L628.4 89.8L628.5 89.4L628.6 88.6L628.6 87.9L628.7 87.8L628.8 87.1L628.9 86.4L629.0 85.5L629.1 85.3L629.2 84.6L629.4 83.6L629.5 82.4L629.6 81.9L629.8 80.9L629.9 80.0L630.0 79.1L630.2 78.8L630.3 77.8L630.5 77.3L630.6 75.9L630.8 75.2L630.9 74.7L631.0 73.6L631.2 73.1L631.3 72.7L631.5 72.0L631.6 71.8L631.8 71.0L631.9 70.6L632.1 70.1L632.2 69.8L632.6 68.5L633.0 67.4L633.4 67.9L633.7 67.9L634.0 67.9L634.2 68.6L634.5 69.5L634.8 70.8L635.1 71.4L635.3 72.3L635.4 73.2L635.6 73.4L635.7 74.2L635.8 74.9L635.9 75.5L636.0 76.0L636.1 76.8L636.2 77.5L636.3 78.3L636.4 79.1L636.5 79.8L636.6 80.6L636.7 81.1L636.8 82.5L636.9 83.2L636.9 83.8L637.0 84.3L637.1 85.3L637.2 86.6L637.3 87.1L637.4 87.5L637.4 88.6L637.5 89.3L637.6 89.3L637.6 90.3L637.7 91.0L637.7 91.3L637.8 92.1L637.9 93.0L637.9 93.8L638.0 94.4L638.0 95.1L638.1 95.6L638.2 96.1L638.2 96.7L638.3 98.1L638.3 98.8L638.4 99.6L638.4 99.7L638.5 100.9L638.5 101.2L638.6 102.1L638.7 102.7L638.7 104.0L638.8 104.7L638.8 105.4L638.9 105.8L638.9 107.0L639.0 107.2L639.1 108.2L639.1 109.0L639.2 109.4L639.3 110.3L639.3 110.8L639.4 112.1L639.5 112.3L639.5 112.9L639.6 113.7L639.7 114.7L639.7 115.4L639.8 115.9L639.9 116.9L639.9 117.5L640.0 117.7L640.1 118.7L640.1 119.1L640.2 119.8L640.3 120.4L640.3 121.1L640.4 122.0L640.5 123.1L640.5 123.6L640.6 123.9L640.7 124.7L640.8 125.7L640.8 126.3L640.9 126.6L641.0 127.4L641.1 128.5L641.1 129.2L641.2 129.5L641.3 130.8L641.4 131.1L641.4 132.1L641.5 132.7L641.6 133.3L641.6 134.5L641.7 134.8L641.8 135.5L641.9 136.3L641.9 137.3L642.0 138.1L642.1 138.7L642.2 139.2L642.2 140.1L642.3 140.7L642.4 141.7L642.4 142.5L642.5 143.0L642.6 143.3L642.6 144.2L642.7 144.8L642.8 145.3L642.8 146.4L642.9 146.7L642.9 147.7L643.0 148.3L643.1 148.9L643.1 149.8L643.2 150.5L643.3 151.4L643.3 152.1L643.4 152.7L643.4 152.9L643.5 153.9L643.6 154.5L643.6 155.5L643.7 155.8L643.8 156.5L643.8 156.9L643.9 158.0L643.9 158.7L644.0 159.2L644.1 159.8L644.1 160.8L644.2 161.2L644.3 161.9L644.3 162.9L644.4 163.5L644.4 164.3L644.5 165.1L644.6 165.6L644.6 166.2L644.7 166.8L644.7 167.9L644.8 168.9L644.9 169.1L644.9 169.9L645.0 170.6L645.1 171.6L645.1 172.1L645.2 173.1L645.2 173.1L645.3 174.0L645.4 174.7L645.4 175.6L645.5 176.3L645.5 177.0L645.6 178.2L645.7 178.4L645.7 179.2L645.8 180.2L645.8 180.7L645.9 181.3L646.0 182.2L646.0 182.5L646.1 183.0L646.1 184.4L646.2 184.8L646.2 185.5L646.3 185.8L646.4 187.1L646.4 187.5L646.5 188.4L646.5 188.8L646.6 190.0L646.7 190.3L646.7 190.9L646.8 192.1L646.8 192.3L646.9 193.0L646.9 193.9L647.0 195.0L647.1 195.0L647.1 195.8L647.2 197.0L647.2 197.1L647.3 198.1L647.4 199.1L647.4 199.7L647.5 200.5L647.5 200.7L647.6 202.0L647.6 202.3L647.7 203.4L647.8 203.8L647.8 204.8L647.9 205.2L647.9 205.7L648.0 206.3L648.1 207.3L648.1 207.7L648.2 208.5L648.2 209.7L648.3 210.2L648.3 211.1L648.4 211.2L648.5 212.2L648.5 212.9L648.6 213.3L648.6 214.1L648.7 215.3L648.8 215.9L648.8 216.4L648.9 217.2L648.9 218.2L649.0 219.0L649.1 219.4L649.1 219.7L649.2 221.1L649.2 221.2L649.3 222.0L649.3 222.7L649.4 223.7L649.5 224.5L649.5 225.1L649.6 225.8L649.6 226.3L649.7 227.5L649.7 228.1L649.8 228.6L649.8 229.7L649.9 230.6L650.0 231.3L650.0 232.0L650.1 232.0L650.1 233.0L650.2 233.8L650.2 234.3L650.3 235.4L650.4 236.3L650.4 236.4L650.5 237.4L650.5 238.5L650.6 239.1L650.7 239.5L650.7 239.9L650.8 240.9L650.9 241.6L650.9 242.5L651.0 242.7L651.1 243.5L651.1 244.7L651.2 244.6L651.3 245.8L651.3 246.0L651.4 247.2L651.5 247.6L651.6 248.7L651.6 248.8L651.7 250.0L651.8 250.1L651.9 250.7L652.0 251.5L652.1 252.2L652.2 253.2L652.3 254.4L652.4 254.6L652.5 255.6L652.6 255.8L652.7 256.9L652.8 257.6L652.9 258.0L653.0 259.1L653.1 259.7L653.2 260.3L653.4 261.4L653.5 261.9L653.6 262.2L653.7 262.8L653.8 263.5L653.9 264.3L654.1 265.3L654.2 266.2L654.3 266.9L654.4 267.5L654.5 267.6L654.6 268.8L654.8 269.5L654.9 269.9L655.0 271.0L655.1 271.4L655.3 271.7L655.4 272.4L655.5 273.0L655.6 274.1L655.8 274.8L655.9 275.7L656.0 275.7L656.2 276.4L656.3 277.9L656.4 278.0L656.6 278.7L656.7 279.9L656.8 279.9L657.0 281.2L657.1 282.0L657.3 282.4L657.4 283.1L657.5 283.3L657.7 284.5L657.8 285.2L658.0 286.0L658.1 286.5L658.3 286.9L658.4 287.7L658.6 288.7L658.7 289.0L658.9 289.7L659.0 290.5L659.2 291.6L659.3 292.1L659.4 292.6L659.6 293.8L659.7 294.2L659.9 294.6L660.0 295.5L660.2 296.4L660.3 296.7L660.5 297.4L660.6 298.2L660.7 299.2L660.9 299.6L661.0 299.8L661.1 300.9L661.3 301.4L661.4 302.2L661.6 303.1L661.7 303.3L661.9 304.3L662.0 304.9L662.2 305.8L662.3 306.7L662.4 307.1L662.6 307.9L662.7 308.3L662.9 309.0L663.0 309.8L663.1 310.5L663.3 311.0L663.4 312.1L663.5 312.5L663.7 313.1L663.8 313.7L664.0 314.8L664.1 315.6L664.2 316.3L664.4 316.4L664.5 316.9L664.6 318.1L664.8 318.3L664.9 319.6L665.1 320.2L665.2 320.6L665.3 321.3L665.5 322.2L665.6 322.5L665.8 323.3L665.9 324.3L666.0 324.9L666.2 325.5L666.3 325.8L666.4 326.6L666.6 327.3L666.7 327.8L666.9 329.0L667.0 329.6L667.1 330.5L667.3 330.9L667.4 331.9L667.6 332.2L667.7 332.9L667.8 333.4L668.0 334.3L668.1 335.3L668.2 335.7L668.4 336.0L668.5 336.9L668.6 337.5L668.8 338.6L668.9 339.2L669.0 339.8L669.2 340.9L669.3 341.5L669.4 341.6L669.5 342.3L669.7 343.5L669.8 344.1L669.9 344.8L670.0 345.4L670.2 345.7L670.3 346.7L670.4 347.7L670.5 348.2L670.6 348.5L670.7 349.3L670.9 350.6L671.0 351.0L671.1 351.4L671.2 352.5L671.3 353.4L671.5 354.1L671.6 354.6L671.7 355.5L671.8 355.6L671.9 356.6L672.0 357.6L672.1 358.0L672.3 358.5L672.4 359.8L672.5 360.4L672.6 360.6L672.7 361.4L672.8 362.5L672.9 363.5L673.1 364.0L673.2 364.9L673.3 365.0L673.4 366.2L673.5 366.5L673.6 367.3L673.7 367.9L673.8 368.8L673.9 369.2L674.0 370.4L674.1 371.0L674.2 372.0L674.3 372.6L674.4 372.7L674.5 374.1L674.6 374.5L674.7 375.5L674.8 375.9L674.9 376.3L675.0 377.5L675.1 377.8L675.2 379.2L675.3 379.5L675.4 380.5L675.5 380.9L675.6 381.5L675.7 382.5L675.8 383.3L675.9 383.8L676.0 384.3L676.1 385.2L676.2 386.1L676.3 386.4L676.4 387.1L676.5 388.1L676.6 388.9L676.7 389.1L676.8 390.0L676.9 391.2L677.0 391.4L677.1 392.4L677.2 392.7L677.3 393.2L677.4 394.2L677.5 395.2L677.6 395.9L677.7 396.0L677.8 397.3L677.9 397.9L678.0 398.5L678.1 399.4L678.2 400.0L678.3 400.4L678.4 401.5L678.5 401.7L678.6 402.5L678.7 403.7L678.8 404.1L678.9 404.7L679.1 405.6L679.2 406.1L679.3 406.7L679.4 407.5L679.5 407.8L679.6 408.7L679.7 409.1L679.8 410.6L679.9 411.2L680.0 411.7L680.1 412.0L680.2 413.3L680.3 413.6L680.4 414.7L680.5 415.3L680.6 416.1L680.7 416.9L680.8 417.3L680.9 418.4L681.0 418.8L681.1 419.6L681.1 420.3L681.2 420.5L681.3 421.3L681.4 421.9L681.5 422.4L681.6 423.7L681.7 424.2L681.8 424.8L681.8 425.5L681.9 426.5L682.0 426.5L682.1 427.5L682.2 428.4L682.3 429.0L682.4 429.7L682.4 430.2L682.5 430.9L682.6 432.0L682.7 432.5L682.8 433.7L682.9 434.4L683.0 435.1L683.1 435.3L683.2 436.2L683.3 436.6L683.3 437.5L683.4 438.0L683.5 439.1L683.6 440.2L683.7 440.7L683.8 441.1L683.9 441.8L684.0 443.0L684.1 443.0L684.2 444.4L684.3 445.1L684.4 445.1L684.5 446.5L684.6 447.0L684.7 447.5L684.8 448.2L684.9 449.0L685.0 449.6L685.1 450.5L685.2 451.2L685.3 451.5L685.4 452.0L685.6 453.3L685.7 454.0L685.8 454.7L685.9 455.0L686.1 455.7L686.2 457.1L686.3 457.4L686.5 458.2L686.6 459.3L686.7 459.4L686.9 460.4L687.0 460.7L687.1 461.8L687.3 462.6L687.4 462.9L687.5 464.1L687.7 464.9L687.8 465.5L687.9 466.2L688.1 467.0L688.2 467.5L688.4 468.1L688.5 469.0L688.6 469.7L688.8 470.2L688.9 470.9L689.0 471.2L689.2 472.1L689.3 472.7L689.5 473.8L689.6 474.5L689.7 474.8L689.9 476.0L690.0 476.0L690.2 476.7L690.3 477.6L690.4 478.1L690.6 479.5L690.7 479.7L690.9 480.4L691.0 481.5L691.1 481.9L691.3 482.7L691.4 483.2L691.6 483.9L691.7 485.0L691.8 485.2L692.0 486.1L692.1 486.7L692.3 487.1L692.4 487.8L692.5 488.8L692.7 489.7L692.8 490.1L693.0 490.5L693.1 491.9L693.3 491.9L693.4 493.2L693.5 493.2L693.7 494.4L693.8 494.7L694.0 495.5L694.1 496.3L694.3 497.2L694.4 497.7L694.6 498.3L694.7 499.0L694.9 499.8L695.0 500.3L695.2 501.5L695.3 501.6L695.5 502.2L695.7 503.2L695.8 503.8L696.0 504.8L696.1 504.9L696.3 506.1L696.5 506.6L696.6 507.8L696.8 508.0L697.0 508.8L697.2 509.5L697.3 510.3L697.5 510.9L697.7 511.9L697.9 512.4L698.0 513.4L698.2 513.8L698.4 514.6L698.6 515.4L698.7 516.3L698.9 516.9L699.1 517.4L699.3 517.9L699.4 518.6L699.6 519.3L699.8 520.0L700.0 520.7L700.1 521.7L700.3 522.1L700.5 523.2L700.6 523.3L700.8 524.0L701.0 524.6L701.1 525.1L701.3 526.2L701.4 526.7L701.6 527.0L701.8 528.2L702.0 528.9L702.2 529.4L702.4 530.3L702.6 531.0L702.8 531.5L703.0 531.9L703.2 532.8L703.4 533.9L703.5 534.1L703.7 534.9L703.9 535.1L704.1 536.3L704.3 537.0L704.5 537.3L704.7 537.9L704.9 538.7L705.2 539.1L705.4 539.8L705.6 540.4L705.9 541.5L706.1 542.1L706.4 543.1L706.6 543.8L706.9 544.4L707.1 545.2L707.4 545.8L707.7 545.8L707.9 546.6L708.2 548.0L708.5 548.6L708.8 549.1L709.1 549.8L709.4 550.3L709.7 550.9L710.0 551.4L710.3 552.4L710.6 552.8L710.9 553.3L711.2 554.6L711.6 555.0L711.9 555.9L712.3 556.1L712.6 556.9L713.0 557.4L713.4 558.5L713.7 558.6L714.1 559.6L714.5 560.1L714.9 560.5L715.3 560.9L715.6 561.9L716.0 562.4L716.5 563.2L716.9 563.3L717.3 563.8L717.7 564.3L718.2 565.3L718.8 565.4L719.3 566.3L719.8 566.3L720.4 566.8L720.9 567.8L721.5 568.1L722.1 568.2L722.7 568.9L723.3 569.6L723.9 569.5L724.5 569.9L725.2 570.1L725.9 570.4L726.6 570.2L727.4 571.0L728.2 570.8L728.9 570.7L729.7 570.7L730.5 570.7L731.2 571.4L732.0 571.4L732.7 571.2L733.4 571.5L734.1 571.6L734.8 571.5L735.6 571.5L736.3 572.2L736.9 571.9L737.6 572.5L738.3 572.3L738.9 572.6L739.5 573.0L740.1 573.8L740.6 574.2L741.1 575.0L741.6 575.3L742.1 575.7L742.6 575.9L743.1 577.3L743.5 577.5L744.0 578.5L744.4 578.5L744.9 579.8L745.3 580.0L745.6 580.4L745.9 581.1L746.3 581.4L746.6 582.5L746.9 582.8L747.2 583.8L747.5 584.0L747.8 585.1L748.2 585.7L748.5 586.5L748.8 587.3L749.1 587.5L749.4 588.4L749.7 588.9L750.0 590.0L750.3 590.6L750.6 591.1L750.9 591.6L751.2 592.0L751.5 593.2L751.8 593.9L752.1 594.5L752.3 594.7L752.6 595.7L752.9 596.2L753.2 597.0L753.5 597.6L753.8 598.0L754.1 598.6L754.4 599.6L754.6 600.1L754.9 600.7L755.2 601.6L755.5 601.6L755.8 602.2L756.1 603.2L756.4 603.6L756.7 604.9L757.0 604.9L757.3 606.2L757.6 606.4L757.9 607.0L758.2 608.1L758.5 608.7L758.8 609.2L759.1 610.0L759.4 610.6L759.7 611.5L760.0 611.8L760.3 612.4L760.6 612.9L760.9 613.5L761.2 614.3L761.6 614.5L762.0 615.6L762.4 616.5L762.8 617.0L763.2 617.5L763.5 617.9L764.0 618.3L764.4 618.9L764.8 619.8L765.2 620.5L765.6 620.9L766.0 620.7L766.7 621.7L767.3 622.1L768.0 622.1L768.7 622.6L769.4 622.0L770.1 622.1L770.8 622.0L771.5 621.9L772.2 621.3L772.9 620.7L773.5 620.6L773.9 619.8L774.2 619.4L774.6 618.7L774.9 618.4L775.2 617.9L775.5 617.0L775.9 616.6L776.2 615.8L776.5 614.7L776.8 614.7L777.0 613.5L777.3 612.9L777.6 612.5L777.9 611.2L778.2 610.4L778.4 609.9L778.7 609.2L778.9 609.1L779.1 608.2L779.4 607.2L779.6 606.7L779.8 606.3L780.0 605.3L780.2 604.7L780.5 604.5L780.7 603.5L780.9 602.6L781.1 602.2L781.3 601.1L781.5 600.7L781.7 600.1L781.9 599.0L782.2 598.6L782.4 597.7L782.6 597.4L782.8 596.6L783.0 596.1L783.2 595.2L783.4 594.2L783.6 593.5L783.8 593.3L784.0 592.7L784.2 591.4L784.4 591.0L784.6 590.2L784.8 589.6L785.0 589.2L785.2 588.3L785.4 587.7L785.6 587.1L785.8 586.0L786.0 585.6L786.2 584.7L786.4 584.1L786.6 583.4L786.8 582.9L787.0 581.8L787.2 581.7L787.4 580.5L787.6 580.0L787.8 579.8L788.0 579.2L788.3 577.9L788.5 577.7L788.8 576.2L789.0 576.2L789.3 574.9L789.5 574.1L789.8 574.0L790.1 572.8L790.3 572.6L790.6 571.3L790.8 570.7L791.1 570.2L791.4 569.4L791.7 569.0L791.9 568.3L792.2 568.0L792.5 567.2L792.8 566.9L793.2 566.0L793.5 564.8L793.9 564.7L794.2 564.0L794.6 563.0L794.9 562.3L795.3 561.4L795.7 560.9L796.1 560.2L796.5 559.7L796.9 559.5L797.3 558.9L797.9 558.7L798.6 558.0L799.3 557.8L800.0 556.9L800.7 557.2L801.3 556.8L802.0 556.7L802.9 556.3L803.7 556.7L804.6 556.6L805.4 557.2L805.9 557.4L806.5 557.4L807.0 558.0L807.6 558.9L808.1 558.8L808.6 559.9L809.2 560.5L809.7 561.3L810.2 561.7L810.6 562.3L811.0 562.9L811.3 563.7L811.7 563.7L812.0 564.7L812.4 565.2L812.8 566.1L813.1 566.5L813.5 567.1L813.8 567.8L814.2 569.0L814.5 569.3L814.9 570.3L815.2 570.9L815.6 571.1L816.0 572.0L816.4 572.2L816.8 573.6L817.1 574.0L817.5 574.3L817.9 575.3L818.3 575.9L818.7 576.7L819.1 577.0L819.5 578.2L819.9 578.5L820.3 578.7L820.7 579.8L821.1 580.4L821.6 580.6L822.1 581.6L822.7 582.3L823.2 582.9L823.7 582.8L824.3 584.0L824.8 584.0L825.3 584.8L825.9 585.0L826.7 585.2L827.5 585.8L828.3 585.9L829.1 586.1L829.9 586.0L830.6 585.5L831.3 585.4L832.0 585.0L832.7 584.4L833.4 584.0L834.1 583.5L834.7 582.7L835.2 582.3L835.6 582.2L836.0 581.7L836.4 581.0L836.8 580.4L837.2 579.6L837.6 579.0L838.0 578.4L838.4 577.2L838.8 576.8L839.1 576.5L839.5 575.2L839.8 574.8L840.1 573.9L840.4 573.4L840.6 573.2L840.9 571.9L841.2 571.8L841.4 571.1L841.7 570.5L841.9 569.3L842.2 569.1L842.4 568.0L842.7 567.3L842.9 567.0L843.2 566.0L843.4 565.4L843.7 564.2L843.9 563.4L844.2 562.9L844.4 562.1L844.7 562.0L844.9 560.9L845.2 560.8L845.4 559.8L845.6 558.7L845.9 558.5L846.1 557.4L846.4 556.9L846.6 555.8L846.8 555.8L847.1 555.0L847.3 554.2L847.6 553.6L847.8 552.6L848.0 551.8L848.3 551.3L848.5 551.0L848.8 550.2L849.0 549.2L849.3 548.6L849.6 548.1L849.9 547.0L850.2 546.4L850.5 546.1L850.8 545.2L851.1 545.2L851.4 543.9L851.7 543.8L852.0 543.2L852.2 542.1L852.5 541.6L852.8 541.2L853.1 540.1L853.3 539.3L853.5 539.2L853.7 538.0L853.8 538.0L854.0 536.8L854.2 536.2L854.4 535.5L854.6 535.1L854.7 534.6L854.9 533.7L855.1 532.6L855.3 532.5L855.5 531.6L855.6 530.6L855.8 530.2L856.0 528.8L856.1 528.5L856.3 527.9L856.5 527.2L856.7 526.4L856.8 525.1L857.0 524.7L857.2 523.9L857.3 523.4L857.5 522.6L857.7 521.9L857.9 521.3L858.0 520.7L858.2 520.3L858.4 519.1L858.6 518.3L858.8 517.5L859.0 516.8L859.2 516.6L859.4 516.0L859.5 514.6L859.7 514.1L859.9 513.8L860.1 513.1L860.3 512.5L860.5 511.8L860.7 510.6L860.9 509.8L861.1 509.2L861.3 508.8L861.5 507.7L861.7 507.3L861.9 506.8L862.2 506.4L862.4 505.3L862.7 504.6L863.0 504.0L863.2 503.1L863.5 502.5L863.8 501.7L864.1 501.6L864.4 501.0L864.8 499.6L865.1 499.6L865.4 499.0L865.7 498.2L866.1 497.3L866.4 497.2L866.8 496.0L867.1 495.4L867.5 495.7L868.0 494.4L868.5 494.3L869.1 493.6L869.6 492.5L870.2 492.0L870.8 492.0L871.4 491.2L872.0 491.2L872.7 490.8L873.3 490.2L874.0 490.2L874.7 489.8L875.5 490.2L876.2 489.9L877.0 489.8L877.8 489.7L878.6 489.2L879.4 489.8L880.1 489.7L880.9 489.5L881.7 489.6L882.4 489.6L883.2 489.9L883.9 489.9L884.7 489.9L885.4 490.2L886.2 490.1L886.9 490.1L887.7 490.6L888.4 491.0L889.2 490.9L890.0 490.4L890.7 490.6L891.5 490.7L892.3 490.6L893.1 490.4L893.8 490.3L894.6 490.3L895.3 490.2L896.0 489.7L896.7 489.6L897.4 489.2L898.0 488.4L898.6 488.2L899.1 487.8L899.7 487.3L900.2 487.0L900.7 486.3L901.2 486.3L901.7 485.5L902.2 484.6L902.6 484.3L903.1 483.9L903.6 482.6L904.0 482.5L904.4 482.2L904.8 481.2L905.1 481.0L905.5 480.4L905.9 479.4L906.2 478.6L906.6 478.5L906.9 477.6L907.3 476.9L907.7 476.3L908.0 475.9L908.4 475.4L908.7 474.8L909.1 474.0L909.4 473.0L909.8 472.5L910.2 471.6L910.5 471.1L910.9 470.6L911.2 469.9L911.6 469.5L912.0 468.6L912.3 468.4L912.7 467.6L913.0 466.9L913.4 466.6L913.8 465.7L914.1 464.8L914.5 464.9L914.9 464.2L915.2 463.7L915.6 462.7L916.0 462.1L916.4 461.8L916.9 460.7L917.3 460.7L917.7 459.8L918.1 459.1L918.6 458.1L919.0 457.6L919.4 457.1L919.9 457.0L920.3 455.7L920.8 455.6L921.2 454.6L921.7 454.8L922.2 454.2L922.8 453.7L923.4 453.2L924.0 452.3L924.7 451.9L925.3 451.4L925.9 451.4L926.6 450.7L927.2 450.5L927.8 450.2L928.4 450.6L929.3 450.3L930.1 449.7L930.9 450.1L931.7 449.5L932.5 449.6L933.1 450.0L933.8 450.6L934.4 450.3L935.1 451.3L935.7 451.5L936.4 452.2L937.0 452.3L937.6 452.6L938.1 453.1L938.5 454.1L939.0 454.5L939.4 455.2L939.9 455.4L940.3 456.0L940.7 456.6L941.1 457.8L941.5 458.3L942.0 458.5L942.4 459.7L942.8 459.8L943.1 460.7L943.5 461.2L943.8 462.2L944.1 462.7L944.5 463.3L944.8 463.6L945.1 464.1L945.4 465.3L945.8 466.0L946.1 466.1L946.4 467.5L946.7 468.2L947.1 468.4L947.4 469.3L947.7 470.0L948.0 470.9L948.3 471.4L948.7 472.0L949.0 472.8L949.3 473.2L949.6 473.5L950.0 474.6L950.3 475.2L950.6 475.8L950.9 476.5L951.3 477.0L951.6 477.7L951.9 478.7L952.2 479.5L952.5 479.8L952.9 480.8L953.2 480.9L953.5 481.8L953.9 482.6L954.2 483.3L954.5 483.6L954.9 484.0L955.2 485.3L955.6 485.7L956.0 486.4L956.4 486.8L956.8 487.3L957.2 488.3L957.6 488.8L958.0 489.8L958.4 490.2L958.8 490.9L959.2 491.4L959.6 492.1L960.0 492.2L960.4 493.5L960.9 493.7L961.3 494.3L961.8 494.5L962.3 495.0L962.8 496.1L963.2 496.7L963.7 497.2L964.2 497.4L964.7 498.1L965.3 498.8L965.8 499.2L966.4 499.8L966.9 499.6L967.5 500.6L968.1 500.4L968.7 501.3L969.3 501.6L969.9 501.6L970.5 502.3L971.2 502.8L971.8 503.3L972.5 503.0L973.2 503.6L973.8 504.1L974.5 503.8L975.1 504.6L975.8 504.9L976.5 504.5L977.3 504.6L978.0 504.6L978.8 504.8L979.5 505.0L980.3 505.2L981.0 505.4L981.8 505.1L982.5 505.4L983.3 504.9L984.0 505.0L984.7 504.4L985.4 504.6L986.1 504.2L986.8 504.1L987.5 504.5L988.2 503.8L988.9 503.7L989.6 503.7L990.3 503.5L990.9 503.0L991.6 502.9L992.3 503.2L993.0 502.9L993.8 502.5L994.5 502.7L995.2 502.5L995.9 502.9L996.6 502.0L997.3 502.1L998.1 502.0L998.8 502.4L999.5 502.9L1000.1 502.9L1000.8 502.6L1001.5 503.2L1002.1 503.3L1002.8 504.1L1003.4 504.3L1004.1 504.6L1004.8 504.7L1005.4 505.3L1006.1 505.8L1006.7 506.1L1007.4 506.6L1008.0 506.7L1008.6 507.3L1009.2 508.2L1009.8 508.1L1010.3 508.6L1010.9 509.3L1011.5 509.7L1012.0 510.1L1012.6 510.3L1013.2 511.0L1013.7 511.0L1014.3 511.8L1014.9 511.8L1015.4 512.3L1016.0 512.7L1016.6 513.3L1017.2 514.1L1017.8 513.9L1018.4 515.0L1019.1 514.8L1019.7 516.0L1020.3 516.4L1020.9 516.5L1021.5 517.1L1022.1 517.6L1022.8 517.6L1023.4 518.4L1024.0 518.1L1024.6 519.1L1025.2 519.4L1025.8 519.9L1026.4 519.8L1027.0 520.2L1027.6 520.9L1028.2 521.4L1028.9 521.8L1029.5 521.8L1030.1 522.5L1030.7 523.2L1031.4 523.0L1032.0 523.8L1032.6 524.2L1033.3 524.3L1033.9 524.4L1034.6 524.7L1035.2 525.1L1035.9 525.1L1036.5 525.4L1037.2 525.9L1037.9 526.1L1038.6 526.9L1039.2 526.7L1039.9 527.4L1040.5 527.4L1041.2 527.8L1042.0 528.0L1042.7 528.1L1043.4 528.0L1044.2 528.0L1044.9 528.4L1045.7 528.3L1046.4 528.8L1047.2 528.3L1047.9 528.8L1048.7 528.6L1049.5 528.6L1050.2 528.7L1050.8 529.0L1051.5 528.9L1052.2 528.3L1052.9 528.7L1053.5 528.5L1054.2 528.0L1054.9 527.9L1055.6 527.4L1056.3 527.7L1057.0 527.3L1057.7 527.3L1058.4 527.3L1059.1 526.9L1059.8 526.8L1060.5 526.5L1061.2 525.9L1061.9 526.0L1062.6 525.5L1063.2 525.4L1063.9 525.8L1064.6 525.2L1065.3 524.7L1066.0 524.8L1066.7 524.3L1067.4 524.5L1068.0 524.0L1068.7 523.7L1069.4 523.8L1070.1 523.8L1070.8 522.9L1071.5 523.2L1072.2 522.9L1072.9 522.5L1073.5 522.2L1074.2 521.6L1074.9 521.6L1075.6 521.5L1076.3 521.1L1077.0 521.4L1077.6 520.6L1078.3 520.8L1079.0 520.5L1079.7 520.3L1080.4 519.8L1081.1 519.6L1081.8 519.6L1082.5 518.8L1083.1 518.7L1083.8 518.3L1084.5 518.5L1085.2 518.3L1085.9 518.5L1086.6 518.3L1087.3 517.7L1087.9 517.6L1088.6 517.1L1089.3 517.4L1090.0 517.1L1090.7 516.6L1091.4 517.0L1092.2 516.2L1092.9 516.2L1093.6 516.3L1094.4 516.6L1095.1 515.8L1095.8 515.8L1096.6 516.1L1097.3 515.6L1098.0 516.0L1098.8 515.2L1099.5 515.3L1100.3 515.2L1101.0 515.6L1101.7 514.9L1102.5 515.3L1103.2 515.4L1103.9 515.4L1104.7 515.2L1105.4 514.5L1106.1 514.8L1106.9 514.5L1107.6 514.4L1108.4 514.4L1109.1 514.8L1109.8 514.6L1110.6 514.2L1111.3 514.3L1112.0 514.1L1112.8 514.8L1113.5 514.7L1114.2 514.4L1115.0 514.8L1115.7 514.9L1116.5 514.3L1117.2 514.3L1117.9 514.3L1118.7 514.7L1119.4 514.7L1120.1 514.7L1120.9 515.0L1121.6 514.8L1122.3 514.7L1123.0 515.1L1123.7 515.4L1124.4 514.8L1125.1 515.2L1125.8 515.1L1126.5 515.7L1127.2 515.5L1127.8 516.0L1128.5 516.0L1129.2 516.3L1129.9 516.2L1130.6 516.3L1131.3 516.7L1132.0 516.7L1132.7 516.5L1133.4 516.5L1134.1 517.3L1134.8 516.7L1135.4 517.6L1136.1 517.8L1136.8 517.7L1137.5 518.1L1138.2 518.0L1138.9 518.3L1139.5 518.3L1140.2 518.2L1140.9 518.2L1141.6 518.9L1142.3 518.8L1143.0 518.6L1143.8 519.1L1144.5 519.0L1145.2 519.1L1146.0 519.7L1146.7 519.6L1147.4 519.8L1148.2 519.9L1148.9 519.7L1149.7 519.8L1150.4 519.8L1151.1 519.8L1151.9 520.2L1152.6 520.3L1153.3 519.9L1154.1 520.2L1154.8 519.8L1155.5 519.6L1156.3 520.1L1157.0 520.2L1157.8 519.8L1158.5 520.3L1159.2 520.0L1160.0 519.6L1160.7 519.9L1161.4 519.9L1162.2 519.2L1162.9 519.7L1163.6 519.2L1164.3 519.0L1165.0 518.9L1165.7 518.9L1166.3 518.8L1167.0 518.4L1167.7 518.1L1168.4 518.4L1169.1 518.2L1169.8 518.0L1170.5 517.6L1171.2 517.8L1171.8 516.9L1172.5 516.8L1173.2 516.5L1173.9 516.7L1174.6 516.5L1175.3 516.0L1176.0 516.0L1176.6 515.3L1177.3 515.1L1178.0 515.6L1178.7 515.3L1179.4 514.4L1180.1 514.6L1180.8 514.2L1181.4 514.0L1182.1 513.9L1182.8 513.5L1183.5 513.6L1184.2 513.1L1184.9 513.1L1185.6 512.2L1186.2 512.6L1186.9 511.9L1187.6 512.2L1188.3 511.9L1189.0 511.8L1189.7 511.4L1190.4 511.0L1191.0 510.9L1191.7 510.9L1192.4 510.1L1193.1 510.3L1193.8 510.2L1194.5 510.1L1195.2 509.6L1195.9 509.7L1196.5 509.6L1197.2 509.2L1197.9 509.3L1198.6 509.3L1199.3 508.8L1200.0 508.8L1200.7 508.6L1201.3 508.8L1202.0 508.2L1202.7 508.1L1203.4 508.0L1204.1 508.1L1204.8 507.6L1205.6 508.1L1206.3 507.6L1207.0 507.7L1207.7 507.3L1208.5 506.9L1209.2 507.1L1209.9 507.1L1210.6 506.7L1211.4 507.3L1212.1 506.9L1212.9 506.7L1213.6 506.3L1214.4 506.4L1215.1 506.4L1215.8 506.6L1216.5 506.2L1217.2 506.4L1218.0 506.2L1218.7 506.5L1219.4 506.6L1220.2 506.4L1220.9 506.6L1221.6 506.5L1222.4 506.1L1223.1 506.5L1223.9 506.4L1224.6 506.6L1225.3 506.8L1226.1 506.3L1226.8 506.7L1227.5 506.2L1228.3 506.5L1229.0 506.0L1229.7 506.7L1230.4 506.4L1231.2 506.4L1231.9 506.4L1232.6 506.3L1233.4 506.2L1234.1 506.6L1234.8 506.5L1235.6 506.1L1236.3 506.2L1237.0 506.8L1237.7 506.2L1238.5 506.2L1239.2 506.5L1239.9 506.3L1240.6 506.7L1241.4 506.7L1242.1 506.1L1242.8 506.1L1243.5 506.1L1244.3 506.3L1245.0 506.1L1245.7 506.4L1246.4 506.5L1247.2 505.9L1247.9 505.8L1248.6 505.8L1249.3 506.0L1250.1 505.8L1250.8 506.0L1251.5 505.9L1252.2 506.1L1253.0 506.3L1253.7 506.2L1254.4 505.7L1255.1 505.8L1255.9 505.3L1256.6 505.7L1257.3 505.8L1258.1 505.7L1258.8 505.1L1259.5 505.0L1260.3 505.5L1261.0 505.3L1261.7 505.3L1262.4 504.7L1263.2 505.0L1263.9 504.5L1264.6 505.0L1265.3 505.0L1266.1 504.6L1266.8 504.3L1267.5 504.9L1268.2 505.1L1268.9 504.7L1269.6 504.5L1270.3 504.4L1271.1 504.8L1271.8 504.9L1272.5 504.4L1273.3 504.2L1274.0 504.8L1274.8 504.3L1275.5 504.3L1276.3 504.1L1277.0 504.4L1277.6 504.6L1278.3 504.2L1279.0 504.5L1279.7 504.1L1280.4 504.0L1281.1 504.3L1281.9 504.4L1282.6 504.2L1283.3 504.1L1284.0 504.2L1284.8 504.2L1285.5 504.2L1286.2 503.8L1287.0 503.7L1287.7 503.4L1288.4 503.7L1289.2 503.6L1289.9 503.2L1290.6 504.0L1291.4 503.4L1292.1 503.9L1292.8 503.1" fill="none" stroke="#cb7e3e" stroke-width="3.7" stroke-linejoin="round" stroke-linecap="butt"/>
<path d="M322 29.4H308.50V821.5H1292.8" stroke="#1e1a1b" stroke-width="3.1" fill="none" stroke-linejoin="bevel"/>
<path d="M306.9 623.5H322" stroke="#1e1a1b" stroke-width="3.1" fill="none"/>
<path d="M306.9 425.4H322" stroke="#1e1a1b" stroke-width="3.1" fill="none"/>
<path d="M306.9 227.4H322" stroke="#1e1a1b" stroke-width="3.1" fill="none"/>
<path d="M589.5 821.5V808.9" stroke="#1e1a1b" stroke-width="3.1" fill="none"/>
<path d="M870.5 821.5V808.9" stroke="#1e1a1b" stroke-width="3.1" fill="none"/>
<path d="M1151.5 821.5V808.9" stroke="#1e1a1b" stroke-width="3.1" fill="none"/>
<g font-family="'Liberation Serif', 'Noto Serif CJK SC', serif" font-size="55" fill="#1e1a1b">
<text x="287.4" y="837.7" text-anchor="end" font-size="55.5">0</text>
<text x="287.4" y="639.9" text-anchor="end" font-size="55.5">2</text>
<text x="287.4" y="442.1" text-anchor="end" font-size="55.5">4</text>
<text x="287.4" y="244.3" text-anchor="end" font-size="55.5">6</text>
<text x="287.4" y="46.5" text-anchor="end" font-size="55.5">8</text>
<text x="308.5" y="885.7" text-anchor="middle" font-size="56">80</text>
<text x="589.5" y="885.7" text-anchor="middle" font-size="56">90</text>
<text x="870.5" y="885.7" text-anchor="middle" font-size="56">100</text>
<text x="1151.5" y="885.7" text-anchor="middle" font-size="56">110</text>
<text y="953.3"><tspan x="703.9" dy="1.4" font-size="54" letter-spacing="1">时间</tspan><tspan x="815.2" dy="-1.4" font-size="57" letter-spacing="-0.5">/ms</tspan></text>
<text transform="translate(229.7 525) rotate(-90)"><tspan x="0">受</tspan><tspan x="57.7">力</tspan><tspan x="114.3" font-size="57.5" letter-spacing="-1.8">/kN</tspan></text>
<path d="M921 100.5H1004" stroke="#777a82" stroke-width="3.0" fill="none"/>
<text y="113.5"><tspan x="1010" dy="0.5">工况</tspan><tspan x="1122.9" dy="-0.5" font-size="57">1</tspan></text>
<path d="M921 163.6H1004" stroke="#6e1b24" stroke-width="3.0" fill="none"/>
<text y="176.6"><tspan x="1010" dy="0.5">工况</tspan><tspan x="1122.9" dy="-0.5" font-size="57">2</tspan></text>
<path d="M921 227.4H1004" stroke="#49597b" stroke-width="3.0" fill="none"/>
<text y="240.4"><tspan x="1010" dy="0.5">工况</tspan><tspan x="1122.9" dy="-0.5" font-size="57">3</tspan></text>
<path d="M921 290.5H1004" stroke="#cb7e3e" stroke-width="3.0" fill="none"/>
<text y="303.5"><tspan x="1010" dy="0.5">工况</tspan><tspan x="1122.9" dy="-0.5" font-size="57">4</tspan></text>
</g>
</svg>
</body>
</html>
